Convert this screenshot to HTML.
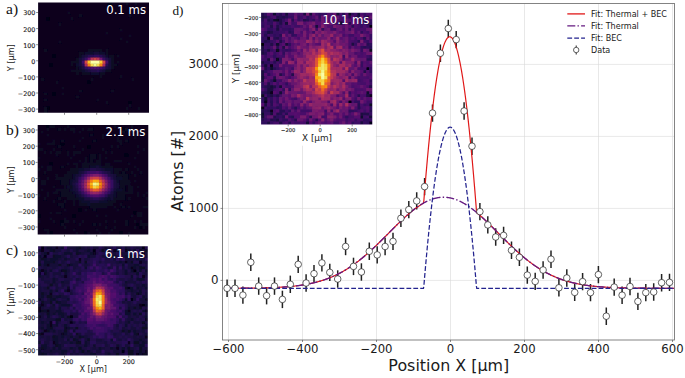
<!DOCTYPE html>
<html><head><meta charset="utf-8"><title>Figure</title>
<style>html,body{margin:0;padding:0;background:#fff}svg{display:block}</style>
</head><body>
<svg width="685" height="378" viewBox="0 0 685 378" font-family="'DejaVu Sans','Liberation Sans',sans-serif">
<rect width="685" height="378" fill="#fff"/>
<defs><filter id="bl" x="-5%" y="-5%" width="110%" height="110%"><feGaussianBlur stdDeviation="0.55"/></filter></defs>
<line x1="228.5" y1="3.5" x2="228.5" y2="340" stroke="#d9d9d9" stroke-width="0.6"/>
<line x1="302.5" y1="3.5" x2="302.5" y2="340" stroke="#d9d9d9" stroke-width="0.6"/>
<line x1="376.5" y1="3.5" x2="376.5" y2="340" stroke="#d9d9d9" stroke-width="0.6"/>
<line x1="450.5" y1="3.5" x2="450.5" y2="340" stroke="#d9d9d9" stroke-width="0.6"/>
<line x1="524.5" y1="3.5" x2="524.5" y2="340" stroke="#d9d9d9" stroke-width="0.6"/>
<line x1="598.5" y1="3.5" x2="598.5" y2="340" stroke="#d9d9d9" stroke-width="0.6"/>
<line x1="672.5" y1="3.5" x2="672.5" y2="340" stroke="#d9d9d9" stroke-width="0.6"/>
<line x1="222.5" y1="280.4" x2="674.5" y2="280.4" stroke="#d9d9d9" stroke-width="0.6"/>
<line x1="222.5" y1="208.4" x2="674.5" y2="208.4" stroke="#d9d9d9" stroke-width="0.6"/>
<line x1="222.5" y1="136.4" x2="674.5" y2="136.4" stroke="#d9d9d9" stroke-width="0.6"/>
<line x1="222.5" y1="64.4" x2="674.5" y2="64.4" stroke="#d9d9d9" stroke-width="0.6"/>
<clipPath id="cp"><rect x="222.5" y="3.5" width="452.0" height="336.5"/></clipPath>
<g clip-path="url(#cp)" fill="none">
<g stroke="#222" stroke-width="1.5">
<line x1="227.1" y1="279.6" x2="227.1" y2="297"/>
<line x1="235" y1="279.6" x2="235" y2="297"/>
<line x1="242.9" y1="286.4" x2="242.9" y2="303.8"/>
<line x1="250.8" y1="253.6" x2="250.8" y2="271"/>
<line x1="258.7" y1="277.4" x2="258.7" y2="294.8"/>
<line x1="266.6" y1="287" x2="266.6" y2="304.4"/>
<line x1="274.5" y1="277.4" x2="274.5" y2="294.8"/>
<line x1="282.4" y1="290.7" x2="282.4" y2="308.1"/>
<line x1="290.3" y1="275.6" x2="290.3" y2="293"/>
<line x1="298.2" y1="255.7" x2="298.2" y2="273.1"/>
<line x1="306.1" y1="274.3" x2="306.1" y2="291.7"/>
<line x1="314" y1="265" x2="314" y2="282.4"/>
<line x1="321.9" y1="254.2" x2="321.9" y2="271.6"/>
<line x1="329.8" y1="263.7" x2="329.8" y2="281.1"/>
<line x1="337.7" y1="270.3" x2="337.7" y2="287.7"/>
<line x1="345.6" y1="237.8" x2="345.6" y2="255.2"/>
<line x1="353.5" y1="257.7" x2="353.5" y2="275.1"/>
<line x1="361.4" y1="263.3" x2="361.4" y2="280.7"/>
<line x1="369.3" y1="242.6" x2="369.3" y2="260"/>
<line x1="377.2" y1="246.2" x2="377.2" y2="263.6"/>
<line x1="385.1" y1="237.8" x2="385.1" y2="255.2"/>
<line x1="393" y1="232.7" x2="393" y2="250.1"/>
<line x1="400.9" y1="209.6" x2="400.9" y2="227"/>
<line x1="408.8" y1="200.9" x2="408.8" y2="218.3"/>
<line x1="416.7" y1="192.2" x2="416.7" y2="209.6"/>
<line x1="424.6" y1="177.9" x2="424.6" y2="195.3"/>
<line x1="432.5" y1="104.4" x2="432.5" y2="121.8"/>
<line x1="440.4" y1="44.5" x2="440.4" y2="61.9"/>
<line x1="448.3" y1="19.8" x2="448.3" y2="37.2"/>
<line x1="456.2" y1="30.9" x2="456.2" y2="48.3"/>
<line x1="464.1" y1="102.3" x2="464.1" y2="119.7"/>
<line x1="472" y1="137.5" x2="472" y2="154.9"/>
<line x1="479.9" y1="202.9" x2="479.9" y2="220.3"/>
<line x1="487.8" y1="216.2" x2="487.8" y2="233.6"/>
<line x1="495.7" y1="228.3" x2="495.7" y2="245.7"/>
<line x1="503.6" y1="226.7" x2="503.6" y2="244.1"/>
<line x1="511.5" y1="241.6" x2="511.5" y2="259"/>
<line x1="519.4" y1="248.6" x2="519.4" y2="266"/>
<line x1="527.3" y1="266.4" x2="527.3" y2="283.8"/>
<line x1="535.2" y1="272.7" x2="535.2" y2="290.1"/>
<line x1="543.1" y1="261.3" x2="543.1" y2="278.7"/>
<line x1="551" y1="250.5" x2="551" y2="267.9"/>
<line x1="558.9" y1="279.1" x2="558.9" y2="296.5"/>
<line x1="566.8" y1="269.3" x2="566.8" y2="286.7"/>
<line x1="574.7" y1="283.7" x2="574.7" y2="301.1"/>
<line x1="582.6" y1="272.9" x2="582.6" y2="290.3"/>
<line x1="590.5" y1="283.9" x2="590.5" y2="301.3"/>
<line x1="598.4" y1="265.9" x2="598.4" y2="283.3"/>
<line x1="606.3" y1="307.5" x2="606.3" y2="324.9"/>
<line x1="614.2" y1="278.4" x2="614.2" y2="295.8"/>
<line x1="622.1" y1="286.5" x2="622.1" y2="303.9"/>
<line x1="630" y1="277.8" x2="630" y2="295.2"/>
<line x1="637.9" y1="292.7" x2="637.9" y2="310.1"/>
<line x1="645.8" y1="283.9" x2="645.8" y2="301.3"/>
<line x1="653.7" y1="283.3" x2="653.7" y2="300.7"/>
<line x1="661.6" y1="274" x2="661.6" y2="291.4"/>
<line x1="669.5" y1="273.7" x2="669.5" y2="291.1"/>
</g>
<polyline points="227.02,288.28 227.39,288.28 227.77,288.28 228.14,288.28 228.51,288.28 228.88,288.28 229.26,288.28 229.63,288.28 230,288.27 230.37,288.27 230.75,288.27 231.12,288.27 231.49,288.27 231.87,288.27 232.24,288.27 232.61,288.27 232.98,288.26 233.36,288.26 233.73,288.26 234.1,288.26 234.48,288.26 234.85,288.26 235.22,288.25 235.59,288.25 235.97,288.25 236.34,288.25 236.71,288.25 237.08,288.25 237.46,288.24 237.83,288.24 238.2,288.24 238.58,288.24 238.95,288.23 239.32,288.23 239.69,288.23 240.07,288.23 240.44,288.23 240.81,288.22 241.19,288.22 241.56,288.22 241.93,288.22 242.3,288.21 242.68,288.21 243.05,288.21 243.42,288.2 243.79,288.2 244.17,288.2 244.54,288.2 244.91,288.19 245.29,288.19 245.66,288.19 246.03,288.18 246.4,288.18 246.78,288.18 247.15,288.17 247.52,288.17 247.9,288.17 248.27,288.16 248.64,288.16 249.01,288.15 249.39,288.15 249.76,288.15 250.13,288.14 250.5,288.14 250.88,288.13 251.25,288.13 251.62,288.12 252,288.12 252.37,288.11 252.74,288.11 253.11,288.1 253.49,288.1 253.86,288.09 254.23,288.09 254.61,288.08 254.98,288.08 255.35,288.07 255.72,288.06 256.1,288.06 256.47,288.05 256.84,288.05 257.21,288.04 257.59,288.03 257.96,288.03 258.33,288.02 258.71,288.01 259.08,288.01 259.45,288 259.82,287.99 260.2,287.98 260.57,287.98 260.94,287.97 261.32,287.96 261.69,287.95 262.06,287.94 262.43,287.93 262.81,287.93 263.18,287.92 263.55,287.91 263.92,287.9 264.3,287.89 264.67,287.88 265.04,287.87 265.42,287.86 265.79,287.85 266.16,287.84 266.53,287.83 266.91,287.82 267.28,287.81 267.65,287.79 268.03,287.78 268.4,287.77 268.77,287.76 269.14,287.75 269.52,287.73 269.89,287.72 270.26,287.71 270.63,287.69 271.01,287.68 271.38,287.67 271.75,287.65 272.13,287.64 272.5,287.62 272.87,287.61 273.24,287.59 273.62,287.58 273.99,287.56 274.36,287.55 274.74,287.53 275.11,287.51 275.48,287.5 275.85,287.48 276.23,287.46 276.6,287.44 276.97,287.42 277.34,287.41 277.72,287.39 278.09,287.37 278.46,287.35 278.84,287.33 279.21,287.31 279.58,287.29 279.95,287.27 280.33,287.24 280.7,287.22 281.07,287.2 281.45,287.18 281.82,287.15 282.19,287.13 282.56,287.11 282.94,287.08 283.31,287.06 283.68,287.03 284.05,287 284.43,286.98 284.8,286.95 285.17,286.92 285.55,286.9 285.92,286.87 286.29,286.84 286.66,286.81 287.04,286.78 287.41,286.75 287.78,286.72 288.16,286.69 288.53,286.66 288.9,286.62 289.27,286.59 289.65,286.56 290.02,286.52 290.39,286.49 290.76,286.45 291.14,286.42 291.51,286.38 291.88,286.35 292.26,286.31 292.63,286.27 293,286.23 293.37,286.19 293.75,286.15 294.12,286.11 294.49,286.07 294.87,286.03 295.24,285.99 295.61,285.94 295.98,285.9 296.36,285.85 296.73,285.81 297.1,285.76 297.47,285.71 297.85,285.67 298.22,285.62 298.59,285.57 298.97,285.52 299.34,285.47 299.71,285.42 300.08,285.36 300.46,285.31 300.83,285.26 301.2,285.2 301.58,285.15 301.95,285.09 302.32,285.03 302.69,284.98 303.07,284.92 303.44,284.86 303.81,284.8 304.18,284.73 304.56,284.67 304.93,284.61 305.3,284.54 305.68,284.48 306.05,284.41 306.42,284.35 306.79,284.28 307.17,284.21 307.54,284.14 307.91,284.07 308.29,283.99 308.66,283.92 309.03,283.85 309.4,283.77 309.78,283.7 310.15,283.62 310.52,283.54 310.89,283.46 311.27,283.38 311.64,283.3 312.01,283.21 312.39,283.13 312.76,283.05 313.13,282.96 313.5,282.87 313.88,282.78 314.25,282.69 314.62,282.6 315,282.51 315.37,282.42 315.74,282.32 316.11,282.23 316.49,282.13 316.86,282.03 317.23,281.93 317.6,281.83 317.98,281.73 318.35,281.62 318.72,281.52 319.1,281.41 319.47,281.31 319.84,281.2 320.21,281.09 320.59,280.98 320.96,280.86 321.33,280.75 321.71,280.63 322.08,280.52 322.45,280.4 322.82,280.28 323.2,280.16 323.57,280.03 323.94,279.91 324.31,279.78 324.69,279.66 325.06,279.53 325.43,279.4 325.81,279.27 326.18,279.13 326.55,279 326.92,278.86 327.3,278.72 327.67,278.58 328.04,278.44 328.42,278.3 328.79,278.16 329.16,278.01 329.53,277.86 329.91,277.71 330.28,277.56 330.65,277.41 331.02,277.26 331.4,277.1 331.77,276.95 332.14,276.79 332.52,276.63 332.89,276.46 333.26,276.3 333.63,276.14 334.01,275.97 334.38,275.8 334.75,275.63 335.13,275.46 335.5,275.28 335.87,275.11 336.24,274.93 336.62,274.75 336.99,274.57 337.36,274.38 337.73,274.2 338.11,274.01 338.48,273.83 338.85,273.64 339.23,273.44 339.6,273.25 339.97,273.05 340.34,272.86 340.72,272.66 341.09,272.46 341.46,272.25 341.84,272.05 342.21,271.84 342.58,271.63 342.95,271.42 343.33,271.21 343.7,271 344.07,270.78 344.44,270.56 344.82,270.35 345.19,270.12 345.56,269.9 345.94,269.68 346.31,269.45 346.68,269.22 347.05,268.99 347.43,268.76 347.8,268.52 348.17,268.29 348.55,268.05 348.92,267.81 349.29,267.56 349.66,267.32 350.04,267.08 350.41,266.83 350.78,266.58 351.15,266.33 351.53,266.07 351.9,265.82 352.27,265.56 352.65,265.3 353.02,265.04 353.39,264.78 353.76,264.51 354.14,264.25 354.51,263.98 354.88,263.71 355.26,263.44 355.63,263.16 356,262.89 356.37,262.61 356.75,262.33 357.12,262.05 357.49,261.77 357.86,261.48 358.24,261.2 358.61,260.91 358.98,260.62 359.36,260.33 359.73,260.03 360.1,259.74 360.47,259.44 360.85,259.14 361.22,258.84 361.59,258.54 361.97,258.23 362.34,257.93 362.71,257.62 363.08,257.31 363.46,257 363.83,256.69 364.2,256.37 364.57,256.06 364.95,255.74 365.32,255.42 365.69,255.1 366.07,254.78 366.44,254.46 366.81,254.13 367.18,253.81 367.56,253.48 367.93,253.15 368.3,252.82 368.68,252.48 369.05,252.15 369.42,251.81 369.79,251.48 370.17,251.14 370.54,250.8 370.91,250.46 371.28,250.12 371.66,249.77 372.03,249.43 372.4,249.08 372.78,248.74 373.15,248.39 373.52,248.04 373.89,247.69 374.27,247.34 374.64,246.98 375.01,246.63 375.39,246.27 375.76,245.92 376.13,245.56 376.5,245.2 376.88,244.84 377.25,244.48 377.62,244.12 377.99,243.76 378.37,243.39 378.74,243.03 379.11,242.66 379.49,242.3 379.86,241.93 380.23,241.56 380.6,241.2 380.98,240.83 381.35,240.46 381.72,240.09 382.1,239.72 382.47,239.35 382.84,238.98 383.21,238.6 383.59,238.23 383.96,237.86 384.33,237.48 384.7,237.11 385.08,236.74 385.45,236.36 385.82,235.99 386.2,235.61 386.57,235.24 386.94,234.86 387.31,234.48 387.69,234.11 388.06,233.73 388.43,233.36 388.81,232.98 389.18,232.6 389.55,232.23 389.92,231.85 390.3,231.48 390.67,231.1 391.04,230.73 391.41,230.35 391.79,229.98 392.16,229.6 392.53,229.23 392.91,228.85 393.28,228.48 393.65,228.11 394.02,227.73 394.4,227.36 394.77,226.99 395.14,226.62 395.52,226.25 395.89,225.88 396.26,225.51 396.63,225.14 397.01,224.77 397.38,224.41 397.75,224.04 398.12,223.68 398.5,223.31 398.87,222.95 399.24,222.59 399.62,222.23 399.99,221.87 400.36,221.51 400.73,221.15 401.11,220.79 401.48,220.44 401.85,220.09 402.23,219.73 402.6,219.38 402.97,219.03 403.34,218.69 403.72,218.34 404.09,217.99 404.46,217.65 404.83,217.31 405.21,216.97 405.58,216.63 405.95,216.29 406.33,215.96 406.7,215.62 407.07,215.29 407.44,214.96 407.82,214.64 408.19,214.31 408.56,213.99 408.94,213.67 409.31,213.35 409.68,213.03 410.05,212.71 410.43,212.4 410.8,212.09 411.17,211.78 411.54,211.47 411.92,211.17 412.29,210.87 412.66,210.57 413.04,210.27 413.41,209.98 413.78,209.69 414.15,209.4 414.53,209.11 414.9,208.83 415.27,208.55 415.65,208.27 416.02,208 416.39,207.72 416.76,207.45 417.14,207.19 417.51,206.92 417.88,206.66 418.25,206.4 418.63,206.15 419,205.89 419.37,205.64 419.75,205.4 420.12,205.16 420.49,204.92 420.86,204.68 421.24,204.45 421.61,204.22 421.98,203.99 422.36,203.77 422.73,203.54 423.1,203.33 423.47,203.11 423.85,200.82 424.22,196.14 424.59,191.52 424.96,186.97 425.34,182.48 425.71,178.07 426.08,173.72 426.46,169.44 426.83,165.22 427.2,161.08 427.57,157 427.95,152.99 428.32,149.05 428.69,145.17 429.07,141.36 429.44,137.62 429.81,133.95 430.18,130.35 430.56,126.81 430.93,123.34 431.3,119.94 431.67,116.61 432.05,113.35 432.42,110.15 432.79,107.02 433.17,103.96 433.54,100.97 433.91,98.04 434.28,95.19 434.66,92.4 435.03,89.68 435.4,87.03 435.78,84.44 436.15,81.92 436.52,79.48 436.89,77.1 437.27,74.78 437.64,72.54 438.01,70.37 438.38,68.26 438.76,66.22 439.13,64.25 439.5,62.34 439.88,60.51 440.25,58.74 440.62,57.04 440.99,55.41 441.37,53.85 441.74,52.36 442.11,50.93 442.49,49.57 442.86,48.28 443.23,47.06 443.6,45.91 443.98,44.83 444.35,43.81 444.72,42.86 445.09,41.98 445.47,41.17 445.84,40.43 446.21,39.75 446.59,39.14 446.96,38.6 447.33,38.13 447.7,37.73 448.08,37.4 448.45,37.13 448.82,36.93 449.2,36.8 449.57,36.74 449.94,36.75 450.31,36.82 450.69,36.96 451.06,37.17 451.43,37.45 451.8,37.8 452.18,38.21 452.55,38.7 452.92,39.25 453.3,39.87 453.67,40.55 454.04,41.31 454.41,42.13 454.79,43.02 455.16,43.98 455.53,45.01 455.91,46.1 456.28,47.26 456.65,48.49 457.02,49.79 457.4,51.16 457.77,52.59 458.14,54.09 458.51,55.66 458.89,57.3 459.26,59.01 459.63,60.78 460.01,62.62 460.38,64.53 460.75,66.5 461.12,68.55 461.5,70.66 461.87,72.83 462.24,75.08 462.62,77.39 462.99,79.77 463.36,82.22 463.73,84.74 464.11,87.32 464.48,89.97 464.85,92.69 465.22,95.47 465.6,98.33 465.97,101.25 466.34,104.23 466.72,107.29 467.09,110.41 467.46,113.6 467.83,116.85 468.21,120.17 468.58,123.56 468.95,127.02 469.33,130.54 469.7,134.13 470.07,137.79 470.44,141.52 470.82,145.31 471.19,149.16 471.56,153.09 471.93,157.08 472.31,161.14 472.68,165.26 473.05,169.45 473.43,173.71 473.8,178.03 474.17,182.43 474.54,186.88 474.92,191.41 475.29,196 475.66,200.65 476.04,205.37 476.41,210.16 476.78,212.62 477.15,212.94 477.53,213.26 477.9,213.57 478.27,213.9 478.64,214.22 479.02,214.54 479.39,214.87 479.76,215.2 480.14,215.53 480.51,215.86 480.88,216.2 481.25,216.53 481.63,216.87 482,217.21 482.37,217.55 482.75,217.9 483.12,218.24 483.49,218.59 483.86,218.93 484.24,219.28 484.61,219.63 484.98,219.99 485.35,220.34 485.73,220.69 486.1,221.05 486.47,221.41 486.85,221.77 487.22,222.12 487.59,222.49 487.96,222.85 488.34,223.21 488.71,223.57 489.08,223.94 489.46,224.3 489.83,224.67 490.2,225.04 490.57,225.41 490.95,225.77 491.32,226.14 491.69,226.51 492.06,226.88 492.44,227.26 492.81,227.63 493.18,228 493.56,228.37 493.93,228.75 494.3,229.12 494.67,229.5 495.05,229.87 495.42,230.24 495.79,230.62 496.17,231 496.54,231.37 496.91,231.75 497.28,232.12 497.66,232.5 498.03,232.87 498.4,233.25 498.77,233.63 499.15,234 499.52,234.38 499.89,234.75 500.27,235.13 500.64,235.51 501.01,235.88 501.38,236.26 501.76,236.63 502.13,237 502.5,237.38 502.88,237.75 503.25,238.13 503.62,238.5 503.99,238.87 504.37,239.24 504.74,239.61 505.11,239.98 505.48,240.35 505.86,240.72 506.23,241.09 506.6,241.46 506.98,241.83 507.35,242.19 507.72,242.56 508.09,242.93 508.47,243.29 508.84,243.65 509.21,244.02 509.59,244.38 509.96,244.74 510.33,245.1 510.7,245.46 511.08,245.81 511.45,246.17 511.82,246.53 512.19,246.88 512.57,247.24 512.94,247.59 513.31,247.94 513.69,248.29 514.06,248.64 514.43,248.99 514.8,249.33 515.18,249.68 515.55,250.02 515.92,250.36 516.3,250.7 516.67,251.04 517.04,251.38 517.41,251.72 517.79,252.06 518.16,252.39 518.53,252.72 518.9,253.05 519.28,253.38 519.65,253.71 520.02,254.04 520.4,254.37 520.77,254.69 521.14,255.01 521.51,255.33 521.89,255.65 522.26,255.97 522.63,256.29 523.01,256.6 523.38,256.91 523.75,257.22 524.12,257.53 524.5,257.84 524.87,258.15 525.24,258.45 525.61,258.75 525.99,259.06 526.36,259.35 526.73,259.65 527.11,259.95 527.48,260.24 527.85,260.53 528.22,260.83 528.6,261.11 528.97,261.4 529.34,261.69 529.72,261.97 530.09,262.25 530.46,262.53 530.83,262.81 531.21,263.09 531.58,263.36 531.95,263.63 532.32,263.9 532.7,264.17 533.07,264.44 533.44,264.7 533.82,264.97 534.19,265.23 534.56,265.49 534.93,265.75 535.31,266 535.68,266.25 536.05,266.51 536.43,266.76 536.8,267.01 537.17,267.25 537.54,267.5 537.92,267.74 538.29,267.98 538.66,268.22 539.03,268.46 539.41,268.69 539.78,268.92 540.15,269.15 540.53,269.38 540.9,269.61 541.27,269.84 541.64,270.06 542.02,270.28 542.39,270.5 542.76,270.72 543.14,270.94 543.51,271.15 543.88,271.36 544.25,271.58 544.63,271.78 545,271.99 545.37,272.2 545.74,272.4 546.12,272.6 546.49,272.8 546.86,273 547.24,273.19 547.61,273.39 547.98,273.58 548.35,273.77 548.73,273.96 549.1,274.15 549.47,274.33 549.85,274.52 550.22,274.7 550.59,274.88 550.96,275.06 551.34,275.23 551.71,275.41 552.08,275.58 552.45,275.75 552.83,275.92 553.2,276.09 553.57,276.25 553.95,276.42 554.32,276.58 554.69,276.74 555.06,276.9 555.44,277.06 555.81,277.21 556.18,277.37 556.56,277.52 556.93,277.67 557.3,277.82 557.67,277.97 558.05,278.12 558.42,278.26 558.79,278.4 559.16,278.54 559.54,278.68 559.91,278.82 560.28,278.96 560.66,279.09 561.03,279.23 561.4,279.36 561.77,279.49 562.15,279.62 562.52,279.75 562.89,279.87 563.27,280 563.64,280.12 564.01,280.24 564.38,280.36 564.76,280.48 565.13,280.6 565.5,280.72 565.87,280.83 566.25,280.94 566.62,281.06 566.99,281.17 567.37,281.28 567.74,281.38 568.11,281.49 568.48,281.6 568.86,281.7 569.23,281.8 569.6,281.9 569.98,282 570.35,282.1 570.72,282.2 571.09,282.3 571.47,282.39 571.84,282.48 572.21,282.58 572.58,282.67 572.96,282.76 573.33,282.85 573.7,282.93 574.08,283.02 574.45,283.11 574.82,283.19 575.19,283.27 575.57,283.36 575.94,283.44 576.31,283.52 576.69,283.6 577.06,283.67 577.43,283.75 577.8,283.83 578.18,283.9 578.55,283.97 578.92,284.05 579.29,284.12 579.67,284.19 580.04,284.26 580.41,284.33 580.79,284.39 581.16,284.46 581.53,284.53 581.9,284.59 582.28,284.65 582.65,284.72 583.02,284.78 583.4,284.84 583.77,284.9 584.14,284.96 584.51,285.02 584.89,285.07 585.26,285.13 585.63,285.19 586,285.24 586.38,285.3 586.75,285.35 587.12,285.4 587.5,285.45 587.87,285.5 588.24,285.55 588.61,285.6 588.99,285.65 589.36,285.7 589.73,285.75 590.11,285.79 590.48,285.84 590.85,285.89 591.22,285.93 591.6,285.97 591.97,286.02 592.34,286.06 592.71,286.1 593.09,286.14 593.46,286.18 593.83,286.22 594.21,286.26 594.58,286.3 594.95,286.34 595.32,286.37 595.7,286.41 596.07,286.44 596.44,286.48 596.82,286.51 597.19,286.55 597.56,286.58 597.93,286.62 598.31,286.65 598.68,286.68 599.05,286.71 599.42,286.74 599.8,286.77 600.17,286.8 600.54,286.83 600.92,286.86 601.29,286.89 601.66,286.92 602.03,286.94 602.41,286.97 602.78,287 603.15,287.02 603.53,287.05 603.9,287.07 604.27,287.1 604.64,287.12 605.02,287.15 605.39,287.17 605.76,287.19 606.13,287.22 606.51,287.24 606.88,287.26 607.25,287.28 607.63,287.3 608,287.32 608.37,287.34 608.74,287.36 609.12,287.38 609.49,287.4 609.86,287.42 610.24,287.44 610.61,287.46 610.98,287.47 611.35,287.49 611.73,287.51 612.1,287.53 612.47,287.54 612.84,287.56 613.22,287.57 613.59,287.59 613.96,287.6 614.34,287.62 614.71,287.63 615.08,287.65 615.45,287.66 615.83,287.68 616.2,287.69 616.57,287.7 616.95,287.72 617.32,287.73 617.69,287.74 618.06,287.76 618.44,287.77 618.81,287.78 619.18,287.79 619.55,287.8 619.93,287.81 620.3,287.82 620.67,287.84 621.05,287.85 621.42,287.86 621.79,287.87 622.16,287.88 622.54,287.89 622.91,287.9 623.28,287.9 623.66,287.91 624.03,287.92 624.4,287.93 624.77,287.94 625.15,287.95 625.52,287.96 625.89,287.97 626.26,287.97 626.64,287.98 627.01,287.99 627.38,288 627.76,288 628.13,288.01 628.5,288.02 628.87,288.02 629.25,288.03 629.62,288.04 629.99,288.04 630.37,288.05 630.74,288.06 631.11,288.06 631.48,288.07 631.86,288.07 632.23,288.08 632.6,288.09 632.97,288.09 633.35,288.1 633.72,288.1 634.09,288.11 634.47,288.11 634.84,288.12 635.21,288.12 635.58,288.13 635.96,288.13 636.33,288.14 636.7,288.14 637.08,288.14 637.45,288.15 637.82,288.15 638.19,288.16 638.57,288.16 638.94,288.16 639.31,288.17 639.68,288.17 640.06,288.18 640.43,288.18 640.8,288.18 641.18,288.19 641.55,288.19 641.92,288.19 642.29,288.2 642.67,288.2 643.04,288.2 643.41,288.2 643.79,288.21 644.16,288.21 644.53,288.21 644.9,288.22 645.28,288.22 645.65,288.22 646.02,288.22 646.39,288.23 646.77,288.23 647.14,288.23 647.51,288.23 647.89,288.23 648.26,288.24 648.63,288.24 649,288.24 649.38,288.24 649.75,288.24 650.12,288.25 650.5,288.25 650.87,288.25 651.24,288.25 651.61,288.25 651.99,288.26 652.36,288.26 652.73,288.26 653.1,288.26 653.48,288.26 653.85,288.26 654.22,288.26 654.6,288.27 654.97,288.27 655.34,288.27 655.71,288.27 656.09,288.27 656.46,288.27 656.83,288.27 657.21,288.28 657.58,288.28 657.95,288.28 658.32,288.28 658.7,288.28 659.07,288.28 659.44,288.28 659.81,288.28 660.19,288.28 660.56,288.28 660.93,288.29 661.31,288.29 661.68,288.29 662.05,288.29 662.42,288.29 662.8,288.29 663.17,288.29 663.54,288.29 663.92,288.29 664.29,288.29 664.66,288.29 665.03,288.29 665.41,288.3 665.78,288.3 666.15,288.3 666.52,288.3 666.9,288.3 667.27,288.3 667.64,288.3 668.02,288.3 668.39,288.3 668.76,288.3 669.13,288.3 669.51,288.3 669.88,288.3 670.25,288.3 670.63,288.3 671,288.3 671.37,288.3 671.74,288.3 672.12,288.31 672.49,288.31 672.86,288.31 673.23,288.31 673.61,288.31 673.98,288.31" stroke="#e01818" stroke-width="1.2"/>
<polyline points="227.02,288.28 227.39,288.28 227.77,288.28 228.14,288.28 228.51,288.28 228.88,288.28 229.26,288.28 229.63,288.28 230,288.27 230.37,288.27 230.75,288.27 231.12,288.27 231.49,288.27 231.87,288.27 232.24,288.27 232.61,288.27 232.98,288.26 233.36,288.26 233.73,288.26 234.1,288.26 234.48,288.26 234.85,288.26 235.22,288.25 235.59,288.25 235.97,288.25 236.34,288.25 236.71,288.25 237.08,288.25 237.46,288.24 237.83,288.24 238.2,288.24 238.58,288.24 238.95,288.23 239.32,288.23 239.69,288.23 240.07,288.23 240.44,288.23 240.81,288.22 241.19,288.22 241.56,288.22 241.93,288.22 242.3,288.21 242.68,288.21 243.05,288.21 243.42,288.2 243.79,288.2 244.17,288.2 244.54,288.2 244.91,288.19 245.29,288.19 245.66,288.19 246.03,288.18 246.4,288.18 246.78,288.18 247.15,288.17 247.52,288.17 247.9,288.17 248.27,288.16 248.64,288.16 249.01,288.15 249.39,288.15 249.76,288.15 250.13,288.14 250.5,288.14 250.88,288.13 251.25,288.13 251.62,288.12 252,288.12 252.37,288.11 252.74,288.11 253.11,288.1 253.49,288.1 253.86,288.09 254.23,288.09 254.61,288.08 254.98,288.08 255.35,288.07 255.72,288.06 256.1,288.06 256.47,288.05 256.84,288.05 257.21,288.04 257.59,288.03 257.96,288.03 258.33,288.02 258.71,288.01 259.08,288.01 259.45,288 259.82,287.99 260.2,287.98 260.57,287.98 260.94,287.97 261.32,287.96 261.69,287.95 262.06,287.94 262.43,287.93 262.81,287.93 263.18,287.92 263.55,287.91 263.92,287.9 264.3,287.89 264.67,287.88 265.04,287.87 265.42,287.86 265.79,287.85 266.16,287.84 266.53,287.83 266.91,287.82 267.28,287.81 267.65,287.79 268.03,287.78 268.4,287.77 268.77,287.76 269.14,287.75 269.52,287.73 269.89,287.72 270.26,287.71 270.63,287.69 271.01,287.68 271.38,287.67 271.75,287.65 272.13,287.64 272.5,287.62 272.87,287.61 273.24,287.59 273.62,287.58 273.99,287.56 274.36,287.55 274.74,287.53 275.11,287.51 275.48,287.5 275.85,287.48 276.23,287.46 276.6,287.44 276.97,287.42 277.34,287.41 277.72,287.39 278.09,287.37 278.46,287.35 278.84,287.33 279.21,287.31 279.58,287.29 279.95,287.27 280.33,287.24 280.7,287.22 281.07,287.2 281.45,287.18 281.82,287.15 282.19,287.13 282.56,287.11 282.94,287.08 283.31,287.06 283.68,287.03 284.05,287 284.43,286.98 284.8,286.95 285.17,286.92 285.55,286.9 285.92,286.87 286.29,286.84 286.66,286.81 287.04,286.78 287.41,286.75 287.78,286.72 288.16,286.69 288.53,286.66 288.9,286.62 289.27,286.59 289.65,286.56 290.02,286.52 290.39,286.49 290.76,286.45 291.14,286.42 291.51,286.38 291.88,286.35 292.26,286.31 292.63,286.27 293,286.23 293.37,286.19 293.75,286.15 294.12,286.11 294.49,286.07 294.87,286.03 295.24,285.99 295.61,285.94 295.98,285.9 296.36,285.85 296.73,285.81 297.1,285.76 297.47,285.71 297.85,285.67 298.22,285.62 298.59,285.57 298.97,285.52 299.34,285.47 299.71,285.42 300.08,285.36 300.46,285.31 300.83,285.26 301.2,285.2 301.58,285.15 301.95,285.09 302.32,285.03 302.69,284.98 303.07,284.92 303.44,284.86 303.81,284.8 304.18,284.73 304.56,284.67 304.93,284.61 305.3,284.54 305.68,284.48 306.05,284.41 306.42,284.35 306.79,284.28 307.17,284.21 307.54,284.14 307.91,284.07 308.29,283.99 308.66,283.92 309.03,283.85 309.4,283.77 309.78,283.7 310.15,283.62 310.52,283.54 310.89,283.46 311.27,283.38 311.64,283.3 312.01,283.21 312.39,283.13 312.76,283.05 313.13,282.96 313.5,282.87 313.88,282.78 314.25,282.69 314.62,282.6 315,282.51 315.37,282.42 315.74,282.32 316.11,282.23 316.49,282.13 316.86,282.03 317.23,281.93 317.6,281.83 317.98,281.73 318.35,281.62 318.72,281.52 319.1,281.41 319.47,281.31 319.84,281.2 320.21,281.09 320.59,280.98 320.96,280.86 321.33,280.75 321.71,280.63 322.08,280.52 322.45,280.4 322.82,280.28 323.2,280.16 323.57,280.03 323.94,279.91 324.31,279.78 324.69,279.66 325.06,279.53 325.43,279.4 325.81,279.27 326.18,279.13 326.55,279 326.92,278.86 327.3,278.72 327.67,278.58 328.04,278.44 328.42,278.3 328.79,278.16 329.16,278.01 329.53,277.86 329.91,277.71 330.28,277.56 330.65,277.41 331.02,277.26 331.4,277.1 331.77,276.95 332.14,276.79 332.52,276.63 332.89,276.46 333.26,276.3 333.63,276.14 334.01,275.97 334.38,275.8 334.75,275.63 335.13,275.46 335.5,275.28 335.87,275.11 336.24,274.93 336.62,274.75 336.99,274.57 337.36,274.38 337.73,274.2 338.11,274.01 338.48,273.83 338.85,273.64 339.23,273.44 339.6,273.25 339.97,273.05 340.34,272.86 340.72,272.66 341.09,272.46 341.46,272.25 341.84,272.05 342.21,271.84 342.58,271.63 342.95,271.42 343.33,271.21 343.7,271 344.07,270.78 344.44,270.56 344.82,270.35 345.19,270.12 345.56,269.9 345.94,269.68 346.31,269.45 346.68,269.22 347.05,268.99 347.43,268.76 347.8,268.52 348.17,268.29 348.55,268.05 348.92,267.81 349.29,267.56 349.66,267.32 350.04,267.08 350.41,266.83 350.78,266.58 351.15,266.33 351.53,266.07 351.9,265.82 352.27,265.56 352.65,265.3 353.02,265.04 353.39,264.78 353.76,264.51 354.14,264.25 354.51,263.98 354.88,263.71 355.26,263.44 355.63,263.16 356,262.89 356.37,262.61 356.75,262.33 357.12,262.05 357.49,261.77 357.86,261.48 358.24,261.2 358.61,260.91 358.98,260.62 359.36,260.33 359.73,260.03 360.1,259.74 360.47,259.44 360.85,259.14 361.22,258.84 361.59,258.54 361.97,258.23 362.34,257.93 362.71,257.62 363.08,257.31 363.46,257 363.83,256.69 364.2,256.37 364.57,256.06 364.95,255.74 365.32,255.42 365.69,255.1 366.07,254.78 366.44,254.46 366.81,254.13 367.18,253.81 367.56,253.48 367.93,253.15 368.3,252.82 368.68,252.48 369.05,252.15 369.42,251.81 369.79,251.48 370.17,251.14 370.54,250.8 370.91,250.46 371.28,250.12 371.66,249.77 372.03,249.43 372.4,249.08 372.78,248.74 373.15,248.39 373.52,248.04 373.89,247.69 374.27,247.34 374.64,246.98 375.01,246.63 375.39,246.27 375.76,245.92 376.13,245.56 376.5,245.2 376.88,244.84 377.25,244.48 377.62,244.12 377.99,243.76 378.37,243.39 378.74,243.03 379.11,242.66 379.49,242.3 379.86,241.93 380.23,241.56 380.6,241.2 380.98,240.83 381.35,240.46 381.72,240.09 382.1,239.72 382.47,239.35 382.84,238.98 383.21,238.6 383.59,238.23 383.96,237.86 384.33,237.48 384.7,237.11 385.08,236.74 385.45,236.36 385.82,235.99 386.2,235.61 386.57,235.24 386.94,234.86 387.31,234.48 387.69,234.11 388.06,233.73 388.43,233.36 388.81,232.98 389.18,232.6 389.55,232.23 389.92,231.85 390.3,231.48 390.67,231.1 391.04,230.73 391.41,230.35 391.79,229.98 392.16,229.6 392.53,229.23 392.91,228.85 393.28,228.48 393.65,228.11 394.02,227.73 394.4,227.36 394.77,226.99 395.14,226.62 395.52,226.25 395.89,225.88 396.26,225.51 396.63,225.14 397.01,224.77 397.38,224.41 397.75,224.04 398.12,223.68 398.5,223.31 398.87,222.95 399.24,222.59 399.62,222.23 399.99,221.87 400.36,221.51 400.73,221.15 401.11,220.79 401.48,220.44 401.85,220.09 402.23,219.73 402.6,219.38 402.97,219.03 403.34,218.69 403.72,218.34 404.09,217.99 404.46,217.65 404.83,217.31 405.21,216.97 405.58,216.63 405.95,216.29 406.33,215.96 406.7,215.62 407.07,215.29 407.44,214.96 407.82,214.64 408.19,214.31 408.56,213.99 408.94,213.67 409.31,213.35 409.68,213.03 410.05,212.71 410.43,212.4 410.8,212.09 411.17,211.78 411.54,211.47 411.92,211.17 412.29,210.87 412.66,210.57 413.04,210.27 413.41,209.98 413.78,209.69 414.15,209.4 414.53,209.11 414.9,208.83 415.27,208.55 415.65,208.27 416.02,208 416.39,207.72 416.76,207.45 417.14,207.19 417.51,206.92 417.88,206.66 418.25,206.4 418.63,206.15 419,205.89 419.37,205.64 419.75,205.4 420.12,205.16 420.49,204.92 420.86,204.68 421.24,204.45 421.61,204.22 421.98,203.99 422.36,203.77 422.73,203.54 423.1,203.33 423.47,203.11 423.85,202.9 424.22,202.7 424.59,202.49 424.96,202.29 425.34,202.1 425.71,201.91 426.08,201.72 426.46,201.53 426.83,201.35 427.2,201.17 427.57,201 427.95,200.83 428.32,200.66 428.69,200.5 429.07,200.34 429.44,200.18 429.81,200.03 430.18,199.88 430.56,199.74 430.93,199.6 431.3,199.46 431.67,199.33 432.05,199.2 432.42,199.08 432.79,198.95 433.17,198.84 433.54,198.73 433.91,198.62 434.28,198.51 434.66,198.41 435.03,198.32 435.4,198.22 435.78,198.13 436.15,198.05 436.52,197.97 436.89,197.89 437.27,197.82 437.64,197.75 438.01,197.69 438.38,197.63 438.76,197.58 439.13,197.53 439.5,197.48 439.88,197.44 440.25,197.4 440.62,197.36 440.99,197.33 441.37,197.31 441.74,197.29 442.11,197.27 442.49,197.25 442.86,197.25 443.23,197.24 443.6,197.24 443.98,197.24 444.35,197.25 444.72,197.26 445.09,197.28 445.47,197.3 445.84,197.33 446.21,197.35 446.59,197.39 446.96,197.42 447.33,197.47 447.7,197.51 448.08,197.56 448.45,197.62 448.82,197.67 449.2,197.74 449.57,197.8 449.94,197.87 450.31,197.95 450.69,198.03 451.06,198.11 451.43,198.2 451.8,198.29 452.18,198.38 452.55,198.48 452.92,198.59 453.3,198.69 453.67,198.81 454.04,198.92 454.41,199.04 454.79,199.16 455.16,199.29 455.53,199.42 455.91,199.56 456.28,199.7 456.65,199.84 457.02,199.99 457.4,200.14 457.77,200.29 458.14,200.45 458.51,200.61 458.89,200.78 459.26,200.95 459.63,201.12 460.01,201.3 460.38,201.48 460.75,201.66 461.12,201.85 461.5,202.04 461.87,202.24 462.24,202.44 462.62,202.64 462.99,202.85 463.36,203.05 463.73,203.27 464.11,203.48 464.48,203.7 464.85,203.93 465.22,204.15 465.6,204.38 465.97,204.61 466.34,204.85 466.72,205.09 467.09,205.33 467.46,205.57 467.83,205.82 468.21,206.07 468.58,206.33 468.95,206.59 469.33,206.85 469.7,207.11 470.07,207.38 470.44,207.65 470.82,207.92 471.19,208.19 471.56,208.47 471.93,208.75 472.31,209.03 472.68,209.32 473.05,209.61 473.43,209.9 473.8,210.19 474.17,210.49 474.54,210.78 474.92,211.09 475.29,211.39 475.66,211.69 476.04,212 476.41,212.31 476.78,212.62 477.15,212.94 477.53,213.26 477.9,213.57 478.27,213.9 478.64,214.22 479.02,214.54 479.39,214.87 479.76,215.2 480.14,215.53 480.51,215.86 480.88,216.2 481.25,216.53 481.63,216.87 482,217.21 482.37,217.55 482.75,217.9 483.12,218.24 483.49,218.59 483.86,218.93 484.24,219.28 484.61,219.63 484.98,219.99 485.35,220.34 485.73,220.69 486.1,221.05 486.47,221.41 486.85,221.77 487.22,222.12 487.59,222.49 487.96,222.85 488.34,223.21 488.71,223.57 489.08,223.94 489.46,224.3 489.83,224.67 490.2,225.04 490.57,225.41 490.95,225.77 491.32,226.14 491.69,226.51 492.06,226.88 492.44,227.26 492.81,227.63 493.18,228 493.56,228.37 493.93,228.75 494.3,229.12 494.67,229.5 495.05,229.87 495.42,230.24 495.79,230.62 496.17,231 496.54,231.37 496.91,231.75 497.28,232.12 497.66,232.5 498.03,232.87 498.4,233.25 498.77,233.63 499.15,234 499.52,234.38 499.89,234.75 500.27,235.13 500.64,235.51 501.01,235.88 501.38,236.26 501.76,236.63 502.13,237 502.5,237.38 502.88,237.75 503.25,238.13 503.62,238.5 503.99,238.87 504.37,239.24 504.74,239.61 505.11,239.98 505.48,240.35 505.86,240.72 506.23,241.09 506.6,241.46 506.98,241.83 507.35,242.19 507.72,242.56 508.09,242.93 508.47,243.29 508.84,243.65 509.21,244.02 509.59,244.38 509.96,244.74 510.33,245.1 510.7,245.46 511.08,245.81 511.45,246.17 511.82,246.53 512.19,246.88 512.57,247.24 512.94,247.59 513.31,247.94 513.69,248.29 514.06,248.64 514.43,248.99 514.8,249.33 515.18,249.68 515.55,250.02 515.92,250.36 516.3,250.7 516.67,251.04 517.04,251.38 517.41,251.72 517.79,252.06 518.16,252.39 518.53,252.72 518.9,253.05 519.28,253.38 519.65,253.71 520.02,254.04 520.4,254.37 520.77,254.69 521.14,255.01 521.51,255.33 521.89,255.65 522.26,255.97 522.63,256.29 523.01,256.6 523.38,256.91 523.75,257.22 524.12,257.53 524.5,257.84 524.87,258.15 525.24,258.45 525.61,258.75 525.99,259.06 526.36,259.35 526.73,259.65 527.11,259.95 527.48,260.24 527.85,260.53 528.22,260.83 528.6,261.11 528.97,261.4 529.34,261.69 529.72,261.97 530.09,262.25 530.46,262.53 530.83,262.81 531.21,263.09 531.58,263.36 531.95,263.63 532.32,263.9 532.7,264.17 533.07,264.44 533.44,264.7 533.82,264.97 534.19,265.23 534.56,265.49 534.93,265.75 535.31,266 535.68,266.25 536.05,266.51 536.43,266.76 536.8,267.01 537.17,267.25 537.54,267.5 537.92,267.74 538.29,267.98 538.66,268.22 539.03,268.46 539.41,268.69 539.78,268.92 540.15,269.15 540.53,269.38 540.9,269.61 541.27,269.84 541.64,270.06 542.02,270.28 542.39,270.5 542.76,270.72 543.14,270.94 543.51,271.15 543.88,271.36 544.25,271.58 544.63,271.78 545,271.99 545.37,272.2 545.74,272.4 546.12,272.6 546.49,272.8 546.86,273 547.24,273.19 547.61,273.39 547.98,273.58 548.35,273.77 548.73,273.96 549.1,274.15 549.47,274.33 549.85,274.52 550.22,274.7 550.59,274.88 550.96,275.06 551.34,275.23 551.71,275.41 552.08,275.58 552.45,275.75 552.83,275.92 553.2,276.09 553.57,276.25 553.95,276.42 554.32,276.58 554.69,276.74 555.06,276.9 555.44,277.06 555.81,277.21 556.18,277.37 556.56,277.52 556.93,277.67 557.3,277.82 557.67,277.97 558.05,278.12 558.42,278.26 558.79,278.4 559.16,278.54 559.54,278.68 559.91,278.82 560.28,278.96 560.66,279.09 561.03,279.23 561.4,279.36 561.77,279.49 562.15,279.62 562.52,279.75 562.89,279.87 563.27,280 563.64,280.12 564.01,280.24 564.38,280.36 564.76,280.48 565.13,280.6 565.5,280.72 565.87,280.83 566.25,280.94 566.62,281.06 566.99,281.17 567.37,281.28 567.74,281.38 568.11,281.49 568.48,281.6 568.86,281.7 569.23,281.8 569.6,281.9 569.98,282 570.35,282.1 570.72,282.2 571.09,282.3 571.47,282.39 571.84,282.48 572.21,282.58 572.58,282.67 572.96,282.76 573.33,282.85 573.7,282.93 574.08,283.02 574.45,283.11 574.82,283.19 575.19,283.27 575.57,283.36 575.94,283.44 576.31,283.52 576.69,283.6 577.06,283.67 577.43,283.75 577.8,283.83 578.18,283.9 578.55,283.97 578.92,284.05 579.29,284.12 579.67,284.19 580.04,284.26 580.41,284.33 580.79,284.39 581.16,284.46 581.53,284.53 581.9,284.59 582.28,284.65 582.65,284.72 583.02,284.78 583.4,284.84 583.77,284.9 584.14,284.96 584.51,285.02 584.89,285.07 585.26,285.13 585.63,285.19 586,285.24 586.38,285.3 586.75,285.35 587.12,285.4 587.5,285.45 587.87,285.5 588.24,285.55 588.61,285.6 588.99,285.65 589.36,285.7 589.73,285.75 590.11,285.79 590.48,285.84 590.85,285.89 591.22,285.93 591.6,285.97 591.97,286.02 592.34,286.06 592.71,286.1 593.09,286.14 593.46,286.18 593.83,286.22 594.21,286.26 594.58,286.3 594.95,286.34 595.32,286.37 595.7,286.41 596.07,286.44 596.44,286.48 596.82,286.51 597.19,286.55 597.56,286.58 597.93,286.62 598.31,286.65 598.68,286.68 599.05,286.71 599.42,286.74 599.8,286.77 600.17,286.8 600.54,286.83 600.92,286.86 601.29,286.89 601.66,286.92 602.03,286.94 602.41,286.97 602.78,287 603.15,287.02 603.53,287.05 603.9,287.07 604.27,287.1 604.64,287.12 605.02,287.15 605.39,287.17 605.76,287.19 606.13,287.22 606.51,287.24 606.88,287.26 607.25,287.28 607.63,287.3 608,287.32 608.37,287.34 608.74,287.36 609.12,287.38 609.49,287.4 609.86,287.42 610.24,287.44 610.61,287.46 610.98,287.47 611.35,287.49 611.73,287.51 612.1,287.53 612.47,287.54 612.84,287.56 613.22,287.57 613.59,287.59 613.96,287.6 614.34,287.62 614.71,287.63 615.08,287.65 615.45,287.66 615.83,287.68 616.2,287.69 616.57,287.7 616.95,287.72 617.32,287.73 617.69,287.74 618.06,287.76 618.44,287.77 618.81,287.78 619.18,287.79 619.55,287.8 619.93,287.81 620.3,287.82 620.67,287.84 621.05,287.85 621.42,287.86 621.79,287.87 622.16,287.88 622.54,287.89 622.91,287.9 623.28,287.9 623.66,287.91 624.03,287.92 624.4,287.93 624.77,287.94 625.15,287.95 625.52,287.96 625.89,287.97 626.26,287.97 626.64,287.98 627.01,287.99 627.38,288 627.76,288 628.13,288.01 628.5,288.02 628.87,288.02 629.25,288.03 629.62,288.04 629.99,288.04 630.37,288.05 630.74,288.06 631.11,288.06 631.48,288.07 631.86,288.07 632.23,288.08 632.6,288.09 632.97,288.09 633.35,288.1 633.72,288.1 634.09,288.11 634.47,288.11 634.84,288.12 635.21,288.12 635.58,288.13 635.96,288.13 636.33,288.14 636.7,288.14 637.08,288.14 637.45,288.15 637.82,288.15 638.19,288.16 638.57,288.16 638.94,288.16 639.31,288.17 639.68,288.17 640.06,288.18 640.43,288.18 640.8,288.18 641.18,288.19 641.55,288.19 641.92,288.19 642.29,288.2 642.67,288.2 643.04,288.2 643.41,288.2 643.79,288.21 644.16,288.21 644.53,288.21 644.9,288.22 645.28,288.22 645.65,288.22 646.02,288.22 646.39,288.23 646.77,288.23 647.14,288.23 647.51,288.23 647.89,288.23 648.26,288.24 648.63,288.24 649,288.24 649.38,288.24 649.75,288.24 650.12,288.25 650.5,288.25 650.87,288.25 651.24,288.25 651.61,288.25 651.99,288.26 652.36,288.26 652.73,288.26 653.1,288.26 653.48,288.26 653.85,288.26 654.22,288.26 654.6,288.27 654.97,288.27 655.34,288.27 655.71,288.27 656.09,288.27 656.46,288.27 656.83,288.27 657.21,288.28 657.58,288.28 657.95,288.28 658.32,288.28 658.7,288.28 659.07,288.28 659.44,288.28 659.81,288.28 660.19,288.28 660.56,288.28 660.93,288.29 661.31,288.29 661.68,288.29 662.05,288.29 662.42,288.29 662.8,288.29 663.17,288.29 663.54,288.29 663.92,288.29 664.29,288.29 664.66,288.29 665.03,288.29 665.41,288.3 665.78,288.3 666.15,288.3 666.52,288.3 666.9,288.3 667.27,288.3 667.64,288.3 668.02,288.3 668.39,288.3 668.76,288.3 669.13,288.3 669.51,288.3 669.88,288.3 670.25,288.3 670.63,288.3 671,288.3 671.37,288.3 671.74,288.3 672.12,288.31 672.49,288.31 672.86,288.31 673.23,288.31 673.61,288.31 673.98,288.31" stroke="#641a80" stroke-width="1.35" stroke-dasharray="8 2.2 1.4 2.2"/>
<polyline points="227.02,288.32 227.39,288.32 227.77,288.32 228.14,288.32 228.51,288.32 228.88,288.32 229.26,288.32 229.63,288.32 230,288.32 230.37,288.32 230.75,288.32 231.12,288.32 231.49,288.32 231.87,288.32 232.24,288.32 232.61,288.32 232.98,288.32 233.36,288.32 233.73,288.32 234.1,288.32 234.48,288.32 234.85,288.32 235.22,288.32 235.59,288.32 235.97,288.32 236.34,288.32 236.71,288.32 237.08,288.32 237.46,288.32 237.83,288.32 238.2,288.32 238.58,288.32 238.95,288.32 239.32,288.32 239.69,288.32 240.07,288.32 240.44,288.32 240.81,288.32 241.19,288.32 241.56,288.32 241.93,288.32 242.3,288.32 242.68,288.32 243.05,288.32 243.42,288.32 243.79,288.32 244.17,288.32 244.54,288.32 244.91,288.32 245.29,288.32 245.66,288.32 246.03,288.32 246.4,288.32 246.78,288.32 247.15,288.32 247.52,288.32 247.9,288.32 248.27,288.32 248.64,288.32 249.01,288.32 249.39,288.32 249.76,288.32 250.13,288.32 250.5,288.32 250.88,288.32 251.25,288.32 251.62,288.32 252,288.32 252.37,288.32 252.74,288.32 253.11,288.32 253.49,288.32 253.86,288.32 254.23,288.32 254.61,288.32 254.98,288.32 255.35,288.32 255.72,288.32 256.1,288.32 256.47,288.32 256.84,288.32 257.21,288.32 257.59,288.32 257.96,288.32 258.33,288.32 258.71,288.32 259.08,288.32 259.45,288.32 259.82,288.32 260.2,288.32 260.57,288.32 260.94,288.32 261.32,288.32 261.69,288.32 262.06,288.32 262.43,288.32 262.81,288.32 263.18,288.32 263.55,288.32 263.92,288.32 264.3,288.32 264.67,288.32 265.04,288.32 265.42,288.32 265.79,288.32 266.16,288.32 266.53,288.32 266.91,288.32 267.28,288.32 267.65,288.32 268.03,288.32 268.4,288.32 268.77,288.32 269.14,288.32 269.52,288.32 269.89,288.32 270.26,288.32 270.63,288.32 271.01,288.32 271.38,288.32 271.75,288.32 272.13,288.32 272.5,288.32 272.87,288.32 273.24,288.32 273.62,288.32 273.99,288.32 274.36,288.32 274.74,288.32 275.11,288.32 275.48,288.32 275.85,288.32 276.23,288.32 276.6,288.32 276.97,288.32 277.34,288.32 277.72,288.32 278.09,288.32 278.46,288.32 278.84,288.32 279.21,288.32 279.58,288.32 279.95,288.32 280.33,288.32 280.7,288.32 281.07,288.32 281.45,288.32 281.82,288.32 282.19,288.32 282.56,288.32 282.94,288.32 283.31,288.32 283.68,288.32 284.05,288.32 284.43,288.32 284.8,288.32 285.17,288.32 285.55,288.32 285.92,288.32 286.29,288.32 286.66,288.32 287.04,288.32 287.41,288.32 287.78,288.32 288.16,288.32 288.53,288.32 288.9,288.32 289.27,288.32 289.65,288.32 290.02,288.32 290.39,288.32 290.76,288.32 291.14,288.32 291.51,288.32 291.88,288.32 292.26,288.32 292.63,288.32 293,288.32 293.37,288.32 293.75,288.32 294.12,288.32 294.49,288.32 294.87,288.32 295.24,288.32 295.61,288.32 295.98,288.32 296.36,288.32 296.73,288.32 297.1,288.32 297.47,288.32 297.85,288.32 298.22,288.32 298.59,288.32 298.97,288.32 299.34,288.32 299.71,288.32 300.08,288.32 300.46,288.32 300.83,288.32 301.2,288.32 301.58,288.32 301.95,288.32 302.32,288.32 302.69,288.32 303.07,288.32 303.44,288.32 303.81,288.32 304.18,288.32 304.56,288.32 304.93,288.32 305.3,288.32 305.68,288.32 306.05,288.32 306.42,288.32 306.79,288.32 307.17,288.32 307.54,288.32 307.91,288.32 308.29,288.32 308.66,288.32 309.03,288.32 309.4,288.32 309.78,288.32 310.15,288.32 310.52,288.32 310.89,288.32 311.27,288.32 311.64,288.32 312.01,288.32 312.39,288.32 312.76,288.32 313.13,288.32 313.5,288.32 313.88,288.32 314.25,288.32 314.62,288.32 315,288.32 315.37,288.32 315.74,288.32 316.11,288.32 316.49,288.32 316.86,288.32 317.23,288.32 317.6,288.32 317.98,288.32 318.35,288.32 318.72,288.32 319.1,288.32 319.47,288.32 319.84,288.32 320.21,288.32 320.59,288.32 320.96,288.32 321.33,288.32 321.71,288.32 322.08,288.32 322.45,288.32 322.82,288.32 323.2,288.32 323.57,288.32 323.94,288.32 324.31,288.32 324.69,288.32 325.06,288.32 325.43,288.32 325.81,288.32 326.18,288.32 326.55,288.32 326.92,288.32 327.3,288.32 327.67,288.32 328.04,288.32 328.42,288.32 328.79,288.32 329.16,288.32 329.53,288.32 329.91,288.32 330.28,288.32 330.65,288.32 331.02,288.32 331.4,288.32 331.77,288.32 332.14,288.32 332.52,288.32 332.89,288.32 333.26,288.32 333.63,288.32 334.01,288.32 334.38,288.32 334.75,288.32 335.13,288.32 335.5,288.32 335.87,288.32 336.24,288.32 336.62,288.32 336.99,288.32 337.36,288.32 337.73,288.32 338.11,288.32 338.48,288.32 338.85,288.32 339.23,288.32 339.6,288.32 339.97,288.32 340.34,288.32 340.72,288.32 341.09,288.32 341.46,288.32 341.84,288.32 342.21,288.32 342.58,288.32 342.95,288.32 343.33,288.32 343.7,288.32 344.07,288.32 344.44,288.32 344.82,288.32 345.19,288.32 345.56,288.32 345.94,288.32 346.31,288.32 346.68,288.32 347.05,288.32 347.43,288.32 347.8,288.32 348.17,288.32 348.55,288.32 348.92,288.32 349.29,288.32 349.66,288.32 350.04,288.32 350.41,288.32 350.78,288.32 351.15,288.32 351.53,288.32 351.9,288.32 352.27,288.32 352.65,288.32 353.02,288.32 353.39,288.32 353.76,288.32 354.14,288.32 354.51,288.32 354.88,288.32 355.26,288.32 355.63,288.32 356,288.32 356.37,288.32 356.75,288.32 357.12,288.32 357.49,288.32 357.86,288.32 358.24,288.32 358.61,288.32 358.98,288.32 359.36,288.32 359.73,288.32 360.1,288.32 360.47,288.32 360.85,288.32 361.22,288.32 361.59,288.32 361.97,288.32 362.34,288.32 362.71,288.32 363.08,288.32 363.46,288.32 363.83,288.32 364.2,288.32 364.57,288.32 364.95,288.32 365.32,288.32 365.69,288.32 366.07,288.32 366.44,288.32 366.81,288.32 367.18,288.32 367.56,288.32 367.93,288.32 368.3,288.32 368.68,288.32 369.05,288.32 369.42,288.32 369.79,288.32 370.17,288.32 370.54,288.32 370.91,288.32 371.28,288.32 371.66,288.32 372.03,288.32 372.4,288.32 372.78,288.32 373.15,288.32 373.52,288.32 373.89,288.32 374.27,288.32 374.64,288.32 375.01,288.32 375.39,288.32 375.76,288.32 376.13,288.32 376.5,288.32 376.88,288.32 377.25,288.32 377.62,288.32 377.99,288.32 378.37,288.32 378.74,288.32 379.11,288.32 379.49,288.32 379.86,288.32 380.23,288.32 380.6,288.32 380.98,288.32 381.35,288.32 381.72,288.32 382.1,288.32 382.47,288.32 382.84,288.32 383.21,288.32 383.59,288.32 383.96,288.32 384.33,288.32 384.7,288.32 385.08,288.32 385.45,288.32 385.82,288.32 386.2,288.32 386.57,288.32 386.94,288.32 387.31,288.32 387.69,288.32 388.06,288.32 388.43,288.32 388.81,288.32 389.18,288.32 389.55,288.32 389.92,288.32 390.3,288.32 390.67,288.32 391.04,288.32 391.41,288.32 391.79,288.32 392.16,288.32 392.53,288.32 392.91,288.32 393.28,288.32 393.65,288.32 394.02,288.32 394.4,288.32 394.77,288.32 395.14,288.32 395.52,288.32 395.89,288.32 396.26,288.32 396.63,288.32 397.01,288.32 397.38,288.32 397.75,288.32 398.12,288.32 398.5,288.32 398.87,288.32 399.24,288.32 399.62,288.32 399.99,288.32 400.36,288.32 400.73,288.32 401.11,288.32 401.48,288.32 401.85,288.32 402.23,288.32 402.6,288.32 402.97,288.32 403.34,288.32 403.72,288.32 404.09,288.32 404.46,288.32 404.83,288.32 405.21,288.32 405.58,288.32 405.95,288.32 406.33,288.32 406.7,288.32 407.07,288.32 407.44,288.32 407.82,288.32 408.19,288.32 408.56,288.32 408.94,288.32 409.31,288.32 409.68,288.32 410.05,288.32 410.43,288.32 410.8,288.32 411.17,288.32 411.54,288.32 411.92,288.32 412.29,288.32 412.66,288.32 413.04,288.32 413.41,288.32 413.78,288.32 414.15,288.32 414.53,288.32 414.9,288.32 415.27,288.32 415.65,288.32 416.02,288.32 416.39,288.32 416.76,288.32 417.14,288.32 417.51,288.32 417.88,288.32 418.25,288.32 418.63,288.32 419,288.32 419.37,288.32 419.75,288.32 420.12,288.32 420.49,288.32 420.86,288.32 421.24,288.32 421.61,288.32 421.98,288.32 422.36,288.32 422.73,288.32 423.1,288.32 423.47,288.32 423.85,286.24 424.22,281.76 424.59,277.34 424.96,272.99 425.34,268.7 425.71,264.48 426.08,260.32 426.46,256.22 426.83,252.19 427.2,248.22 427.57,244.32 427.95,240.48 428.32,236.71 428.69,232.99 429.07,229.35 429.44,225.76 429.81,222.24 430.18,218.79 430.56,215.39 430.93,212.07 431.3,208.8 431.67,205.6 432.05,202.47 432.42,199.39 432.79,196.39 433.17,193.44 433.54,190.56 433.91,187.75 434.28,184.99 434.66,182.31 435.03,179.68 435.4,177.12 435.78,174.63 436.15,172.19 436.52,169.83 436.89,167.52 437.27,165.28 437.64,163.11 438.01,160.99 438.38,158.95 438.76,156.96 439.13,155.04 439.5,153.19 439.88,151.39 440.25,149.66 440.62,148 440.99,146.4 441.37,144.86 441.74,143.39 442.11,141.98 442.49,140.64 442.86,139.36 443.23,138.14 443.6,136.99 443.98,135.9 444.35,134.88 444.72,133.92 445.09,133.02 445.47,132.19 445.84,131.42 446.21,130.72 446.59,130.08 446.96,129.5 447.33,128.99 447.7,128.54 448.08,128.15 448.45,127.83 448.82,127.58 449.2,127.39 449.57,127.26 449.94,127.19 450.31,127.19 450.69,127.26 451.06,127.38 451.43,127.57 451.8,127.83 452.18,128.15 452.55,128.53 452.92,128.98 453.3,129.49 453.67,130.07 454.04,130.71 454.41,131.41 454.79,132.18 455.16,133.01 455.53,133.9 455.91,134.86 456.28,135.89 456.65,136.97 457.02,138.13 457.4,139.34 457.77,140.62 458.14,141.96 458.51,143.37 458.89,144.84 459.26,146.38 459.63,147.98 460.01,149.64 460.38,151.37 460.75,153.16 461.12,155.01 461.5,156.93 461.87,158.92 462.24,160.96 462.62,163.07 462.99,165.25 463.36,167.49 463.73,169.79 464.11,172.16 464.48,174.59 464.85,177.08 465.22,179.64 465.6,182.27 465.97,184.95 466.34,187.7 466.72,190.52 467.09,193.4 467.46,196.34 467.83,199.35 468.21,202.42 468.58,205.56 468.95,208.75 469.33,212.02 469.7,215.34 470.07,218.73 470.44,222.19 470.82,225.71 471.19,229.29 471.56,232.94 471.93,236.65 472.31,240.42 472.68,244.26 473.05,248.17 473.43,252.13 473.8,256.16 474.17,260.26 474.54,264.42 474.92,268.64 475.29,272.93 475.66,277.28 476.04,281.69 476.41,286.17 476.78,288.32 477.15,288.32 477.53,288.32 477.9,288.32 478.27,288.32 478.64,288.32 479.02,288.32 479.39,288.32 479.76,288.32 480.14,288.32 480.51,288.32 480.88,288.32 481.25,288.32 481.63,288.32 482,288.32 482.37,288.32 482.75,288.32 483.12,288.32 483.49,288.32 483.86,288.32 484.24,288.32 484.61,288.32 484.98,288.32 485.35,288.32 485.73,288.32 486.1,288.32 486.47,288.32 486.85,288.32 487.22,288.32 487.59,288.32 487.96,288.32 488.34,288.32 488.71,288.32 489.08,288.32 489.46,288.32 489.83,288.32 490.2,288.32 490.57,288.32 490.95,288.32 491.32,288.32 491.69,288.32 492.06,288.32 492.44,288.32 492.81,288.32 493.18,288.32 493.56,288.32 493.93,288.32 494.3,288.32 494.67,288.32 495.05,288.32 495.42,288.32 495.79,288.32 496.17,288.32 496.54,288.32 496.91,288.32 497.28,288.32 497.66,288.32 498.03,288.32 498.4,288.32 498.77,288.32 499.15,288.32 499.52,288.32 499.89,288.32 500.27,288.32 500.64,288.32 501.01,288.32 501.38,288.32 501.76,288.32 502.13,288.32 502.5,288.32 502.88,288.32 503.25,288.32 503.62,288.32 503.99,288.32 504.37,288.32 504.74,288.32 505.11,288.32 505.48,288.32 505.86,288.32 506.23,288.32 506.6,288.32 506.98,288.32 507.35,288.32 507.72,288.32 508.09,288.32 508.47,288.32 508.84,288.32 509.21,288.32 509.59,288.32 509.96,288.32 510.33,288.32 510.7,288.32 511.08,288.32 511.45,288.32 511.82,288.32 512.19,288.32 512.57,288.32 512.94,288.32 513.31,288.32 513.69,288.32 514.06,288.32 514.43,288.32 514.8,288.32 515.18,288.32 515.55,288.32 515.92,288.32 516.3,288.32 516.67,288.32 517.04,288.32 517.41,288.32 517.79,288.32 518.16,288.32 518.53,288.32 518.9,288.32 519.28,288.32 519.65,288.32 520.02,288.32 520.4,288.32 520.77,288.32 521.14,288.32 521.51,288.32 521.89,288.32 522.26,288.32 522.63,288.32 523.01,288.32 523.38,288.32 523.75,288.32 524.12,288.32 524.5,288.32 524.87,288.32 525.24,288.32 525.61,288.32 525.99,288.32 526.36,288.32 526.73,288.32 527.11,288.32 527.48,288.32 527.85,288.32 528.22,288.32 528.6,288.32 528.97,288.32 529.34,288.32 529.72,288.32 530.09,288.32 530.46,288.32 530.83,288.32 531.21,288.32 531.58,288.32 531.95,288.32 532.32,288.32 532.7,288.32 533.07,288.32 533.44,288.32 533.82,288.32 534.19,288.32 534.56,288.32 534.93,288.32 535.31,288.32 535.68,288.32 536.05,288.32 536.43,288.32 536.8,288.32 537.17,288.32 537.54,288.32 537.92,288.32 538.29,288.32 538.66,288.32 539.03,288.32 539.41,288.32 539.78,288.32 540.15,288.32 540.53,288.32 540.9,288.32 541.27,288.32 541.64,288.32 542.02,288.32 542.39,288.32 542.76,288.32 543.14,288.32 543.51,288.32 543.88,288.32 544.25,288.32 544.63,288.32 545,288.32 545.37,288.32 545.74,288.32 546.12,288.32 546.49,288.32 546.86,288.32 547.24,288.32 547.61,288.32 547.98,288.32 548.35,288.32 548.73,288.32 549.1,288.32 549.47,288.32 549.85,288.32 550.22,288.32 550.59,288.32 550.96,288.32 551.34,288.32 551.71,288.32 552.08,288.32 552.45,288.32 552.83,288.32 553.2,288.32 553.57,288.32 553.95,288.32 554.32,288.32 554.69,288.32 555.06,288.32 555.44,288.32 555.81,288.32 556.18,288.32 556.56,288.32 556.93,288.32 557.3,288.32 557.67,288.32 558.05,288.32 558.42,288.32 558.79,288.32 559.16,288.32 559.54,288.32 559.91,288.32 560.28,288.32 560.66,288.32 561.03,288.32 561.4,288.32 561.77,288.32 562.15,288.32 562.52,288.32 562.89,288.32 563.27,288.32 563.64,288.32 564.01,288.32 564.38,288.32 564.76,288.32 565.13,288.32 565.5,288.32 565.87,288.32 566.25,288.32 566.62,288.32 566.99,288.32 567.37,288.32 567.74,288.32 568.11,288.32 568.48,288.32 568.86,288.32 569.23,288.32 569.6,288.32 569.98,288.32 570.35,288.32 570.72,288.32 571.09,288.32 571.47,288.32 571.84,288.32 572.21,288.32 572.58,288.32 572.96,288.32 573.33,288.32 573.7,288.32 574.08,288.32 574.45,288.32 574.82,288.32 575.19,288.32 575.57,288.32 575.94,288.32 576.31,288.32 576.69,288.32 577.06,288.32 577.43,288.32 577.8,288.32 578.18,288.32 578.55,288.32 578.92,288.32 579.29,288.32 579.67,288.32 580.04,288.32 580.41,288.32 580.79,288.32 581.16,288.32 581.53,288.32 581.9,288.32 582.28,288.32 582.65,288.32 583.02,288.32 583.4,288.32 583.77,288.32 584.14,288.32 584.51,288.32 584.89,288.32 585.26,288.32 585.63,288.32 586,288.32 586.38,288.32 586.75,288.32 587.12,288.32 587.5,288.32 587.87,288.32 588.24,288.32 588.61,288.32 588.99,288.32 589.36,288.32 589.73,288.32 590.11,288.32 590.48,288.32 590.85,288.32 591.22,288.32 591.6,288.32 591.97,288.32 592.34,288.32 592.71,288.32 593.09,288.32 593.46,288.32 593.83,288.32 594.21,288.32 594.58,288.32 594.95,288.32 595.32,288.32 595.7,288.32 596.07,288.32 596.44,288.32 596.82,288.32 597.19,288.32 597.56,288.32 597.93,288.32 598.31,288.32 598.68,288.32 599.05,288.32 599.42,288.32 599.8,288.32 600.17,288.32 600.54,288.32 600.92,288.32 601.29,288.32 601.66,288.32 602.03,288.32 602.41,288.32 602.78,288.32 603.15,288.32 603.53,288.32 603.9,288.32 604.27,288.32 604.64,288.32 605.02,288.32 605.39,288.32 605.76,288.32 606.13,288.32 606.51,288.32 606.88,288.32 607.25,288.32 607.63,288.32 608,288.32 608.37,288.32 608.74,288.32 609.12,288.32 609.49,288.32 609.86,288.32 610.24,288.32 610.61,288.32 610.98,288.32 611.35,288.32 611.73,288.32 612.1,288.32 612.47,288.32 612.84,288.32 613.22,288.32 613.59,288.32 613.96,288.32 614.34,288.32 614.71,288.32 615.08,288.32 615.45,288.32 615.83,288.32 616.2,288.32 616.57,288.32 616.95,288.32 617.32,288.32 617.69,288.32 618.06,288.32 618.44,288.32 618.81,288.32 619.18,288.32 619.55,288.32 619.93,288.32 620.3,288.32 620.67,288.32 621.05,288.32 621.42,288.32 621.79,288.32 622.16,288.32 622.54,288.32 622.91,288.32 623.28,288.32 623.66,288.32 624.03,288.32 624.4,288.32 624.77,288.32 625.15,288.32 625.52,288.32 625.89,288.32 626.26,288.32 626.64,288.32 627.01,288.32 627.38,288.32 627.76,288.32 628.13,288.32 628.5,288.32 628.87,288.32 629.25,288.32 629.62,288.32 629.99,288.32 630.37,288.32 630.74,288.32 631.11,288.32 631.48,288.32 631.86,288.32 632.23,288.32 632.6,288.32 632.97,288.32 633.35,288.32 633.72,288.32 634.09,288.32 634.47,288.32 634.84,288.32 635.21,288.32 635.58,288.32 635.96,288.32 636.33,288.32 636.7,288.32 637.08,288.32 637.45,288.32 637.82,288.32 638.19,288.32 638.57,288.32 638.94,288.32 639.31,288.32 639.68,288.32 640.06,288.32 640.43,288.32 640.8,288.32 641.18,288.32 641.55,288.32 641.92,288.32 642.29,288.32 642.67,288.32 643.04,288.32 643.41,288.32 643.79,288.32 644.16,288.32 644.53,288.32 644.9,288.32 645.28,288.32 645.65,288.32 646.02,288.32 646.39,288.32 646.77,288.32 647.14,288.32 647.51,288.32 647.89,288.32 648.26,288.32 648.63,288.32 649,288.32 649.38,288.32 649.75,288.32 650.12,288.32 650.5,288.32 650.87,288.32 651.24,288.32 651.61,288.32 651.99,288.32 652.36,288.32 652.73,288.32 653.1,288.32 653.48,288.32 653.85,288.32 654.22,288.32 654.6,288.32 654.97,288.32 655.34,288.32 655.71,288.32 656.09,288.32 656.46,288.32 656.83,288.32 657.21,288.32 657.58,288.32 657.95,288.32 658.32,288.32 658.7,288.32 659.07,288.32 659.44,288.32 659.81,288.32 660.19,288.32 660.56,288.32 660.93,288.32 661.31,288.32 661.68,288.32 662.05,288.32 662.42,288.32 662.8,288.32 663.17,288.32 663.54,288.32 663.92,288.32 664.29,288.32 664.66,288.32 665.03,288.32 665.41,288.32 665.78,288.32 666.15,288.32 666.52,288.32 666.9,288.32 667.27,288.32 667.64,288.32 668.02,288.32 668.39,288.32 668.76,288.32 669.13,288.32 669.51,288.32 669.88,288.32 670.25,288.32 670.63,288.32 671,288.32 671.37,288.32 671.74,288.32 672.12,288.32 672.49,288.32 672.86,288.32 673.23,288.32 673.61,288.32 673.98,288.32" stroke="#23238e" stroke-width="1.25" stroke-dasharray="4.8 2.1"/>
<g stroke="#222" stroke-width="0.7" fill="#fff">
<circle cx="227.1" cy="288.3" r="3.3"/>
<circle cx="235" cy="288.3" r="3.3"/>
<circle cx="242.9" cy="295.1" r="3.3"/>
<circle cx="250.8" cy="262.3" r="3.3"/>
<circle cx="258.7" cy="286.1" r="3.3"/>
<circle cx="266.6" cy="295.7" r="3.3"/>
<circle cx="274.5" cy="286.1" r="3.3"/>
<circle cx="282.4" cy="299.4" r="3.3"/>
<circle cx="290.3" cy="284.3" r="3.3"/>
<circle cx="298.2" cy="264.4" r="3.3"/>
<circle cx="306.1" cy="283" r="3.3"/>
<circle cx="314" cy="273.7" r="3.3"/>
<circle cx="321.9" cy="262.9" r="3.3"/>
<circle cx="329.8" cy="272.4" r="3.3"/>
<circle cx="337.7" cy="279" r="3.3"/>
<circle cx="345.6" cy="246.5" r="3.3"/>
<circle cx="353.5" cy="266.4" r="3.3"/>
<circle cx="361.4" cy="272" r="3.3"/>
<circle cx="369.3" cy="251.3" r="3.3"/>
<circle cx="377.2" cy="254.9" r="3.3"/>
<circle cx="385.1" cy="246.5" r="3.3"/>
<circle cx="393" cy="241.4" r="3.3"/>
<circle cx="400.9" cy="218.3" r="3.3"/>
<circle cx="408.8" cy="209.6" r="3.3"/>
<circle cx="416.7" cy="200.9" r="3.3"/>
<circle cx="424.6" cy="186.6" r="3.3"/>
<circle cx="432.5" cy="113.1" r="3.3"/>
<circle cx="440.4" cy="53.2" r="3.3"/>
<circle cx="448.3" cy="28.5" r="3.3"/>
<circle cx="456.2" cy="39.6" r="3.3"/>
<circle cx="464.1" cy="111" r="3.3"/>
<circle cx="472" cy="146.2" r="3.3"/>
<circle cx="479.9" cy="211.6" r="3.3"/>
<circle cx="487.8" cy="224.9" r="3.3"/>
<circle cx="495.7" cy="237" r="3.3"/>
<circle cx="503.6" cy="235.4" r="3.3"/>
<circle cx="511.5" cy="250.3" r="3.3"/>
<circle cx="519.4" cy="257.3" r="3.3"/>
<circle cx="527.3" cy="275.1" r="3.3"/>
<circle cx="535.2" cy="281.4" r="3.3"/>
<circle cx="543.1" cy="270" r="3.3"/>
<circle cx="551" cy="259.2" r="3.3"/>
<circle cx="558.9" cy="287.8" r="3.3"/>
<circle cx="566.8" cy="278" r="3.3"/>
<circle cx="574.7" cy="292.4" r="3.3"/>
<circle cx="582.6" cy="281.6" r="3.3"/>
<circle cx="590.5" cy="292.6" r="3.3"/>
<circle cx="598.4" cy="274.6" r="3.3"/>
<circle cx="606.3" cy="316.2" r="3.3"/>
<circle cx="614.2" cy="287.1" r="3.3"/>
<circle cx="622.1" cy="295.2" r="3.3"/>
<circle cx="630" cy="286.5" r="3.3"/>
<circle cx="637.9" cy="301.4" r="3.3"/>
<circle cx="645.8" cy="292.6" r="3.3"/>
<circle cx="653.7" cy="292" r="3.3"/>
<circle cx="661.6" cy="282.7" r="3.3"/>
<circle cx="669.5" cy="282.4" r="3.3"/>
</g>
</g>
<rect x="222.5" y="3.5" width="452" height="336.5" fill="none" stroke="#6e6e6e" stroke-width="0.85"/>
<line x1="228.5" y1="340" x2="228.5" y2="342" stroke="#444" stroke-width="0.6"/>
<text x="228.5" y="353.2" font-size="11.7" text-anchor="middle" fill="#1a1a1a">−600</text>
<line x1="302.5" y1="340" x2="302.5" y2="342" stroke="#444" stroke-width="0.6"/>
<text x="302.5" y="353.2" font-size="11.7" text-anchor="middle" fill="#1a1a1a">−400</text>
<line x1="376.5" y1="340" x2="376.5" y2="342" stroke="#444" stroke-width="0.6"/>
<text x="376.5" y="353.2" font-size="11.7" text-anchor="middle" fill="#1a1a1a">−200</text>
<line x1="450.5" y1="340" x2="450.5" y2="342" stroke="#444" stroke-width="0.6"/>
<text x="450.5" y="353.2" font-size="11.7" text-anchor="middle" fill="#1a1a1a">0</text>
<line x1="524.5" y1="340" x2="524.5" y2="342" stroke="#444" stroke-width="0.6"/>
<text x="524.5" y="353.2" font-size="11.7" text-anchor="middle" fill="#1a1a1a">200</text>
<line x1="598.5" y1="340" x2="598.5" y2="342" stroke="#444" stroke-width="0.6"/>
<text x="598.5" y="353.2" font-size="11.7" text-anchor="middle" fill="#1a1a1a">400</text>
<line x1="672.5" y1="340" x2="672.5" y2="342" stroke="#444" stroke-width="0.6"/>
<text x="672.5" y="353.2" font-size="11.7" text-anchor="middle" fill="#1a1a1a">600</text>
<line x1="220.5" y1="280.4" x2="222.5" y2="280.4" stroke="#444" stroke-width="0.6"/>
<text x="218.5" y="284.2" font-size="11.8" text-anchor="end" fill="#1a1a1a">0</text>
<line x1="220.5" y1="208.4" x2="222.5" y2="208.4" stroke="#444" stroke-width="0.6"/>
<text x="218.5" y="212.2" font-size="11.8" text-anchor="end" fill="#1a1a1a">1000</text>
<line x1="220.5" y1="136.4" x2="222.5" y2="136.4" stroke="#444" stroke-width="0.6"/>
<text x="218.5" y="140.2" font-size="11.8" text-anchor="end" fill="#1a1a1a">2000</text>
<line x1="220.5" y1="64.4" x2="222.5" y2="64.4" stroke="#444" stroke-width="0.6"/>
<text x="218.5" y="68.2" font-size="11.8" text-anchor="end" fill="#1a1a1a">3000</text>
<text x="448.8" y="371.1" font-size="15.9" text-anchor="middle" fill="#1a1a1a">Position X [µm]</text>
<text transform="translate(183.3 171.3) rotate(-90)" font-size="15.9" text-anchor="middle" fill="#1a1a1a">Atoms [#]</text>
<line x1="567.3" y1="13.9" x2="585" y2="13.9" stroke="#e01818" stroke-width="1.3"/>
<line x1="567.3" y1="25.8" x2="585" y2="25.8" stroke="#641a80" stroke-width="1.35" stroke-dasharray="8 2.2 1.4 2.2"/>
<line x1="567.3" y1="38" x2="585" y2="38" stroke="#23238e" stroke-width="1.25" stroke-dasharray="4.8 2.1"/>
<line x1="576.2" y1="45.5" x2="576.2" y2="54.5" stroke="#222" stroke-width="1"/>
<circle cx="576.2" cy="50" r="2.7" fill="#fff" stroke="#222" stroke-width="0.7"/>
<text x="591" y="16.7" font-size="8.05" fill="#1a1a1a">Fit: Thermal + BEC</text>
<text x="591" y="28.6" font-size="8.05" fill="#1a1a1a">Fit: Thermal</text>
<text x="591" y="40.8" font-size="8.05" fill="#1a1a1a">Fit: BEC</text>
<text x="591" y="52.8" font-size="8.05" fill="#1a1a1a">Data</text>
<rect x="229.5" y="10.5" width="146.3" height="135.2" fill="#fff"/>
<clipPath id="h1"><rect x="261.1" y="12.7" width="111.2" height="111.7"/></clipPath>
<g clip-path="url(#h1)"><g filter="url(#bl)">
<rect x="258.1" y="9.7" width="117.2" height="117.7" fill="#440a68"/>
<path fill="#000004" d="M260.95 42.74h3.31v3.32h-3.31z"/>
<path fill="#02010a" d="M369.14 24.63h3.31v3.32h-3.31z"/>
<path fill="#040312" d="M366.14 66.89h3.31v3.32h-3.31zM348.11 100.1h3.31v3.32h-3.31zM369.14 121.23h3.31v3.32h-3.31z"/>
<path fill="#07051b" d="M266.96 36.7h3.31v3.32h-3.31zM269.97 63.87h3.31v3.32h-3.31zM269.97 91.04h3.31v3.32h-3.31zM369.14 94.06h3.31v3.32h-3.31zM263.96 100.1h3.31v3.32h-3.31zM260.95 106.14h3.31v3.32h-3.31zM269.97 109.16h3.31v3.32h-3.31z"/>
<path fill="#0b0724" d="M348.11 12.55h3.31v3.32h-3.31zM275.98 18.59h3.31v3.32h-3.31zM275.98 48.78h3.31v3.32h-3.31zM369.14 48.78h3.31v3.32h-3.31zM275.98 57.83h3.31v3.32h-3.31zM260.95 94.06h3.31v3.32h-3.31zM369.14 103.12h3.31v3.32h-3.31z"/>
<path fill="#10092d" d="M272.97 12.55h3.31v3.32h-3.31zM272.97 18.59h3.31v3.32h-3.31zM339.09 21.61h3.31v3.32h-3.31zM275.98 42.74h3.31v3.32h-3.31zM269.97 66.89h3.31v3.32h-3.31zM272.97 78.97h3.31v3.32h-3.31zM366.14 91.04h3.31v3.32h-3.31zM260.95 112.17h3.31v3.32h-3.31zM360.13 115.19h3.31v3.32h-3.31z"/>
<path fill="#150b37" d="M284.99 12.55h3.31v3.32h-3.31zM309.04 12.55h3.31v3.32h-3.31zM336.09 12.55h3.31v3.32h-3.31zM357.12 12.55h3.31v3.32h-3.31zM363.13 18.59h3.31v3.32h-3.31zM284.99 21.61h3.31v3.32h-3.31zM315.05 24.63h3.31v3.32h-3.31zM284.99 42.74h3.31v3.32h-3.31zM266.96 57.83h3.31v3.32h-3.31zM263.96 63.87h3.31v3.32h-3.31zM260.95 75.95h3.31v3.32h-3.31zM269.97 85h3.31v3.32h-3.31zM278.98 85h3.31v3.32h-3.31zM278.98 91.04h3.31v3.32h-3.31zM263.96 97.08h3.31v3.32h-3.31zM269.97 112.17h3.31v3.32h-3.31zM260.95 115.19h3.31v3.32h-3.31zM369.14 115.19h3.31v3.32h-3.31zM306.03 121.23h3.31v3.32h-3.31z"/>
<path fill="#1b0c41" d="M303.03 12.55h3.31v3.32h-3.31zM260.95 15.57h3.31v3.32h-3.31zM357.12 15.57h3.31v3.32h-3.31zM366.14 15.57h3.31v3.32h-3.31zM275.98 27.64h3.31v3.32h-3.31zM266.96 30.66h3.31v3.32h-3.31zM351.11 42.74h3.31v3.32h-3.31zM260.95 45.76h3.31v3.32h-3.31zM266.96 48.78h3.31v3.32h-3.31zM260.95 51.8h3.31v3.32h-3.31zM260.95 60.85h3.31v3.32h-3.31zM260.95 69.91h3.31v3.32h-3.31zM260.95 72.93h3.31v3.32h-3.31zM260.95 78.97h3.31v3.32h-3.31zM266.96 88.02h3.31v3.32h-3.31zM269.97 88.02h3.31v3.32h-3.31zM266.96 91.04h3.31v3.32h-3.31zM269.97 94.06h3.31v3.32h-3.31zM366.14 94.06h3.31v3.32h-3.31zM263.96 103.12h3.31v3.32h-3.31zM360.13 112.17h3.31v3.32h-3.31zM275.98 118.21h3.31v3.32h-3.31zM266.96 121.23h3.31v3.32h-3.31zM360.13 121.23h3.31v3.32h-3.31z"/>
<path fill="#210c4a" d="M260.95 12.55h3.31v3.32h-3.31zM263.96 15.57h3.31v3.32h-3.31zM275.98 15.57h3.31v3.32h-3.31zM281.99 15.57h3.31v3.32h-3.31zM266.96 18.59h3.31v3.32h-3.31zM278.98 18.59h3.31v3.32h-3.31zM303.03 18.59h3.31v3.32h-3.31zM278.98 21.61h3.31v3.32h-3.31zM366.14 21.61h3.31v3.32h-3.31zM269.97 24.63h3.31v3.32h-3.31zM275.98 24.63h3.31v3.32h-3.31zM269.97 30.66h3.31v3.32h-3.31zM275.98 36.7h3.31v3.32h-3.31zM263.96 39.72h3.31v3.32h-3.31zM278.98 39.72h3.31v3.32h-3.31zM269.97 42.74h3.31v3.32h-3.31zM281.99 45.76h3.31v3.32h-3.31zM260.95 48.78h3.31v3.32h-3.31zM263.96 66.89h3.31v3.32h-3.31zM363.13 69.91h3.31v3.32h-3.31zM278.98 72.93h3.31v3.32h-3.31zM291 72.93h3.31v3.32h-3.31zM272.97 75.95h3.31v3.32h-3.31zM266.96 81.99h3.31v3.32h-3.31zM266.96 85h3.31v3.32h-3.31zM272.97 85h3.31v3.32h-3.31zM369.14 85h3.31v3.32h-3.31zM275.98 94.06h3.31v3.32h-3.31zM260.95 109.16h3.31v3.32h-3.31zM275.98 112.17h3.31v3.32h-3.31zM363.13 112.17h3.31v3.32h-3.31zM366.14 112.17h3.31v3.32h-3.31zM272.97 115.19h3.31v3.32h-3.31zM269.97 118.21h3.31v3.32h-3.31zM278.98 121.23h3.31v3.32h-3.31z"/>
<path fill="#280b53" d="M278.98 12.55h3.31v3.32h-3.31zM342.1 12.55h3.31v3.32h-3.31zM278.98 15.57h3.31v3.32h-3.31zM284.99 15.57h3.31v3.32h-3.31zM348.11 15.57h3.31v3.32h-3.31zM354.12 15.57h3.31v3.32h-3.31zM260.95 18.59h3.31v3.32h-3.31zM291 18.59h3.31v3.32h-3.31zM306.03 18.59h3.31v3.32h-3.31zM348.11 21.61h3.31v3.32h-3.31zM351.11 24.63h3.31v3.32h-3.31zM288 30.66h3.31v3.32h-3.31zM263.96 33.68h3.31v3.32h-3.31zM278.98 33.68h3.31v3.32h-3.31zM272.97 36.7h3.31v3.32h-3.31zM363.13 36.7h3.31v3.32h-3.31zM266.96 39.72h3.31v3.32h-3.31zM357.12 39.72h3.31v3.32h-3.31zM366.14 42.74h3.31v3.32h-3.31zM275.98 45.76h3.31v3.32h-3.31zM363.13 45.76h3.31v3.32h-3.31zM369.14 45.76h3.31v3.32h-3.31zM263.96 51.8h3.31v3.32h-3.31zM366.14 57.83h3.31v3.32h-3.31zM369.14 57.83h3.31v3.32h-3.31zM272.97 60.85h3.31v3.32h-3.31zM272.97 66.89h3.31v3.32h-3.31zM263.96 85h3.31v3.32h-3.31zM260.95 91.04h3.31v3.32h-3.31zM263.96 91.04h3.31v3.32h-3.31zM266.96 94.06h3.31v3.32h-3.31zM357.12 94.06h3.31v3.32h-3.31zM269.97 100.1h3.31v3.32h-3.31zM269.97 103.12h3.31v3.32h-3.31zM357.12 103.12h3.31v3.32h-3.31zM275.98 106.14h3.31v3.32h-3.31zM294.01 106.14h3.31v3.32h-3.31zM357.12 106.14h3.31v3.32h-3.31zM266.96 109.16h3.31v3.32h-3.31zM278.98 109.16h3.31v3.32h-3.31zM281.99 109.16h3.31v3.32h-3.31zM369.14 109.16h3.31v3.32h-3.31zM278.98 112.17h3.31v3.32h-3.31zM284.99 112.17h3.31v3.32h-3.31zM281.99 115.19h3.31v3.32h-3.31zM291 115.19h3.31v3.32h-3.31zM309.04 115.19h3.31v3.32h-3.31zM260.95 118.21h3.31v3.32h-3.31zM272.97 118.21h3.31v3.32h-3.31zM294.01 118.21h3.31v3.32h-3.31zM315.05 118.21h3.31v3.32h-3.31zM288 121.23h3.31v3.32h-3.31z"/>
<path fill="#2f0a5b" d="M263.96 12.55h3.31v3.32h-3.31zM318.05 12.55h3.31v3.32h-3.31zM351.11 12.55h3.31v3.32h-3.31zM266.96 15.57h3.31v3.32h-3.31zM306.03 15.57h3.31v3.32h-3.31zM318.05 15.57h3.31v3.32h-3.31zM363.13 15.57h3.31v3.32h-3.31zM269.97 18.59h3.31v3.32h-3.31zM312.04 18.59h3.31v3.32h-3.31zM357.12 18.59h3.31v3.32h-3.31zM269.97 21.61h3.31v3.32h-3.31zM369.14 21.61h3.31v3.32h-3.31zM260.95 24.63h3.31v3.32h-3.31zM266.96 27.64h3.31v3.32h-3.31zM269.97 27.64h3.31v3.32h-3.31zM288 27.64h3.31v3.32h-3.31zM321.06 27.64h3.31v3.32h-3.31zM263.96 30.66h3.31v3.32h-3.31zM291 30.66h3.31v3.32h-3.31zM360.13 30.66h3.31v3.32h-3.31zM272.97 33.68h3.31v3.32h-3.31zM291 33.68h3.31v3.32h-3.31zM260.95 36.7h3.31v3.32h-3.31zM260.95 39.72h3.31v3.32h-3.31zM288 42.74h3.31v3.32h-3.31zM369.14 42.74h3.31v3.32h-3.31zM360.13 45.76h3.31v3.32h-3.31zM366.14 45.76h3.31v3.32h-3.31zM263.96 48.78h3.31v3.32h-3.31zM284.99 48.78h3.31v3.32h-3.31zM281.99 51.8h3.31v3.32h-3.31zM272.97 54.81h3.31v3.32h-3.31zM369.14 54.81h3.31v3.32h-3.31zM263.96 60.85h3.31v3.32h-3.31zM266.96 60.85h3.31v3.32h-3.31zM266.96 66.89h3.31v3.32h-3.31zM263.96 69.91h3.31v3.32h-3.31zM369.14 69.91h3.31v3.32h-3.31zM266.96 72.93h3.31v3.32h-3.31zM269.97 78.97h3.31v3.32h-3.31zM369.14 78.97h3.31v3.32h-3.31zM260.95 81.99h3.31v3.32h-3.31zM284.99 81.99h3.31v3.32h-3.31zM260.95 85h3.31v3.32h-3.31zM281.99 88.02h3.31v3.32h-3.31zM288 88.02h3.31v3.32h-3.31zM272.97 94.06h3.31v3.32h-3.31zM260.95 97.08h3.31v3.32h-3.31zM269.97 97.08h3.31v3.32h-3.31zM260.95 100.1h3.31v3.32h-3.31zM275.98 100.1h3.31v3.32h-3.31zM354.12 100.1h3.31v3.32h-3.31zM357.12 100.1h3.31v3.32h-3.31zM278.98 103.12h3.31v3.32h-3.31zM269.97 106.14h3.31v3.32h-3.31zM278.98 106.14h3.31v3.32h-3.31zM369.14 106.14h3.31v3.32h-3.31zM263.96 109.16h3.31v3.32h-3.31zM288 109.16h3.31v3.32h-3.31zM348.11 109.16h3.31v3.32h-3.31zM351.11 109.16h3.31v3.32h-3.31zM275.98 115.19h3.31v3.32h-3.31zM288 115.19h3.31v3.32h-3.31zM345.1 115.19h3.31v3.32h-3.31zM281.99 118.21h3.31v3.32h-3.31zM284.99 118.21h3.31v3.32h-3.31zM363.13 118.21h3.31v3.32h-3.31zM366.14 118.21h3.31v3.32h-3.31zM260.95 121.23h3.31v3.32h-3.31zM263.96 121.23h3.31v3.32h-3.31zM351.11 121.23h3.31v3.32h-3.31zM366.14 121.23h3.31v3.32h-3.31z"/>
<path fill="#360961" d="M275.98 12.55h3.31v3.32h-3.31zM321.06 12.55h3.31v3.32h-3.31zM324.06 12.55h3.31v3.32h-3.31zM363.13 12.55h3.31v3.32h-3.31zM288 15.57h3.31v3.32h-3.31zM291 15.57h3.31v3.32h-3.31zM297.01 15.57h3.31v3.32h-3.31zM281.99 18.59h3.31v3.32h-3.31zM297.01 18.59h3.31v3.32h-3.31zM369.14 18.59h3.31v3.32h-3.31zM260.95 21.61h3.31v3.32h-3.31zM266.96 21.61h3.31v3.32h-3.31zM275.98 21.61h3.31v3.32h-3.31zM333.08 21.61h3.31v3.32h-3.31zM360.13 21.61h3.31v3.32h-3.31zM363.13 21.61h3.31v3.32h-3.31zM278.98 24.63h3.31v3.32h-3.31zM360.13 24.63h3.31v3.32h-3.31zM366.14 24.63h3.31v3.32h-3.31zM281.99 27.64h3.31v3.32h-3.31zM284.99 27.64h3.31v3.32h-3.31zM291 27.64h3.31v3.32h-3.31zM333.08 27.64h3.31v3.32h-3.31zM348.11 27.64h3.31v3.32h-3.31zM272.97 30.66h3.31v3.32h-3.31zM275.98 30.66h3.31v3.32h-3.31zM275.98 33.68h3.31v3.32h-3.31zM294.01 33.68h3.31v3.32h-3.31zM369.14 33.68h3.31v3.32h-3.31zM263.96 36.7h3.31v3.32h-3.31zM278.98 36.7h3.31v3.32h-3.31zM369.14 36.7h3.31v3.32h-3.31zM269.97 39.72h3.31v3.32h-3.31zM366.14 39.72h3.31v3.32h-3.31zM263.96 42.74h3.31v3.32h-3.31zM266.96 42.74h3.31v3.32h-3.31zM354.12 42.74h3.31v3.32h-3.31zM266.96 45.76h3.31v3.32h-3.31zM269.97 48.78h3.31v3.32h-3.31zM281.99 48.78h3.31v3.32h-3.31zM288 48.78h3.31v3.32h-3.31zM360.13 48.78h3.31v3.32h-3.31zM272.97 51.8h3.31v3.32h-3.31zM263.96 54.81h3.31v3.32h-3.31zM278.98 57.83h3.31v3.32h-3.31zM278.98 60.85h3.31v3.32h-3.31zM360.13 60.85h3.31v3.32h-3.31zM260.95 63.87h3.31v3.32h-3.31zM360.13 63.87h3.31v3.32h-3.31zM275.98 66.89h3.31v3.32h-3.31zM369.14 66.89h3.31v3.32h-3.31zM263.96 88.02h3.31v3.32h-3.31zM348.11 91.04h3.31v3.32h-3.31zM275.98 97.08h3.31v3.32h-3.31zM363.13 103.12h3.31v3.32h-3.31zM266.96 106.14h3.31v3.32h-3.31zM272.97 106.14h3.31v3.32h-3.31zM354.12 109.16h3.31v3.32h-3.31zM263.96 112.17h3.31v3.32h-3.31zM266.96 112.17h3.31v3.32h-3.31zM369.14 112.17h3.31v3.32h-3.31zM278.98 115.19h3.31v3.32h-3.31zM263.96 118.21h3.31v3.32h-3.31zM306.03 118.21h3.31v3.32h-3.31zM354.12 118.21h3.31v3.32h-3.31zM369.14 118.21h3.31v3.32h-3.31zM269.97 121.23h3.31v3.32h-3.31zM312.04 121.23h3.31v3.32h-3.31zM363.13 121.23h3.31v3.32h-3.31z"/>
<path fill="#3d0965" d="M281.99 12.55h3.31v3.32h-3.31zM288 12.55h3.31v3.32h-3.31zM291 12.55h3.31v3.32h-3.31zM315.05 12.55h3.31v3.32h-3.31zM354.12 12.55h3.31v3.32h-3.31zM300.02 15.57h3.31v3.32h-3.31zM309.04 15.57h3.31v3.32h-3.31zM309.04 18.59h3.31v3.32h-3.31zM318.05 18.59h3.31v3.32h-3.31zM291 21.61h3.31v3.32h-3.31zM336.09 21.61h3.31v3.32h-3.31zM357.12 21.61h3.31v3.32h-3.31zM284.99 24.63h3.31v3.32h-3.31zM288 24.63h3.31v3.32h-3.31zM294.01 24.63h3.31v3.32h-3.31zM297.01 24.63h3.31v3.32h-3.31zM272.97 27.64h3.31v3.32h-3.31zM315.05 27.64h3.31v3.32h-3.31zM330.07 27.64h3.31v3.32h-3.31zM260.95 30.66h3.31v3.32h-3.31zM278.98 30.66h3.31v3.32h-3.31zM281.99 30.66h3.31v3.32h-3.31zM312.04 30.66h3.31v3.32h-3.31zM366.14 30.66h3.31v3.32h-3.31zM269.97 33.68h3.31v3.32h-3.31zM348.11 33.68h3.31v3.32h-3.31zM351.11 33.68h3.31v3.32h-3.31zM354.12 36.7h3.31v3.32h-3.31zM272.97 39.72h3.31v3.32h-3.31zM281.99 39.72h3.31v3.32h-3.31zM354.12 39.72h3.31v3.32h-3.31zM363.13 39.72h3.31v3.32h-3.31zM263.96 45.76h3.31v3.32h-3.31zM348.11 45.76h3.31v3.32h-3.31zM281.99 54.81h3.31v3.32h-3.31zM342.1 54.81h3.31v3.32h-3.31zM366.14 54.81h3.31v3.32h-3.31zM260.95 57.83h3.31v3.32h-3.31zM263.96 57.83h3.31v3.32h-3.31zM291 57.83h3.31v3.32h-3.31zM269.97 60.85h3.31v3.32h-3.31zM272.97 63.87h3.31v3.32h-3.31zM275.98 63.87h3.31v3.32h-3.31zM291 66.89h3.31v3.32h-3.31zM281.99 72.93h3.31v3.32h-3.31zM288 75.95h3.31v3.32h-3.31zM278.98 78.97h3.31v3.32h-3.31zM357.12 78.97h3.31v3.32h-3.31zM269.97 81.99h3.31v3.32h-3.31zM275.98 81.99h3.31v3.32h-3.31zM369.14 81.99h3.31v3.32h-3.31zM275.98 85h3.31v3.32h-3.31zM294.01 97.08h3.31v3.32h-3.31zM354.12 97.08h3.31v3.32h-3.31zM366.14 100.1h3.31v3.32h-3.31zM369.14 100.1h3.31v3.32h-3.31zM366.14 103.12h3.31v3.32h-3.31zM284.99 106.14h3.31v3.32h-3.31zM291 106.14h3.31v3.32h-3.31zM284.99 109.16h3.31v3.32h-3.31zM300.02 109.16h3.31v3.32h-3.31zM303.03 109.16h3.31v3.32h-3.31zM306.03 109.16h3.31v3.32h-3.31zM324.06 109.16h3.31v3.32h-3.31zM363.13 109.16h3.31v3.32h-3.31zM321.06 115.19h3.31v3.32h-3.31zM363.13 115.19h3.31v3.32h-3.31zM266.96 118.21h3.31v3.32h-3.31zM278.98 118.21h3.31v3.32h-3.31zM291 118.21h3.31v3.32h-3.31zM345.1 118.21h3.31v3.32h-3.31zM294.01 121.23h3.31v3.32h-3.31zM297.01 121.23h3.31v3.32h-3.31zM333.08 121.23h3.31v3.32h-3.31zM336.09 121.23h3.31v3.32h-3.31zM354.12 121.23h3.31v3.32h-3.31zM357.12 121.23h3.31v3.32h-3.31z"/>
<path fill="#4a0c6b" d="M300.02 12.55h3.31v3.32h-3.31zM360.13 12.55h3.31v3.32h-3.31zM366.14 12.55h3.31v3.32h-3.31zM369.14 12.55h3.31v3.32h-3.31zM272.97 15.57h3.31v3.32h-3.31zM312.04 15.57h3.31v3.32h-3.31zM339.09 15.57h3.31v3.32h-3.31zM345.1 15.57h3.31v3.32h-3.31zM263.96 18.59h3.31v3.32h-3.31zM284.99 18.59h3.31v3.32h-3.31zM336.09 18.59h3.31v3.32h-3.31zM272.97 24.63h3.31v3.32h-3.31zM291 24.63h3.31v3.32h-3.31zM300.02 24.63h3.31v3.32h-3.31zM363.13 24.63h3.31v3.32h-3.31zM263.96 27.64h3.31v3.32h-3.31zM360.13 27.64h3.31v3.32h-3.31zM284.99 30.66h3.31v3.32h-3.31zM300.02 30.66h3.31v3.32h-3.31zM363.13 30.66h3.31v3.32h-3.31zM284.99 33.68h3.31v3.32h-3.31zM306.03 36.7h3.31v3.32h-3.31zM348.11 36.7h3.31v3.32h-3.31zM348.11 39.72h3.31v3.32h-3.31zM348.11 42.74h3.31v3.32h-3.31zM354.12 45.76h3.31v3.32h-3.31zM266.96 51.8h3.31v3.32h-3.31zM260.95 54.81h3.31v3.32h-3.31zM266.96 54.81h3.31v3.32h-3.31zM360.13 54.81h3.31v3.32h-3.31zM284.99 60.85h3.31v3.32h-3.31zM366.14 60.85h3.31v3.32h-3.31zM281.99 63.87h3.31v3.32h-3.31zM366.14 63.87h3.31v3.32h-3.31zM281.99 66.89h3.31v3.32h-3.31zM363.13 66.89h3.31v3.32h-3.31zM269.97 69.91h3.31v3.32h-3.31zM288 69.91h3.31v3.32h-3.31zM369.14 72.93h3.31v3.32h-3.31zM360.13 75.95h3.31v3.32h-3.31zM363.13 75.95h3.31v3.32h-3.31zM266.96 78.97h3.31v3.32h-3.31zM281.99 81.99h3.31v3.32h-3.31zM357.12 81.99h3.31v3.32h-3.31zM351.11 85h3.31v3.32h-3.31zM260.95 88.02h3.31v3.32h-3.31zM275.98 88.02h3.31v3.32h-3.31zM357.12 88.02h3.31v3.32h-3.31zM360.13 88.02h3.31v3.32h-3.31zM275.98 91.04h3.31v3.32h-3.31zM281.99 91.04h3.31v3.32h-3.31zM354.12 91.04h3.31v3.32h-3.31zM336.09 94.06h3.31v3.32h-3.31zM354.12 94.06h3.31v3.32h-3.31zM360.13 94.06h3.31v3.32h-3.31zM272.97 97.08h3.31v3.32h-3.31zM360.13 97.08h3.31v3.32h-3.31zM272.97 100.1h3.31v3.32h-3.31zM266.96 103.12h3.31v3.32h-3.31zM291 103.12h3.31v3.32h-3.31zM330.07 103.12h3.31v3.32h-3.31zM360.13 103.12h3.31v3.32h-3.31zM297.01 106.14h3.31v3.32h-3.31zM303.03 106.14h3.31v3.32h-3.31zM354.12 106.14h3.31v3.32h-3.31zM363.13 106.14h3.31v3.32h-3.31zM272.97 109.16h3.31v3.32h-3.31zM330.07 109.16h3.31v3.32h-3.31zM300.02 112.17h3.31v3.32h-3.31zM303.03 112.17h3.31v3.32h-3.31zM324.06 112.17h3.31v3.32h-3.31zM312.04 118.21h3.31v3.32h-3.31zM336.09 118.21h3.31v3.32h-3.31zM348.11 118.21h3.31v3.32h-3.31zM357.12 118.21h3.31v3.32h-3.31zM284.99 121.23h3.31v3.32h-3.31zM291 121.23h3.31v3.32h-3.31zM300.02 121.23h3.31v3.32h-3.31zM324.06 121.23h3.31v3.32h-3.31z"/>
<path fill="#510e6c" d="M327.07 12.55h3.31v3.32h-3.31zM345.1 12.55h3.31v3.32h-3.31zM303.03 15.57h3.31v3.32h-3.31zM327.07 15.57h3.31v3.32h-3.31zM315.05 18.59h3.31v3.32h-3.31zM324.06 18.59h3.31v3.32h-3.31zM327.07 18.59h3.31v3.32h-3.31zM348.11 18.59h3.31v3.32h-3.31zM354.12 18.59h3.31v3.32h-3.31zM272.97 21.61h3.31v3.32h-3.31zM303.03 21.61h3.31v3.32h-3.31zM315.05 21.61h3.31v3.32h-3.31zM306.03 24.63h3.31v3.32h-3.31zM318.05 24.63h3.31v3.32h-3.31zM327.07 24.63h3.31v3.32h-3.31zM354.12 24.63h3.31v3.32h-3.31zM306.03 30.66h3.31v3.32h-3.31zM306.03 33.68h3.31v3.32h-3.31zM312.04 36.7h3.31v3.32h-3.31zM288 39.72h3.31v3.32h-3.31zM333.08 39.72h3.31v3.32h-3.31zM369.14 39.72h3.31v3.32h-3.31zM291 42.74h3.31v3.32h-3.31zM318.05 42.74h3.31v3.32h-3.31zM360.13 42.74h3.31v3.32h-3.31zM278.98 45.76h3.31v3.32h-3.31zM357.12 45.76h3.31v3.32h-3.31zM294.01 48.78h3.31v3.32h-3.31zM288 51.8h3.31v3.32h-3.31zM357.12 51.8h3.31v3.32h-3.31zM363.13 51.8h3.31v3.32h-3.31zM288 54.81h3.31v3.32h-3.31zM363.13 54.81h3.31v3.32h-3.31zM342.1 57.83h3.31v3.32h-3.31zM363.13 60.85h3.31v3.32h-3.31zM284.99 63.87h3.31v3.32h-3.31zM288 63.87h3.31v3.32h-3.31zM288 66.89h3.31v3.32h-3.31zM281.99 69.91h3.31v3.32h-3.31zM366.14 69.91h3.31v3.32h-3.31zM288 72.93h3.31v3.32h-3.31zM366.14 72.93h3.31v3.32h-3.31zM284.99 75.95h3.31v3.32h-3.31zM369.14 75.95h3.31v3.32h-3.31zM342.1 78.97h3.31v3.32h-3.31zM363.13 78.97h3.31v3.32h-3.31zM263.96 81.99h3.31v3.32h-3.31zM288 81.99h3.31v3.32h-3.31zM351.11 81.99h3.31v3.32h-3.31zM291 85h3.31v3.32h-3.31zM354.12 85h3.31v3.32h-3.31zM363.13 88.02h3.31v3.32h-3.31zM342.1 91.04h3.31v3.32h-3.31zM369.14 91.04h3.31v3.32h-3.31zM342.1 97.08h3.31v3.32h-3.31zM351.11 97.08h3.31v3.32h-3.31zM366.14 97.08h3.31v3.32h-3.31zM327.07 100.1h3.31v3.32h-3.31zM272.97 103.12h3.31v3.32h-3.31zM297.01 103.12h3.31v3.32h-3.31zM281.99 106.14h3.31v3.32h-3.31zM348.11 106.14h3.31v3.32h-3.31zM360.13 109.16h3.31v3.32h-3.31zM366.14 109.16h3.31v3.32h-3.31zM272.97 112.17h3.31v3.32h-3.31zM288 112.17h3.31v3.32h-3.31zM291 112.17h3.31v3.32h-3.31zM297.01 112.17h3.31v3.32h-3.31zM333.08 112.17h3.31v3.32h-3.31zM336.09 112.17h3.31v3.32h-3.31zM342.1 112.17h3.31v3.32h-3.31zM294.01 115.19h3.31v3.32h-3.31zM306.03 115.19h3.31v3.32h-3.31zM288 118.21h3.31v3.32h-3.31zM324.06 118.21h3.31v3.32h-3.31zM339.09 118.21h3.31v3.32h-3.31zM351.11 118.21h3.31v3.32h-3.31zM309.04 121.23h3.31v3.32h-3.31zM315.05 121.23h3.31v3.32h-3.31zM321.06 121.23h3.31v3.32h-3.31z"/>
<path fill="#57106e" d="M266.96 12.55h3.31v3.32h-3.31zM333.08 15.57h3.31v3.32h-3.31zM351.11 15.57h3.31v3.32h-3.31zM294.01 18.59h3.31v3.32h-3.31zM333.08 18.59h3.31v3.32h-3.31zM366.14 18.59h3.31v3.32h-3.31zM318.05 21.61h3.31v3.32h-3.31zM354.12 21.61h3.31v3.32h-3.31zM342.1 24.63h3.31v3.32h-3.31zM348.11 24.63h3.31v3.32h-3.31zM260.95 27.64h3.31v3.32h-3.31zM303.03 27.64h3.31v3.32h-3.31zM339.09 30.66h3.31v3.32h-3.31zM342.1 30.66h3.31v3.32h-3.31zM297.01 33.68h3.31v3.32h-3.31zM300.02 33.68h3.31v3.32h-3.31zM345.1 33.68h3.31v3.32h-3.31zM354.12 33.68h3.31v3.32h-3.31zM357.12 33.68h3.31v3.32h-3.31zM366.14 33.68h3.31v3.32h-3.31zM281.99 36.7h3.31v3.32h-3.31zM294.01 36.7h3.31v3.32h-3.31zM330.07 36.7h3.31v3.32h-3.31zM339.09 36.7h3.31v3.32h-3.31zM351.11 36.7h3.31v3.32h-3.31zM357.12 36.7h3.31v3.32h-3.31zM275.98 39.72h3.31v3.32h-3.31zM281.99 42.74h3.31v3.32h-3.31zM297.01 42.74h3.31v3.32h-3.31zM306.03 42.74h3.31v3.32h-3.31zM315.05 42.74h3.31v3.32h-3.31zM291 45.76h3.31v3.32h-3.31zM300.02 48.78h3.31v3.32h-3.31zM269.97 51.8h3.31v3.32h-3.31zM278.98 51.8h3.31v3.32h-3.31zM297.01 51.8h3.31v3.32h-3.31zM291 54.81h3.31v3.32h-3.31zM348.11 54.81h3.31v3.32h-3.31zM294.01 60.85h3.31v3.32h-3.31zM339.09 60.85h3.31v3.32h-3.31zM291 63.87h3.31v3.32h-3.31zM354.12 63.87h3.31v3.32h-3.31zM363.13 63.87h3.31v3.32h-3.31zM348.11 69.91h3.31v3.32h-3.31zM360.13 69.91h3.31v3.32h-3.31zM263.96 72.93h3.31v3.32h-3.31zM272.97 72.93h3.31v3.32h-3.31zM266.96 75.95h3.31v3.32h-3.31zM269.97 75.95h3.31v3.32h-3.31zM291 75.95h3.31v3.32h-3.31zM354.12 75.95h3.31v3.32h-3.31zM366.14 78.97h3.31v3.32h-3.31zM272.97 81.99h3.31v3.32h-3.31zM278.98 81.99h3.31v3.32h-3.31zM354.12 81.99h3.31v3.32h-3.31zM366.14 81.99h3.31v3.32h-3.31zM281.99 85h3.31v3.32h-3.31zM357.12 85h3.31v3.32h-3.31zM363.13 85h3.31v3.32h-3.31zM278.98 88.02h3.31v3.32h-3.31zM272.97 91.04h3.31v3.32h-3.31zM351.11 91.04h3.31v3.32h-3.31zM357.12 91.04h3.31v3.32h-3.31zM363.13 91.04h3.31v3.32h-3.31zM288 94.06h3.31v3.32h-3.31zM281.99 97.08h3.31v3.32h-3.31zM288 97.08h3.31v3.32h-3.31zM369.14 97.08h3.31v3.32h-3.31zM291 100.1h3.31v3.32h-3.31zM300.02 100.1h3.31v3.32h-3.31zM309.04 100.1h3.31v3.32h-3.31zM363.13 100.1h3.31v3.32h-3.31zM260.95 103.12h3.31v3.32h-3.31zM284.99 103.12h3.31v3.32h-3.31zM303.03 103.12h3.31v3.32h-3.31zM336.09 103.12h3.31v3.32h-3.31zM336.09 106.14h3.31v3.32h-3.31zM366.14 106.14h3.31v3.32h-3.31zM275.98 109.16h3.31v3.32h-3.31zM294.01 112.17h3.31v3.32h-3.31zM351.11 112.17h3.31v3.32h-3.31zM297.01 115.19h3.31v3.32h-3.31zM336.09 115.19h3.31v3.32h-3.31zM354.12 115.19h3.31v3.32h-3.31zM357.12 115.19h3.31v3.32h-3.31zM303.03 118.21h3.31v3.32h-3.31zM318.05 118.21h3.31v3.32h-3.31zM333.08 118.21h3.31v3.32h-3.31zM342.1 118.21h3.31v3.32h-3.31zM327.07 121.23h3.31v3.32h-3.31zM339.09 121.23h3.31v3.32h-3.31zM348.11 121.23h3.31v3.32h-3.31z"/>
<path fill="#5d126e" d="M294.01 12.55h3.31v3.32h-3.31zM312.04 12.55h3.31v3.32h-3.31zM315.05 15.57h3.31v3.32h-3.31zM330.07 15.57h3.31v3.32h-3.31zM336.09 15.57h3.31v3.32h-3.31zM369.14 15.57h3.31v3.32h-3.31zM345.1 18.59h3.31v3.32h-3.31zM306.03 21.61h3.31v3.32h-3.31zM324.06 21.61h3.31v3.32h-3.31zM351.11 21.61h3.31v3.32h-3.31zM312.04 24.63h3.31v3.32h-3.31zM324.06 24.63h3.31v3.32h-3.31zM339.09 24.63h3.31v3.32h-3.31zM300.02 27.64h3.31v3.32h-3.31zM324.06 27.64h3.31v3.32h-3.31zM336.09 27.64h3.31v3.32h-3.31zM309.04 30.66h3.31v3.32h-3.31zM336.09 30.66h3.31v3.32h-3.31zM357.12 30.66h3.31v3.32h-3.31zM369.14 30.66h3.31v3.32h-3.31zM288 33.68h3.31v3.32h-3.31zM315.05 33.68h3.31v3.32h-3.31zM321.06 33.68h3.31v3.32h-3.31zM333.08 33.68h3.31v3.32h-3.31zM363.13 33.68h3.31v3.32h-3.31zM269.97 36.7h3.31v3.32h-3.31zM291 36.7h3.31v3.32h-3.31zM342.1 36.7h3.31v3.32h-3.31zM366.14 36.7h3.31v3.32h-3.31zM291 39.72h3.31v3.32h-3.31zM342.1 39.72h3.31v3.32h-3.31zM294.01 42.74h3.31v3.32h-3.31zM330.07 42.74h3.31v3.32h-3.31zM363.13 42.74h3.31v3.32h-3.31zM333.08 45.76h3.31v3.32h-3.31zM342.1 45.76h3.31v3.32h-3.31zM351.11 45.76h3.31v3.32h-3.31zM357.12 48.78h3.31v3.32h-3.31zM366.14 48.78h3.31v3.32h-3.31zM284.99 51.8h3.31v3.32h-3.31zM269.97 57.83h3.31v3.32h-3.31zM360.13 57.83h3.31v3.32h-3.31zM369.14 60.85h3.31v3.32h-3.31zM351.11 63.87h3.31v3.32h-3.31zM260.95 66.89h3.31v3.32h-3.31zM284.99 66.89h3.31v3.32h-3.31zM348.11 66.89h3.31v3.32h-3.31zM351.11 66.89h3.31v3.32h-3.31zM336.09 72.93h3.31v3.32h-3.31zM357.12 72.93h3.31v3.32h-3.31zM281.99 78.97h3.31v3.32h-3.31zM345.1 81.99h3.31v3.32h-3.31zM348.11 85h3.31v3.32h-3.31zM297.01 91.04h3.31v3.32h-3.31zM300.02 91.04h3.31v3.32h-3.31zM360.13 91.04h3.31v3.32h-3.31zM281.99 94.06h3.31v3.32h-3.31zM284.99 94.06h3.31v3.32h-3.31zM351.11 94.06h3.31v3.32h-3.31zM297.01 97.08h3.31v3.32h-3.31zM363.13 97.08h3.31v3.32h-3.31zM284.99 100.1h3.31v3.32h-3.31zM345.1 100.1h3.31v3.32h-3.31zM281.99 103.12h3.31v3.32h-3.31zM294.01 103.12h3.31v3.32h-3.31zM351.11 103.12h3.31v3.32h-3.31zM288 106.14h3.31v3.32h-3.31zM300.02 106.14h3.31v3.32h-3.31zM306.03 106.14h3.31v3.32h-3.31zM291 109.16h3.31v3.32h-3.31zM339.09 109.16h3.31v3.32h-3.31zM357.12 112.17h3.31v3.32h-3.31zM266.96 115.19h3.31v3.32h-3.31zM269.97 115.19h3.31v3.32h-3.31zM330.07 121.23h3.31v3.32h-3.31z"/>
<path fill="#64156e" d="M333.08 12.55h3.31v3.32h-3.31zM360.13 15.57h3.31v3.32h-3.31zM288 21.61h3.31v3.32h-3.31zM327.07 21.61h3.31v3.32h-3.31zM330.07 21.61h3.31v3.32h-3.31zM345.1 21.61h3.31v3.32h-3.31zM303.03 24.63h3.31v3.32h-3.31zM294.01 27.64h3.31v3.32h-3.31zM366.14 27.64h3.31v3.32h-3.31zM297.01 30.66h3.31v3.32h-3.31zM345.1 30.66h3.31v3.32h-3.31zM348.11 30.66h3.31v3.32h-3.31zM284.99 36.7h3.31v3.32h-3.31zM300.02 36.7h3.31v3.32h-3.31zM318.05 36.7h3.31v3.32h-3.31zM284.99 39.72h3.31v3.32h-3.31zM312.04 42.74h3.31v3.32h-3.31zM345.1 42.74h3.31v3.32h-3.31zM272.97 45.76h3.31v3.32h-3.31zM284.99 45.76h3.31v3.32h-3.31zM294.01 45.76h3.31v3.32h-3.31zM306.03 45.76h3.31v3.32h-3.31zM348.11 48.78h3.31v3.32h-3.31zM291 51.8h3.31v3.32h-3.31zM300.02 51.8h3.31v3.32h-3.31zM348.11 51.8h3.31v3.32h-3.31zM351.11 51.8h3.31v3.32h-3.31zM297.01 54.81h3.31v3.32h-3.31zM300.02 54.81h3.31v3.32h-3.31zM288 57.83h3.31v3.32h-3.31zM357.12 57.83h3.31v3.32h-3.31zM363.13 57.83h3.31v3.32h-3.31zM272.97 69.91h3.31v3.32h-3.31zM275.98 69.91h3.31v3.32h-3.31zM278.98 69.91h3.31v3.32h-3.31zM354.12 69.91h3.31v3.32h-3.31zM357.12 69.91h3.31v3.32h-3.31zM275.98 75.95h3.31v3.32h-3.31zM281.99 75.95h3.31v3.32h-3.31zM294.01 75.95h3.31v3.32h-3.31zM263.96 78.97h3.31v3.32h-3.31zM284.99 78.97h3.31v3.32h-3.31zM291 78.97h3.31v3.32h-3.31zM291 81.99h3.31v3.32h-3.31zM348.11 81.99h3.31v3.32h-3.31zM360.13 85h3.31v3.32h-3.31zM291 88.02h3.31v3.32h-3.31zM369.14 88.02h3.31v3.32h-3.31zM288 91.04h3.31v3.32h-3.31zM342.1 94.06h3.31v3.32h-3.31zM278.98 97.08h3.31v3.32h-3.31zM294.01 100.1h3.31v3.32h-3.31zM297.01 100.1h3.31v3.32h-3.31zM306.03 100.1h3.31v3.32h-3.31zM336.09 100.1h3.31v3.32h-3.31zM354.12 103.12h3.31v3.32h-3.31zM309.04 106.14h3.31v3.32h-3.31zM321.06 106.14h3.31v3.32h-3.31zM342.1 106.14h3.31v3.32h-3.31zM297.01 109.16h3.31v3.32h-3.31zM345.1 109.16h3.31v3.32h-3.31zM306.03 112.17h3.31v3.32h-3.31zM327.07 112.17h3.31v3.32h-3.31zM297.01 118.21h3.31v3.32h-3.31zM300.02 118.21h3.31v3.32h-3.31zM327.07 118.21h3.31v3.32h-3.31zM318.05 121.23h3.31v3.32h-3.31z"/>
<path fill="#6a176e" d="M294.01 15.57h3.31v3.32h-3.31zM321.06 15.57h3.31v3.32h-3.31zM321.06 18.59h3.31v3.32h-3.31zM330.07 18.59h3.31v3.32h-3.31zM309.04 21.61h3.31v3.32h-3.31zM336.09 24.63h3.31v3.32h-3.31zM345.1 24.63h3.31v3.32h-3.31zM297.01 27.64h3.31v3.32h-3.31zM309.04 27.64h3.31v3.32h-3.31zM327.07 27.64h3.31v3.32h-3.31zM339.09 27.64h3.31v3.32h-3.31zM345.1 27.64h3.31v3.32h-3.31zM351.11 27.64h3.31v3.32h-3.31zM369.14 27.64h3.31v3.32h-3.31zM294.01 30.66h3.31v3.32h-3.31zM318.05 30.66h3.31v3.32h-3.31zM327.07 30.66h3.31v3.32h-3.31zM330.07 30.66h3.31v3.32h-3.31zM336.09 33.68h3.31v3.32h-3.31zM303.03 36.7h3.31v3.32h-3.31zM321.06 36.7h3.31v3.32h-3.31zM324.06 36.7h3.31v3.32h-3.31zM333.08 36.7h3.31v3.32h-3.31zM345.1 36.7h3.31v3.32h-3.31zM297.01 39.72h3.31v3.32h-3.31zM303.03 39.72h3.31v3.32h-3.31zM312.04 39.72h3.31v3.32h-3.31zM318.05 39.72h3.31v3.32h-3.31zM339.09 39.72h3.31v3.32h-3.31zM339.09 42.74h3.31v3.32h-3.31zM357.12 42.74h3.31v3.32h-3.31zM303.03 45.76h3.31v3.32h-3.31zM354.12 48.78h3.31v3.32h-3.31zM294.01 51.8h3.31v3.32h-3.31zM366.14 51.8h3.31v3.32h-3.31zM351.11 54.81h3.31v3.32h-3.31zM354.12 54.81h3.31v3.32h-3.31zM294.01 57.83h3.31v3.32h-3.31zM345.1 57.83h3.31v3.32h-3.31zM354.12 57.83h3.31v3.32h-3.31zM294.01 63.87h3.31v3.32h-3.31zM300.02 63.87h3.31v3.32h-3.31zM291 69.91h3.31v3.32h-3.31zM300.02 69.91h3.31v3.32h-3.31zM275.98 72.93h3.31v3.32h-3.31zM284.99 72.93h3.31v3.32h-3.31zM345.1 72.93h3.31v3.32h-3.31zM363.13 72.93h3.31v3.32h-3.31zM294.01 81.99h3.31v3.32h-3.31zM300.02 88.02h3.31v3.32h-3.31zM351.11 88.02h3.31v3.32h-3.31zM291 91.04h3.31v3.32h-3.31zM294.01 91.04h3.31v3.32h-3.31zM303.03 91.04h3.31v3.32h-3.31zM339.09 94.06h3.31v3.32h-3.31zM303.03 97.08h3.31v3.32h-3.31zM357.12 97.08h3.31v3.32h-3.31zM278.98 100.1h3.31v3.32h-3.31zM288 100.1h3.31v3.32h-3.31zM342.1 103.12h3.31v3.32h-3.31zM333.08 106.14h3.31v3.32h-3.31zM342.1 109.16h3.31v3.32h-3.31zM339.09 112.17h3.31v3.32h-3.31zM345.1 112.17h3.31v3.32h-3.31zM284.99 115.19h3.31v3.32h-3.31zM312.04 115.19h3.31v3.32h-3.31zM309.04 118.21h3.31v3.32h-3.31zM342.1 121.23h3.31v3.32h-3.31z"/>
<path fill="#71196e" d="M288 18.59h3.31v3.32h-3.31zM321.06 21.61h3.31v3.32h-3.31zM300.02 39.72h3.31v3.32h-3.31zM330.07 39.72h3.31v3.32h-3.31zM345.1 39.72h3.31v3.32h-3.31zM300.02 42.74h3.31v3.32h-3.31zM333.08 42.74h3.31v3.32h-3.31zM342.1 42.74h3.31v3.32h-3.31zM300.02 45.76h3.31v3.32h-3.31zM345.1 45.76h3.31v3.32h-3.31zM297.01 48.78h3.31v3.32h-3.31zM306.03 48.78h3.31v3.32h-3.31zM339.09 48.78h3.31v3.32h-3.31zM363.13 48.78h3.31v3.32h-3.31zM369.14 51.8h3.31v3.32h-3.31zM284.99 54.81h3.31v3.32h-3.31zM348.11 57.83h3.31v3.32h-3.31zM303.03 60.85h3.31v3.32h-3.31zM278.98 63.87h3.31v3.32h-3.31zM300.02 66.89h3.31v3.32h-3.31zM342.1 66.89h3.31v3.32h-3.31zM284.99 69.91h3.31v3.32h-3.31zM278.98 75.95h3.31v3.32h-3.31zM297.01 78.97h3.31v3.32h-3.31zM336.09 88.02h3.31v3.32h-3.31zM345.1 88.02h3.31v3.32h-3.31zM366.14 88.02h3.31v3.32h-3.31zM294.01 94.06h3.31v3.32h-3.31zM303.03 94.06h3.31v3.32h-3.31zM284.99 97.08h3.31v3.32h-3.31zM318.05 97.08h3.31v3.32h-3.31zM330.07 97.08h3.31v3.32h-3.31zM360.13 100.1h3.31v3.32h-3.31zM306.03 103.12h3.31v3.32h-3.31zM348.11 103.12h3.31v3.32h-3.31zM345.1 106.14h3.31v3.32h-3.31zM318.05 109.16h3.31v3.32h-3.31zM321.06 109.16h3.31v3.32h-3.31zM315.05 112.17h3.31v3.32h-3.31zM315.05 115.19h3.31v3.32h-3.31zM339.09 115.19h3.31v3.32h-3.31z"/>
<path fill="#771c6d" d="M306.03 12.55h3.31v3.32h-3.31zM297.01 21.61h3.31v3.32h-3.31zM300.02 21.61h3.31v3.32h-3.31zM312.04 21.61h3.31v3.32h-3.31zM333.08 24.63h3.31v3.32h-3.31zM303.03 30.66h3.31v3.32h-3.31zM324.06 30.66h3.31v3.32h-3.31zM351.11 30.66h3.31v3.32h-3.31zM303.03 33.68h3.31v3.32h-3.31zM309.04 33.68h3.31v3.32h-3.31zM324.06 33.68h3.31v3.32h-3.31zM327.07 33.68h3.31v3.32h-3.31zM339.09 33.68h3.31v3.32h-3.31zM360.13 39.72h3.31v3.32h-3.31zM303.03 42.74h3.31v3.32h-3.31zM309.04 42.74h3.31v3.32h-3.31zM312.04 45.76h3.31v3.32h-3.31zM315.05 48.78h3.31v3.32h-3.31zM342.1 51.8h3.31v3.32h-3.31zM303.03 54.81h3.31v3.32h-3.31zM281.99 57.83h3.31v3.32h-3.31zM284.99 57.83h3.31v3.32h-3.31zM351.11 60.85h3.31v3.32h-3.31zM336.09 63.87h3.31v3.32h-3.31zM357.12 63.87h3.31v3.32h-3.31zM294.01 66.89h3.31v3.32h-3.31zM354.12 66.89h3.31v3.32h-3.31zM294.01 72.93h3.31v3.32h-3.31zM306.03 75.95h3.31v3.32h-3.31zM351.11 75.95h3.31v3.32h-3.31zM297.01 81.99h3.31v3.32h-3.31zM294.01 85h3.31v3.32h-3.31zM348.11 88.02h3.31v3.32h-3.31zM339.09 91.04h3.31v3.32h-3.31zM291 94.06h3.31v3.32h-3.31zM309.04 94.06h3.31v3.32h-3.31zM300.02 97.08h3.31v3.32h-3.31zM345.1 97.08h3.31v3.32h-3.31zM312.04 100.1h3.31v3.32h-3.31zM342.1 100.1h3.31v3.32h-3.31zM288 103.12h3.31v3.32h-3.31zM327.07 103.12h3.31v3.32h-3.31zM330.07 106.14h3.31v3.32h-3.31zM339.09 106.14h3.31v3.32h-3.31zM312.04 109.16h3.31v3.32h-3.31zM312.04 112.17h3.31v3.32h-3.31zM300.02 115.19h3.31v3.32h-3.31zM303.03 115.19h3.31v3.32h-3.31zM333.08 115.19h3.31v3.32h-3.31zM330.07 118.21h3.31v3.32h-3.31z"/>
<path fill="#7d1e6d" d="M318.05 27.64h3.31v3.32h-3.31zM315.05 30.66h3.31v3.32h-3.31zM333.08 30.66h3.31v3.32h-3.31zM281.99 33.68h3.31v3.32h-3.31zM360.13 33.68h3.31v3.32h-3.31zM315.05 36.7h3.31v3.32h-3.31zM294.01 39.72h3.31v3.32h-3.31zM327.07 39.72h3.31v3.32h-3.31zM336.09 42.74h3.31v3.32h-3.31zM324.06 45.76h3.31v3.32h-3.31zM336.09 48.78h3.31v3.32h-3.31zM345.1 48.78h3.31v3.32h-3.31zM351.11 48.78h3.31v3.32h-3.31zM294.01 54.81h3.31v3.32h-3.31zM330.07 57.83h3.31v3.32h-3.31zM281.99 60.85h3.31v3.32h-3.31zM345.1 60.85h3.31v3.32h-3.31zM348.11 60.85h3.31v3.32h-3.31zM306.03 63.87h3.31v3.32h-3.31zM348.11 72.93h3.31v3.32h-3.31zM354.12 72.93h3.31v3.32h-3.31zM339.09 75.95h3.31v3.32h-3.31zM300.02 78.97h3.31v3.32h-3.31zM330.07 81.99h3.31v3.32h-3.31zM297.01 85h3.31v3.32h-3.31zM309.04 85h3.31v3.32h-3.31zM345.1 85h3.31v3.32h-3.31zM284.99 88.02h3.31v3.32h-3.31zM327.07 91.04h3.31v3.32h-3.31zM300.02 94.06h3.31v3.32h-3.31zM306.03 94.06h3.31v3.32h-3.31zM330.07 94.06h3.31v3.32h-3.31zM333.08 94.06h3.31v3.32h-3.31zM336.09 97.08h3.31v3.32h-3.31zM348.11 97.08h3.31v3.32h-3.31zM321.06 100.1h3.31v3.32h-3.31zM324.06 100.1h3.31v3.32h-3.31zM324.06 106.14h3.31v3.32h-3.31zM351.11 106.14h3.31v3.32h-3.31zM315.05 109.16h3.31v3.32h-3.31zM309.04 112.17h3.31v3.32h-3.31zM318.05 112.17h3.31v3.32h-3.31zM330.07 112.17h3.31v3.32h-3.31zM354.12 112.17h3.31v3.32h-3.31z"/>
<path fill="#84206b" d="M309.04 24.63h3.31v3.32h-3.31zM321.06 24.63h3.31v3.32h-3.31zM312.04 27.64h3.31v3.32h-3.31zM321.06 30.66h3.31v3.32h-3.31zM318.05 33.68h3.31v3.32h-3.31zM336.09 39.72h3.31v3.32h-3.31zM324.06 42.74h3.31v3.32h-3.31zM315.05 45.76h3.31v3.32h-3.31zM342.1 48.78h3.31v3.32h-3.31zM303.03 51.8h3.31v3.32h-3.31zM330.07 54.81h3.31v3.32h-3.31zM303.03 57.83h3.31v3.32h-3.31zM306.03 57.83h3.31v3.32h-3.31zM345.1 63.87h3.31v3.32h-3.31zM303.03 66.89h3.31v3.32h-3.31zM345.1 69.91h3.31v3.32h-3.31zM351.11 69.91h3.31v3.32h-3.31zM297.01 72.93h3.31v3.32h-3.31zM342.1 72.93h3.31v3.32h-3.31zM297.01 75.95h3.31v3.32h-3.31zM303.03 75.95h3.31v3.32h-3.31zM294.01 78.97h3.31v3.32h-3.31zM348.11 78.97h3.31v3.32h-3.31zM339.09 81.99h3.31v3.32h-3.31zM300.02 85h3.31v3.32h-3.31zM339.09 85h3.31v3.32h-3.31zM312.04 88.02h3.31v3.32h-3.31zM284.99 91.04h3.31v3.32h-3.31zM309.04 97.08h3.31v3.32h-3.31zM333.08 97.08h3.31v3.32h-3.31zM300.02 103.12h3.31v3.32h-3.31zM312.04 103.12h3.31v3.32h-3.31zM315.05 103.12h3.31v3.32h-3.31zM318.05 103.12h3.31v3.32h-3.31zM312.04 106.14h3.31v3.32h-3.31zM327.07 109.16h3.31v3.32h-3.31zM333.08 109.16h3.31v3.32h-3.31zM321.06 112.17h3.31v3.32h-3.31zM327.07 115.19h3.31v3.32h-3.31zM330.07 115.19h3.31v3.32h-3.31zM321.06 118.21h3.31v3.32h-3.31z"/>
<path fill="#8a226a" d="M309.04 36.7h3.31v3.32h-3.31zM327.07 36.7h3.31v3.32h-3.31zM315.05 39.72h3.31v3.32h-3.31zM297.01 45.76h3.31v3.32h-3.31zM309.04 45.76h3.31v3.32h-3.31zM330.07 48.78h3.31v3.32h-3.31zM333.08 48.78h3.31v3.32h-3.31zM309.04 51.8h3.31v3.32h-3.31zM345.1 51.8h3.31v3.32h-3.31zM336.09 54.81h3.31v3.32h-3.31zM300.02 57.83h3.31v3.32h-3.31zM339.09 57.83h3.31v3.32h-3.31zM291 60.85h3.31v3.32h-3.31zM333.08 60.85h3.31v3.32h-3.31zM357.12 60.85h3.31v3.32h-3.31zM297.01 63.87h3.31v3.32h-3.31zM333.08 63.87h3.31v3.32h-3.31zM297.01 66.89h3.31v3.32h-3.31zM303.03 69.91h3.31v3.32h-3.31zM336.09 75.95h3.31v3.32h-3.31zM342.1 75.95h3.31v3.32h-3.31zM288 78.97h3.31v3.32h-3.31zM300.02 81.99h3.31v3.32h-3.31zM294.01 88.02h3.31v3.32h-3.31zM297.01 88.02h3.31v3.32h-3.31zM339.09 88.02h3.31v3.32h-3.31zM306.03 91.04h3.31v3.32h-3.31zM309.04 91.04h3.31v3.32h-3.31zM345.1 91.04h3.31v3.32h-3.31zM312.04 94.06h3.31v3.32h-3.31zM315.05 100.1h3.31v3.32h-3.31zM318.05 100.1h3.31v3.32h-3.31zM321.06 103.12h3.31v3.32h-3.31zM315.05 106.14h3.31v3.32h-3.31zM318.05 115.19h3.31v3.32h-3.31z"/>
<path fill="#902568" d="M312.04 33.68h3.31v3.32h-3.31zM336.09 36.7h3.31v3.32h-3.31zM309.04 39.72h3.31v3.32h-3.31zM324.06 39.72h3.31v3.32h-3.31zM318.05 45.76h3.31v3.32h-3.31zM303.03 48.78h3.31v3.32h-3.31zM324.06 48.78h3.31v3.32h-3.31zM306.03 51.8h3.31v3.32h-3.31zM339.09 51.8h3.31v3.32h-3.31zM333.08 54.81h3.31v3.32h-3.31zM345.1 54.81h3.31v3.32h-3.31zM297.01 57.83h3.31v3.32h-3.31zM297.01 60.85h3.31v3.32h-3.31zM303.03 63.87h3.31v3.32h-3.31zM297.01 69.91h3.31v3.32h-3.31zM351.11 78.97h3.31v3.32h-3.31zM333.08 81.99h3.31v3.32h-3.31zM303.03 88.02h3.31v3.32h-3.31zM330.07 88.02h3.31v3.32h-3.31zM315.05 94.06h3.31v3.32h-3.31zM312.04 97.08h3.31v3.32h-3.31zM315.05 97.08h3.31v3.32h-3.31zM339.09 97.08h3.31v3.32h-3.31zM303.03 100.1h3.31v3.32h-3.31zM330.07 100.1h3.31v3.32h-3.31zM324.06 103.12h3.31v3.32h-3.31zM318.05 106.14h3.31v3.32h-3.31zM327.07 106.14h3.31v3.32h-3.31z"/>
<path fill="#972766" d="M330.07 33.68h3.31v3.32h-3.31zM336.09 45.76h3.31v3.32h-3.31zM309.04 48.78h3.31v3.32h-3.31zM315.05 51.8h3.31v3.32h-3.31zM351.11 57.83h3.31v3.32h-3.31zM288 60.85h3.31v3.32h-3.31zM300.02 60.85h3.31v3.32h-3.31zM348.11 63.87h3.31v3.32h-3.31zM294.01 69.91h3.31v3.32h-3.31zM306.03 72.93h3.31v3.32h-3.31zM339.09 72.93h3.31v3.32h-3.31zM300.02 75.95h3.31v3.32h-3.31zM312.04 75.95h3.31v3.32h-3.31zM345.1 75.95h3.31v3.32h-3.31zM306.03 78.97h3.31v3.32h-3.31zM330.07 78.97h3.31v3.32h-3.31zM339.09 78.97h3.31v3.32h-3.31zM354.12 78.97h3.31v3.32h-3.31zM303.03 81.99h3.31v3.32h-3.31zM309.04 81.99h3.31v3.32h-3.31zM330.07 85h3.31v3.32h-3.31zM327.07 88.02h3.31v3.32h-3.31zM342.1 88.02h3.31v3.32h-3.31zM324.06 94.06h3.31v3.32h-3.31zM309.04 103.12h3.31v3.32h-3.31zM333.08 103.12h3.31v3.32h-3.31zM339.09 103.12h3.31v3.32h-3.31z"/>
<path fill="#9d2964" d="M306.03 39.72h3.31v3.32h-3.31zM321.06 39.72h3.31v3.32h-3.31zM321.06 42.74h3.31v3.32h-3.31zM321.06 45.76h3.31v3.32h-3.31zM327.07 45.76h3.31v3.32h-3.31zM327.07 51.8h3.31v3.32h-3.31zM333.08 51.8h3.31v3.32h-3.31zM306.03 54.81h3.31v3.32h-3.31zM336.09 60.85h3.31v3.32h-3.31zM336.09 66.89h3.31v3.32h-3.31zM336.09 69.91h3.31v3.32h-3.31zM339.09 69.91h3.31v3.32h-3.31zM342.1 69.91h3.31v3.32h-3.31zM300.02 72.93h3.31v3.32h-3.31zM303.03 72.93h3.31v3.32h-3.31zM309.04 75.95h3.31v3.32h-3.31zM333.08 78.97h3.31v3.32h-3.31zM336.09 78.97h3.31v3.32h-3.31zM306.03 81.99h3.31v3.32h-3.31zM342.1 81.99h3.31v3.32h-3.31zM336.09 85h3.31v3.32h-3.31zM333.08 88.02h3.31v3.32h-3.31zM333.08 91.04h3.31v3.32h-3.31zM297.01 94.06h3.31v3.32h-3.31zM327.07 94.06h3.31v3.32h-3.31zM324.06 97.08h3.31v3.32h-3.31zM327.07 97.08h3.31v3.32h-3.31zM336.09 109.16h3.31v3.32h-3.31z"/>
<path fill="#a32c61" d="M339.09 45.76h3.31v3.32h-3.31zM327.07 48.78h3.31v3.32h-3.31zM336.09 51.8h3.31v3.32h-3.31zM309.04 54.81h3.31v3.32h-3.31zM312.04 54.81h3.31v3.32h-3.31zM339.09 54.81h3.31v3.32h-3.31zM312.04 57.83h3.31v3.32h-3.31zM309.04 60.85h3.31v3.32h-3.31zM330.07 60.85h3.31v3.32h-3.31zM342.1 60.85h3.31v3.32h-3.31zM309.04 63.87h3.31v3.32h-3.31zM339.09 63.87h3.31v3.32h-3.31zM342.1 63.87h3.31v3.32h-3.31zM330.07 66.89h3.31v3.32h-3.31zM333.08 66.89h3.31v3.32h-3.31zM339.09 66.89h3.31v3.32h-3.31zM333.08 75.95h3.31v3.32h-3.31zM309.04 78.97h3.31v3.32h-3.31zM312.04 78.97h3.31v3.32h-3.31zM345.1 78.97h3.31v3.32h-3.31zM312.04 81.99h3.31v3.32h-3.31zM336.09 81.99h3.31v3.32h-3.31zM309.04 88.02h3.31v3.32h-3.31zM312.04 91.04h3.31v3.32h-3.31zM336.09 91.04h3.31v3.32h-3.31zM318.05 94.06h3.31v3.32h-3.31zM345.1 94.06h3.31v3.32h-3.31zM333.08 100.1h3.31v3.32h-3.31z"/>
<path fill="#a92e5e" d="M312.04 48.78h3.31v3.32h-3.31zM327.07 54.81h3.31v3.32h-3.31zM336.09 57.83h3.31v3.32h-3.31zM306.03 60.85h3.31v3.32h-3.31zM330.07 63.87h3.31v3.32h-3.31zM309.04 72.93h3.31v3.32h-3.31zM342.1 85h3.31v3.32h-3.31zM306.03 88.02h3.31v3.32h-3.31zM321.06 97.08h3.31v3.32h-3.31zM345.1 103.12h3.31v3.32h-3.31z"/>
<path fill="#b0315b" d="M327.07 42.74h3.31v3.32h-3.31zM330.07 45.76h3.31v3.32h-3.31zM312.04 51.8h3.31v3.32h-3.31zM330.07 51.8h3.31v3.32h-3.31zM309.04 57.83h3.31v3.32h-3.31zM312.04 60.85h3.31v3.32h-3.31zM312.04 63.87h3.31v3.32h-3.31zM330.07 69.91h3.31v3.32h-3.31zM333.08 69.91h3.31v3.32h-3.31zM303.03 85h3.31v3.32h-3.31zM312.04 85h3.31v3.32h-3.31zM324.06 91.04h3.31v3.32h-3.31z"/>
<path fill="#b63458" d="M318.05 51.8h3.31v3.32h-3.31zM315.05 54.81h3.31v3.32h-3.31zM333.08 57.83h3.31v3.32h-3.31zM345.1 66.89h3.31v3.32h-3.31zM306.03 69.91h3.31v3.32h-3.31zM309.04 69.91h3.31v3.32h-3.31zM333.08 72.93h3.31v3.32h-3.31zM303.03 78.97h3.31v3.32h-3.31zM333.08 85h3.31v3.32h-3.31zM321.06 94.06h3.31v3.32h-3.31zM306.03 97.08h3.31v3.32h-3.31z"/>
<path fill="#bc3754" d="M318.05 48.78h3.31v3.32h-3.31zM309.04 66.89h3.31v3.32h-3.31zM312.04 72.93h3.31v3.32h-3.31zM315.05 85h3.31v3.32h-3.31zM327.07 85h3.31v3.32h-3.31z"/>
<path fill="#c13a50" d="M306.03 66.89h3.31v3.32h-3.31zM330.07 72.93h3.31v3.32h-3.31zM330.07 75.95h3.31v3.32h-3.31zM306.03 85h3.31v3.32h-3.31zM318.05 88.02h3.31v3.32h-3.31zM315.05 91.04h3.31v3.32h-3.31zM330.07 91.04h3.31v3.32h-3.31z"/>
<path fill="#c73e4c" d="M324.06 51.8h3.31v3.32h-3.31zM324.06 88.02h3.31v3.32h-3.31z"/>
<path fill="#cc4248" d="M324.06 54.81h3.31v3.32h-3.31zM312.04 66.89h3.31v3.32h-3.31zM318.05 91.04h3.31v3.32h-3.31z"/>
<path fill="#d24644" d="M327.07 57.83h3.31v3.32h-3.31zM312.04 69.91h3.31v3.32h-3.31zM315.05 88.02h3.31v3.32h-3.31z"/>
<path fill="#d74b3f" d="M321.06 51.8h3.31v3.32h-3.31zM327.07 60.85h3.31v3.32h-3.31z"/>
<path fill="#db503b" d="M321.06 48.78h3.31v3.32h-3.31zM327.07 81.99h3.31v3.32h-3.31zM321.06 91.04h3.31v3.32h-3.31z"/>
<path fill="#e05536" d="M318.05 54.81h3.31v3.32h-3.31zM315.05 57.83h3.31v3.32h-3.31zM315.05 60.85h3.31v3.32h-3.31zM315.05 81.99h3.31v3.32h-3.31z"/>
<path fill="#e45a31" d="M315.05 63.87h3.31v3.32h-3.31zM327.07 75.95h3.31v3.32h-3.31zM318.05 85h3.31v3.32h-3.31z"/>
<path fill="#eb6628" d="M315.05 69.91h3.31v3.32h-3.31zM327.07 78.97h3.31v3.32h-3.31zM324.06 81.99h3.31v3.32h-3.31zM321.06 88.02h3.31v3.32h-3.31z"/>
<path fill="#ef6c23" d="M327.07 66.89h3.31v3.32h-3.31z"/>
<path fill="#f47918" d="M327.07 63.87h3.31v3.32h-3.31zM327.07 69.91h3.31v3.32h-3.31zM315.05 78.97h3.31v3.32h-3.31z"/>
<path fill="#f68013" d="M315.05 72.93h3.31v3.32h-3.31zM321.06 85h3.31v3.32h-3.31z"/>
<path fill="#f8870e" d="M324.06 57.83h3.31v3.32h-3.31zM324.06 85h3.31v3.32h-3.31z"/>
<path fill="#f98e09" d="M321.06 54.81h3.31v3.32h-3.31zM327.07 72.93h3.31v3.32h-3.31zM324.06 78.97h3.31v3.32h-3.31zM318.05 81.99h3.31v3.32h-3.31z"/>
<path fill="#fb9606" d="M318.05 57.83h3.31v3.32h-3.31zM315.05 66.89h3.31v3.32h-3.31z"/>
<path fill="#fb9d07" d="M324.06 60.85h3.31v3.32h-3.31z"/>
<path fill="#fca50a" d="M315.05 75.95h3.31v3.32h-3.31z"/>
<path fill="#fcac11" d="M318.05 60.85h3.31v3.32h-3.31z"/>
<path fill="#fcb418" d="M318.05 75.95h3.31v3.32h-3.31z"/>
<path fill="#fbbc21" d="M318.05 63.87h3.31v3.32h-3.31zM324.06 69.91h3.31v3.32h-3.31zM324.06 72.93h3.31v3.32h-3.31z"/>
<path fill="#fac42a" d="M318.05 69.91h3.31v3.32h-3.31z"/>
<path fill="#f9cb35" d="M321.06 57.83h3.31v3.32h-3.31zM318.05 78.97h3.31v3.32h-3.31z"/>
<path fill="#f7d340" d="M321.06 60.85h3.31v3.32h-3.31zM324.06 63.87h3.31v3.32h-3.31zM321.06 78.97h3.31v3.32h-3.31z"/>
<path fill="#f5db4c" d="M324.06 66.89h3.31v3.32h-3.31zM324.06 75.95h3.31v3.32h-3.31zM321.06 81.99h3.31v3.32h-3.31z"/>
<path fill="#f3e35a" d="M318.05 66.89h3.31v3.32h-3.31z"/>
<path fill="#f2ea69" d="M321.06 63.87h3.31v3.32h-3.31zM321.06 66.89h3.31v3.32h-3.31zM318.05 72.93h3.31v3.32h-3.31z"/>
<path fill="#f3f68a" d="M321.06 69.91h3.31v3.32h-3.31z"/>
<path fill="#f8fb9a" d="M321.06 75.95h3.31v3.32h-3.31z"/>
<path fill="#fcffa4" d="M321.06 72.93h3.31v3.32h-3.31z"/>
</g></g>
<line x1="259.1" y1="17.4" x2="261.1" y2="17.4" stroke="#222" stroke-width="0.5"/>
<text x="258.4" y="19.87" font-size="5.2" text-anchor="end" fill="#1a1a1a" stroke="#1a1a1a" stroke-width="0.12">−200</text>
<line x1="259.1" y1="33.6" x2="261.1" y2="33.6" stroke="#222" stroke-width="0.5"/>
<text x="258.4" y="36.07" font-size="5.2" text-anchor="end" fill="#1a1a1a" stroke="#1a1a1a" stroke-width="0.12">−300</text>
<line x1="259.1" y1="49.9" x2="261.1" y2="49.9" stroke="#222" stroke-width="0.5"/>
<text x="258.4" y="52.37" font-size="5.2" text-anchor="end" fill="#1a1a1a" stroke="#1a1a1a" stroke-width="0.12">−400</text>
<line x1="259.1" y1="66.1" x2="261.1" y2="66.1" stroke="#222" stroke-width="0.5"/>
<text x="258.4" y="68.57" font-size="5.2" text-anchor="end" fill="#1a1a1a" stroke="#1a1a1a" stroke-width="0.12">−500</text>
<line x1="259.1" y1="82.3" x2="261.1" y2="82.3" stroke="#222" stroke-width="0.5"/>
<text x="258.4" y="84.77" font-size="5.2" text-anchor="end" fill="#1a1a1a" stroke="#1a1a1a" stroke-width="0.12">−600</text>
<line x1="259.1" y1="98.5" x2="261.1" y2="98.5" stroke="#222" stroke-width="0.5"/>
<text x="258.4" y="100.97" font-size="5.2" text-anchor="end" fill="#1a1a1a" stroke="#1a1a1a" stroke-width="0.12">−700</text>
<line x1="259.1" y1="114.7" x2="261.1" y2="114.7" stroke="#222" stroke-width="0.5"/>
<text x="258.4" y="117.17" font-size="5.2" text-anchor="end" fill="#1a1a1a" stroke="#1a1a1a" stroke-width="0.12">−800</text>
<line x1="288.2" y1="124.4" x2="288.2" y2="126.4" stroke="#222" stroke-width="0.5"/>
<text x="288.2" y="131.85" font-size="5.2" text-anchor="middle" fill="#1a1a1a" stroke="#1a1a1a" stroke-width="0.12">−200</text>
<line x1="320.2" y1="124.4" x2="320.2" y2="126.4" stroke="#222" stroke-width="0.5"/>
<text x="320.2" y="131.85" font-size="5.2" text-anchor="middle" fill="#1a1a1a" stroke="#1a1a1a" stroke-width="0.12">0</text>
<line x1="352.2" y1="124.4" x2="352.2" y2="126.4" stroke="#222" stroke-width="0.5"/>
<text x="352.2" y="131.85" font-size="5.2" text-anchor="middle" fill="#1a1a1a" stroke="#1a1a1a" stroke-width="0.12">200</text>
<text x="317" y="141" font-size="8.8" text-anchor="middle" fill="#1a1a1a">X [µm]</text>
<text transform="translate(239 68.55) rotate(-90)" font-size="8.8" text-anchor="middle" fill="#1a1a1a">Y [µm]</text>
<text x="369.3" y="24.02" font-size="11.6" text-anchor="end" fill="#fff">10.1 ms</text>
<clipPath id="h2"><rect x="38.1" y="2.6" width="110.9" height="110.2"/></clipPath>
<g clip-path="url(#h2)"><g filter="url(#bl)">
<rect x="35.1" y="-0.4" width="116.9" height="116.2" fill="#07051b"/>
<path fill="#040312" d="M107.99 2.45h3.22v3.2h-3.22zM46.71 16.95h3.22v3.2h-3.22zM52.54 54.65h3.22v3.2h-3.22zM49.62 63.35h3.22v3.2h-3.22zM87.56 80.75h3.22v3.2h-3.22zM52.54 92.35h3.22v3.2h-3.22zM128.42 101.05h3.22v3.2h-3.22zM46.71 106.85h3.22v3.2h-3.22z"/>
<path fill="#0b0724" d="M125.5 2.45h3.22v3.2h-3.22zM134.26 2.45h3.22v3.2h-3.22zM67.13 11.15h3.22v3.2h-3.22zM78.81 14.05h3.22v3.2h-3.22zM128.42 14.05h3.22v3.2h-3.22zM70.05 16.95h3.22v3.2h-3.22zM58.38 22.75h3.22v3.2h-3.22zM119.67 28.55h3.22v3.2h-3.22zM105.07 31.45h3.22v3.2h-3.22zM128.42 34.35h3.22v3.2h-3.22zM119.67 37.25h3.22v3.2h-3.22zM58.38 40.15h3.22v3.2h-3.22zM125.5 40.15h3.22v3.2h-3.22zM43.79 48.85h3.22v3.2h-3.22zM87.56 48.85h3.22v3.2h-3.22zM90.48 48.85h3.22v3.2h-3.22zM93.4 48.85h3.22v3.2h-3.22zM96.32 48.85h3.22v3.2h-3.22zM99.24 48.85h3.22v3.2h-3.22zM105.07 48.85h3.22v3.2h-3.22zM78.81 51.75h3.22v3.2h-3.22zM81.73 51.75h3.22v3.2h-3.22zM105.07 51.75h3.22v3.2h-3.22zM78.81 54.65h3.22v3.2h-3.22zM107.99 54.65h3.22v3.2h-3.22zM110.91 54.65h3.22v3.2h-3.22zM116.75 54.65h3.22v3.2h-3.22zM75.89 57.55h3.22v3.2h-3.22zM110.91 57.55h3.22v3.2h-3.22zM70.05 60.45h3.22v3.2h-3.22zM72.97 60.45h3.22v3.2h-3.22zM75.89 60.45h3.22v3.2h-3.22zM110.91 60.45h3.22v3.2h-3.22zM116.75 60.45h3.22v3.2h-3.22zM70.05 63.35h3.22v3.2h-3.22zM110.91 63.35h3.22v3.2h-3.22zM113.83 63.35h3.22v3.2h-3.22zM75.89 66.25h3.22v3.2h-3.22zM110.91 66.25h3.22v3.2h-3.22zM70.05 69.15h3.22v3.2h-3.22zM72.97 69.15h3.22v3.2h-3.22zM75.89 69.15h3.22v3.2h-3.22zM78.81 69.15h3.22v3.2h-3.22zM105.07 69.15h3.22v3.2h-3.22zM107.99 69.15h3.22v3.2h-3.22zM75.89 72.05h3.22v3.2h-3.22zM81.73 72.05h3.22v3.2h-3.22zM84.64 72.05h3.22v3.2h-3.22zM87.56 72.05h3.22v3.2h-3.22zM99.24 72.05h3.22v3.2h-3.22zM102.16 72.05h3.22v3.2h-3.22zM99.24 74.95h3.22v3.2h-3.22zM119.67 74.95h3.22v3.2h-3.22zM40.87 77.85h3.22v3.2h-3.22zM90.48 77.85h3.22v3.2h-3.22zM131.34 77.85h3.22v3.2h-3.22zM55.46 80.75h3.22v3.2h-3.22zM61.3 86.55h3.22v3.2h-3.22zM78.81 89.45h3.22v3.2h-3.22zM110.91 89.45h3.22v3.2h-3.22zM43.79 92.35h3.22v3.2h-3.22zM61.3 92.35h3.22v3.2h-3.22zM75.89 95.25h3.22v3.2h-3.22zM43.79 98.15h3.22v3.2h-3.22zM96.32 98.15h3.22v3.2h-3.22zM105.07 101.05h3.22v3.2h-3.22zM128.42 103.95h3.22v3.2h-3.22zM43.79 106.85h3.22v3.2h-3.22zM125.5 106.85h3.22v3.2h-3.22zM137.18 106.85h3.22v3.2h-3.22zM43.79 109.75h3.22v3.2h-3.22z"/>
<path fill="#10092d" d="M84.64 51.75h3.22v3.2h-3.22zM87.56 51.75h3.22v3.2h-3.22zM90.48 51.75h3.22v3.2h-3.22zM99.24 51.75h3.22v3.2h-3.22zM102.16 51.75h3.22v3.2h-3.22zM105.07 54.65h3.22v3.2h-3.22zM75.89 63.35h3.22v3.2h-3.22zM78.81 66.25h3.22v3.2h-3.22zM81.73 69.15h3.22v3.2h-3.22zM90.48 72.05h3.22v3.2h-3.22zM93.4 72.05h3.22v3.2h-3.22zM96.32 72.05h3.22v3.2h-3.22z"/>
<path fill="#150b37" d="M93.4 51.75h3.22v3.2h-3.22zM96.32 51.75h3.22v3.2h-3.22zM81.73 54.65h3.22v3.2h-3.22zM78.81 57.55h3.22v3.2h-3.22zM107.99 57.55h3.22v3.2h-3.22zM78.81 60.45h3.22v3.2h-3.22zM107.99 60.45h3.22v3.2h-3.22zM78.81 63.35h3.22v3.2h-3.22zM107.99 63.35h3.22v3.2h-3.22zM107.99 66.25h3.22v3.2h-3.22zM84.64 69.15h3.22v3.2h-3.22zM102.16 69.15h3.22v3.2h-3.22z"/>
<path fill="#1b0c41" d="M84.64 54.65h3.22v3.2h-3.22zM102.16 54.65h3.22v3.2h-3.22zM81.73 66.25h3.22v3.2h-3.22zM105.07 66.25h3.22v3.2h-3.22zM87.56 69.15h3.22v3.2h-3.22zM99.24 69.15h3.22v3.2h-3.22z"/>
<path fill="#210c4a" d="M81.73 57.55h3.22v3.2h-3.22zM105.07 57.55h3.22v3.2h-3.22zM90.48 69.15h3.22v3.2h-3.22zM93.4 69.15h3.22v3.2h-3.22z"/>
<path fill="#280b53" d="M87.56 54.65h3.22v3.2h-3.22zM90.48 54.65h3.22v3.2h-3.22zM99.24 54.65h3.22v3.2h-3.22zM81.73 63.35h3.22v3.2h-3.22zM105.07 63.35h3.22v3.2h-3.22zM96.32 69.15h3.22v3.2h-3.22z"/>
<path fill="#2f0a5b" d="M93.4 54.65h3.22v3.2h-3.22zM96.32 54.65h3.22v3.2h-3.22zM84.64 66.25h3.22v3.2h-3.22zM102.16 66.25h3.22v3.2h-3.22z"/>
<path fill="#360961" d="M84.64 57.55h3.22v3.2h-3.22zM102.16 57.55h3.22v3.2h-3.22z"/>
<path fill="#3d0965" d="M81.73 60.45h3.22v3.2h-3.22zM87.56 66.25h3.22v3.2h-3.22zM99.24 66.25h3.22v3.2h-3.22z"/>
<path fill="#440a68" d="M105.07 60.45h3.22v3.2h-3.22z"/>
<path fill="#4a0c6b" d="M90.48 66.25h3.22v3.2h-3.22zM96.32 66.25h3.22v3.2h-3.22z"/>
<path fill="#510e6c" d="M93.4 66.25h3.22v3.2h-3.22z"/>
<path fill="#6a176e" d="M87.56 57.55h3.22v3.2h-3.22z"/>
<path fill="#71196e" d="M99.24 57.55h3.22v3.2h-3.22z"/>
<path fill="#a32c61" d="M84.64 63.35h3.22v3.2h-3.22zM102.16 63.35h3.22v3.2h-3.22z"/>
<path fill="#b63458" d="M90.48 57.55h3.22v3.2h-3.22zM96.32 57.55h3.22v3.2h-3.22z"/>
<path fill="#cc4248" d="M93.4 57.55h3.22v3.2h-3.22z"/>
<path fill="#d24644" d="M84.64 60.45h3.22v3.2h-3.22zM102.16 60.45h3.22v3.2h-3.22z"/>
<path fill="#f68013" d="M87.56 63.35h3.22v3.2h-3.22zM99.24 63.35h3.22v3.2h-3.22z"/>
<path fill="#fac42a" d="M87.56 60.45h3.22v3.2h-3.22z"/>
<path fill="#f9cb35" d="M99.24 60.45h3.22v3.2h-3.22z"/>
<path fill="#f5db4c" d="M90.48 63.35h3.22v3.2h-3.22zM96.32 63.35h3.22v3.2h-3.22z"/>
<path fill="#f3f68a" d="M93.4 63.35h3.22v3.2h-3.22z"/>
<path fill="#fcffa4" d="M90.48 60.45h3.22v3.2h-3.22zM93.4 60.45h3.22v3.2h-3.22zM96.32 60.45h3.22v3.2h-3.22z"/>
</g></g>
<line x1="36.1" y1="12.5" x2="38.1" y2="12.5" stroke="#222" stroke-width="0.5"/>
<text x="35.4" y="15.4" font-size="6.4" text-anchor="end" fill="#1a1a1a" stroke="#1a1a1a" stroke-width="0.12">300</text>
<line x1="36.1" y1="28.6" x2="38.1" y2="28.6" stroke="#222" stroke-width="0.5"/>
<text x="35.4" y="31.5" font-size="6.4" text-anchor="end" fill="#1a1a1a" stroke="#1a1a1a" stroke-width="0.12">200</text>
<line x1="36.1" y1="44.7" x2="38.1" y2="44.7" stroke="#222" stroke-width="0.5"/>
<text x="35.4" y="47.6" font-size="6.4" text-anchor="end" fill="#1a1a1a" stroke="#1a1a1a" stroke-width="0.12">100</text>
<line x1="36.1" y1="60.8" x2="38.1" y2="60.8" stroke="#222" stroke-width="0.5"/>
<text x="35.4" y="63.7" font-size="6.4" text-anchor="end" fill="#1a1a1a" stroke="#1a1a1a" stroke-width="0.12">0</text>
<line x1="36.1" y1="76.9" x2="38.1" y2="76.9" stroke="#222" stroke-width="0.5"/>
<text x="35.4" y="79.8" font-size="6.4" text-anchor="end" fill="#1a1a1a" stroke="#1a1a1a" stroke-width="0.12">−100</text>
<line x1="36.1" y1="93" x2="38.1" y2="93" stroke="#222" stroke-width="0.5"/>
<text x="35.4" y="95.9" font-size="6.4" text-anchor="end" fill="#1a1a1a" stroke="#1a1a1a" stroke-width="0.12">−200</text>
<line x1="36.1" y1="109.1" x2="38.1" y2="109.1" stroke="#222" stroke-width="0.5"/>
<text x="35.4" y="112" font-size="6.4" text-anchor="end" fill="#1a1a1a" stroke="#1a1a1a" stroke-width="0.12">−300</text>
<line x1="64.5" y1="112.8" x2="64.5" y2="114.8" stroke="#222" stroke-width="0.5"/>
<line x1="96.7" y1="112.8" x2="96.7" y2="114.8" stroke="#222" stroke-width="0.5"/>
<line x1="128.7" y1="112.8" x2="128.7" y2="114.8" stroke="#222" stroke-width="0.5"/>
<text transform="translate(14.4 57.7) rotate(-90)" font-size="8.1" text-anchor="middle" fill="#1a1a1a">Y [µm]</text>
<text x="146" y="14.01" font-size="11.7" text-anchor="end" fill="#fff">0.1 ms</text>
<clipPath id="h3"><rect x="37.7" y="125" width="110.6" height="109.6"/></clipPath>
<g clip-path="url(#h3)"><g filter="url(#bl)">
<rect x="34.7" y="122" width="116.6" height="115.6" fill="#07051b"/>
<path fill="#040312" d="M46.28 124.85h3.21v3.18h-3.21zM121.96 127.73h3.21v3.18h-3.21zM60.83 142.16h3.21v3.18h-3.21zM87.03 145.04h3.21v3.18h-3.21zM124.87 153.69h3.21v3.18h-3.21zM49.19 162.34h3.21v3.18h-3.21zM78.3 208.49h3.21v3.18h-3.21zM133.6 211.38h3.21v3.18h-3.21zM37.55 214.26h3.21v3.18h-3.21zM72.48 214.26h3.21v3.18h-3.21zM60.83 220.03h3.21v3.18h-3.21zM136.51 222.91h3.21v3.18h-3.21zM139.42 225.8h3.21v3.18h-3.21zM49.19 231.57h3.21v3.18h-3.21zM84.12 231.57h3.21v3.18h-3.21zM119.04 231.57h3.21v3.18h-3.21z"/>
<path fill="#0b0724" d="M49.19 124.85h3.21v3.18h-3.21zM52.1 124.85h3.21v3.18h-3.21zM66.66 124.85h3.21v3.18h-3.21zM113.22 124.85h3.21v3.18h-3.21zM130.69 124.85h3.21v3.18h-3.21zM46.28 127.73h3.21v3.18h-3.21zM57.92 127.73h3.21v3.18h-3.21zM63.74 127.73h3.21v3.18h-3.21zM69.57 127.73h3.21v3.18h-3.21zM72.48 127.73h3.21v3.18h-3.21zM81.21 127.73h3.21v3.18h-3.21zM87.03 127.73h3.21v3.18h-3.21zM89.94 127.73h3.21v3.18h-3.21zM124.87 127.73h3.21v3.18h-3.21zM130.69 127.73h3.21v3.18h-3.21zM40.46 130.62h3.21v3.18h-3.21zM72.48 130.62h3.21v3.18h-3.21zM78.3 130.62h3.21v3.18h-3.21zM121.96 130.62h3.21v3.18h-3.21zM130.69 130.62h3.21v3.18h-3.21zM136.51 130.62h3.21v3.18h-3.21zM46.28 133.5h3.21v3.18h-3.21zM89.94 133.5h3.21v3.18h-3.21zM101.58 133.5h3.21v3.18h-3.21zM133.6 133.5h3.21v3.18h-3.21zM139.42 133.5h3.21v3.18h-3.21zM81.21 136.39h3.21v3.18h-3.21zM101.58 136.39h3.21v3.18h-3.21zM116.13 136.39h3.21v3.18h-3.21zM133.6 136.39h3.21v3.18h-3.21zM52.1 139.27h3.21v3.18h-3.21zM60.83 139.27h3.21v3.18h-3.21zM78.3 139.27h3.21v3.18h-3.21zM92.85 139.27h3.21v3.18h-3.21zM116.13 139.27h3.21v3.18h-3.21zM119.04 139.27h3.21v3.18h-3.21zM124.87 139.27h3.21v3.18h-3.21zM37.55 142.16h3.21v3.18h-3.21zM46.28 142.16h3.21v3.18h-3.21zM49.19 142.16h3.21v3.18h-3.21zM52.1 142.16h3.21v3.18h-3.21zM119.04 142.16h3.21v3.18h-3.21zM57.92 145.04h3.21v3.18h-3.21zM72.48 145.04h3.21v3.18h-3.21zM110.31 145.04h3.21v3.18h-3.21zM116.13 145.04h3.21v3.18h-3.21zM136.51 145.04h3.21v3.18h-3.21zM37.55 147.92h3.21v3.18h-3.21zM40.46 147.92h3.21v3.18h-3.21zM52.1 147.92h3.21v3.18h-3.21zM81.21 147.92h3.21v3.18h-3.21zM101.58 147.92h3.21v3.18h-3.21zM142.33 147.92h3.21v3.18h-3.21zM43.37 150.81h3.21v3.18h-3.21zM49.19 150.81h3.21v3.18h-3.21zM55.01 150.81h3.21v3.18h-3.21zM57.92 150.81h3.21v3.18h-3.21zM66.66 150.81h3.21v3.18h-3.21zM72.48 150.81h3.21v3.18h-3.21zM75.39 150.81h3.21v3.18h-3.21zM78.3 150.81h3.21v3.18h-3.21zM104.49 150.81h3.21v3.18h-3.21zM110.31 150.81h3.21v3.18h-3.21zM136.51 150.81h3.21v3.18h-3.21zM55.01 153.69h3.21v3.18h-3.21zM66.66 153.69h3.21v3.18h-3.21zM72.48 153.69h3.21v3.18h-3.21zM89.94 153.69h3.21v3.18h-3.21zM92.85 153.69h3.21v3.18h-3.21zM98.67 153.69h3.21v3.18h-3.21zM37.55 156.58h3.21v3.18h-3.21zM69.57 156.58h3.21v3.18h-3.21zM84.12 156.58h3.21v3.18h-3.21zM89.94 156.58h3.21v3.18h-3.21zM92.85 156.58h3.21v3.18h-3.21zM98.67 156.58h3.21v3.18h-3.21zM104.49 156.58h3.21v3.18h-3.21zM133.6 156.58h3.21v3.18h-3.21zM78.3 159.46h3.21v3.18h-3.21zM84.12 159.46h3.21v3.18h-3.21zM89.94 159.46h3.21v3.18h-3.21zM95.76 159.46h3.21v3.18h-3.21zM98.67 159.46h3.21v3.18h-3.21zM113.22 159.46h3.21v3.18h-3.21zM116.13 159.46h3.21v3.18h-3.21zM119.04 159.46h3.21v3.18h-3.21zM66.66 162.34h3.21v3.18h-3.21zM72.48 162.34h3.21v3.18h-3.21zM75.39 162.34h3.21v3.18h-3.21zM81.21 162.34h3.21v3.18h-3.21zM84.12 162.34h3.21v3.18h-3.21zM87.03 162.34h3.21v3.18h-3.21zM89.94 162.34h3.21v3.18h-3.21zM92.85 162.34h3.21v3.18h-3.21zM95.76 162.34h3.21v3.18h-3.21zM98.67 162.34h3.21v3.18h-3.21zM104.49 162.34h3.21v3.18h-3.21zM107.4 162.34h3.21v3.18h-3.21zM127.78 162.34h3.21v3.18h-3.21zM40.46 165.23h3.21v3.18h-3.21zM46.28 165.23h3.21v3.18h-3.21zM49.19 165.23h3.21v3.18h-3.21zM60.83 165.23h3.21v3.18h-3.21zM75.39 165.23h3.21v3.18h-3.21zM81.21 165.23h3.21v3.18h-3.21zM84.12 165.23h3.21v3.18h-3.21zM87.03 165.23h3.21v3.18h-3.21zM101.58 165.23h3.21v3.18h-3.21zM104.49 165.23h3.21v3.18h-3.21zM107.4 165.23h3.21v3.18h-3.21zM110.31 165.23h3.21v3.18h-3.21zM133.6 165.23h3.21v3.18h-3.21zM37.55 168.11h3.21v3.18h-3.21zM46.28 168.11h3.21v3.18h-3.21zM49.19 168.11h3.21v3.18h-3.21zM69.57 168.11h3.21v3.18h-3.21zM72.48 168.11h3.21v3.18h-3.21zM75.39 168.11h3.21v3.18h-3.21zM113.22 168.11h3.21v3.18h-3.21zM116.13 168.11h3.21v3.18h-3.21zM119.04 168.11h3.21v3.18h-3.21zM124.87 168.11h3.21v3.18h-3.21zM136.51 168.11h3.21v3.18h-3.21zM43.37 171h3.21v3.18h-3.21zM66.66 171h3.21v3.18h-3.21zM69.57 171h3.21v3.18h-3.21zM72.48 171h3.21v3.18h-3.21zM75.39 171h3.21v3.18h-3.21zM113.22 171h3.21v3.18h-3.21zM116.13 171h3.21v3.18h-3.21zM121.96 171h3.21v3.18h-3.21zM130.69 171h3.21v3.18h-3.21zM139.42 171h3.21v3.18h-3.21zM55.01 173.88h3.21v3.18h-3.21zM63.74 173.88h3.21v3.18h-3.21zM66.66 173.88h3.21v3.18h-3.21zM69.57 173.88h3.21v3.18h-3.21zM116.13 173.88h3.21v3.18h-3.21zM119.04 173.88h3.21v3.18h-3.21zM121.96 173.88h3.21v3.18h-3.21zM124.87 173.88h3.21v3.18h-3.21zM133.6 173.88h3.21v3.18h-3.21zM37.55 176.77h3.21v3.18h-3.21zM46.28 176.77h3.21v3.18h-3.21zM55.01 176.77h3.21v3.18h-3.21zM57.92 176.77h3.21v3.18h-3.21zM60.83 176.77h3.21v3.18h-3.21zM63.74 176.77h3.21v3.18h-3.21zM66.66 176.77h3.21v3.18h-3.21zM69.57 176.77h3.21v3.18h-3.21zM121.96 176.77h3.21v3.18h-3.21zM124.87 176.77h3.21v3.18h-3.21zM40.46 179.65h3.21v3.18h-3.21zM43.37 179.65h3.21v3.18h-3.21zM60.83 179.65h3.21v3.18h-3.21zM63.74 179.65h3.21v3.18h-3.21zM66.66 179.65h3.21v3.18h-3.21zM119.04 179.65h3.21v3.18h-3.21zM121.96 179.65h3.21v3.18h-3.21zM124.87 179.65h3.21v3.18h-3.21zM127.78 179.65h3.21v3.18h-3.21zM133.6 179.65h3.21v3.18h-3.21zM40.46 182.53h3.21v3.18h-3.21zM43.37 182.53h3.21v3.18h-3.21zM60.83 182.53h3.21v3.18h-3.21zM63.74 182.53h3.21v3.18h-3.21zM66.66 182.53h3.21v3.18h-3.21zM119.04 182.53h3.21v3.18h-3.21zM121.96 182.53h3.21v3.18h-3.21zM124.87 182.53h3.21v3.18h-3.21zM127.78 182.53h3.21v3.18h-3.21zM52.1 185.42h3.21v3.18h-3.21zM63.74 185.42h3.21v3.18h-3.21zM69.57 185.42h3.21v3.18h-3.21zM119.04 185.42h3.21v3.18h-3.21zM121.96 185.42h3.21v3.18h-3.21zM127.78 185.42h3.21v3.18h-3.21zM130.69 185.42h3.21v3.18h-3.21zM136.51 185.42h3.21v3.18h-3.21zM40.46 188.3h3.21v3.18h-3.21zM55.01 188.3h3.21v3.18h-3.21zM57.92 188.3h3.21v3.18h-3.21zM60.83 188.3h3.21v3.18h-3.21zM63.74 188.3h3.21v3.18h-3.21zM66.66 188.3h3.21v3.18h-3.21zM121.96 188.3h3.21v3.18h-3.21zM127.78 188.3h3.21v3.18h-3.21zM130.69 188.3h3.21v3.18h-3.21zM46.28 191.19h3.21v3.18h-3.21zM52.1 191.19h3.21v3.18h-3.21zM55.01 191.19h3.21v3.18h-3.21zM60.83 191.19h3.21v3.18h-3.21zM63.74 191.19h3.21v3.18h-3.21zM66.66 191.19h3.21v3.18h-3.21zM69.57 191.19h3.21v3.18h-3.21zM116.13 191.19h3.21v3.18h-3.21zM119.04 191.19h3.21v3.18h-3.21zM121.96 191.19h3.21v3.18h-3.21zM124.87 191.19h3.21v3.18h-3.21zM127.78 191.19h3.21v3.18h-3.21zM130.69 191.19h3.21v3.18h-3.21zM136.51 191.19h3.21v3.18h-3.21zM145.24 191.19h3.21v3.18h-3.21zM37.55 194.07h3.21v3.18h-3.21zM46.28 194.07h3.21v3.18h-3.21zM60.83 194.07h3.21v3.18h-3.21zM63.74 194.07h3.21v3.18h-3.21zM66.66 194.07h3.21v3.18h-3.21zM69.57 194.07h3.21v3.18h-3.21zM72.48 194.07h3.21v3.18h-3.21zM116.13 194.07h3.21v3.18h-3.21zM119.04 194.07h3.21v3.18h-3.21zM121.96 194.07h3.21v3.18h-3.21zM136.51 194.07h3.21v3.18h-3.21zM142.33 194.07h3.21v3.18h-3.21zM43.37 196.96h3.21v3.18h-3.21zM57.92 196.96h3.21v3.18h-3.21zM66.66 196.96h3.21v3.18h-3.21zM69.57 196.96h3.21v3.18h-3.21zM72.48 196.96h3.21v3.18h-3.21zM75.39 196.96h3.21v3.18h-3.21zM113.22 196.96h3.21v3.18h-3.21zM116.13 196.96h3.21v3.18h-3.21zM119.04 196.96h3.21v3.18h-3.21zM121.96 196.96h3.21v3.18h-3.21zM127.78 196.96h3.21v3.18h-3.21zM145.24 196.96h3.21v3.18h-3.21zM52.1 199.84h3.21v3.18h-3.21zM63.74 199.84h3.21v3.18h-3.21zM72.48 199.84h3.21v3.18h-3.21zM78.3 199.84h3.21v3.18h-3.21zM107.4 199.84h3.21v3.18h-3.21zM110.31 199.84h3.21v3.18h-3.21zM113.22 199.84h3.21v3.18h-3.21zM57.92 202.72h3.21v3.18h-3.21zM60.83 202.72h3.21v3.18h-3.21zM72.48 202.72h3.21v3.18h-3.21zM78.3 202.72h3.21v3.18h-3.21zM81.21 202.72h3.21v3.18h-3.21zM84.12 202.72h3.21v3.18h-3.21zM89.94 202.72h3.21v3.18h-3.21zM92.85 202.72h3.21v3.18h-3.21zM95.76 202.72h3.21v3.18h-3.21zM98.67 202.72h3.21v3.18h-3.21zM101.58 202.72h3.21v3.18h-3.21zM104.49 202.72h3.21v3.18h-3.21zM107.4 202.72h3.21v3.18h-3.21zM110.31 202.72h3.21v3.18h-3.21zM119.04 202.72h3.21v3.18h-3.21zM60.83 205.61h3.21v3.18h-3.21zM89.94 205.61h3.21v3.18h-3.21zM92.85 205.61h3.21v3.18h-3.21zM95.76 205.61h3.21v3.18h-3.21zM98.67 205.61h3.21v3.18h-3.21zM101.58 205.61h3.21v3.18h-3.21zM104.49 205.61h3.21v3.18h-3.21zM113.22 205.61h3.21v3.18h-3.21zM121.96 205.61h3.21v3.18h-3.21zM127.78 205.61h3.21v3.18h-3.21zM142.33 205.61h3.21v3.18h-3.21zM145.24 205.61h3.21v3.18h-3.21zM63.74 208.49h3.21v3.18h-3.21zM84.12 208.49h3.21v3.18h-3.21zM92.85 208.49h3.21v3.18h-3.21zM116.13 208.49h3.21v3.18h-3.21zM49.19 211.38h3.21v3.18h-3.21zM55.01 211.38h3.21v3.18h-3.21zM57.92 211.38h3.21v3.18h-3.21zM136.51 211.38h3.21v3.18h-3.21zM139.42 211.38h3.21v3.18h-3.21zM95.76 214.26h3.21v3.18h-3.21zM104.49 214.26h3.21v3.18h-3.21zM130.69 214.26h3.21v3.18h-3.21zM136.51 214.26h3.21v3.18h-3.21zM139.42 214.26h3.21v3.18h-3.21zM49.19 217.14h3.21v3.18h-3.21zM63.74 217.14h3.21v3.18h-3.21zM37.55 220.03h3.21v3.18h-3.21zM52.1 220.03h3.21v3.18h-3.21zM63.74 220.03h3.21v3.18h-3.21zM66.66 220.03h3.21v3.18h-3.21zM72.48 220.03h3.21v3.18h-3.21zM81.21 220.03h3.21v3.18h-3.21zM104.49 220.03h3.21v3.18h-3.21zM113.22 220.03h3.21v3.18h-3.21zM124.87 220.03h3.21v3.18h-3.21zM133.6 220.03h3.21v3.18h-3.21zM139.42 220.03h3.21v3.18h-3.21zM60.83 222.91h3.21v3.18h-3.21zM78.3 222.91h3.21v3.18h-3.21zM92.85 222.91h3.21v3.18h-3.21zM98.67 222.91h3.21v3.18h-3.21zM124.87 222.91h3.21v3.18h-3.21zM139.42 222.91h3.21v3.18h-3.21zM142.33 222.91h3.21v3.18h-3.21zM145.24 222.91h3.21v3.18h-3.21zM63.74 225.8h3.21v3.18h-3.21zM104.49 225.8h3.21v3.18h-3.21zM113.22 225.8h3.21v3.18h-3.21zM133.6 225.8h3.21v3.18h-3.21zM142.33 225.8h3.21v3.18h-3.21zM43.37 228.68h3.21v3.18h-3.21zM46.28 228.68h3.21v3.18h-3.21zM72.48 228.68h3.21v3.18h-3.21zM95.76 228.68h3.21v3.18h-3.21zM110.31 228.68h3.21v3.18h-3.21zM46.28 231.57h3.21v3.18h-3.21zM75.39 231.57h3.21v3.18h-3.21zM87.03 231.57h3.21v3.18h-3.21zM98.67 231.57h3.21v3.18h-3.21zM107.4 231.57h3.21v3.18h-3.21zM127.78 231.57h3.21v3.18h-3.21z"/>
<path fill="#10092d" d="M89.94 165.23h3.21v3.18h-3.21zM92.85 165.23h3.21v3.18h-3.21zM98.67 165.23h3.21v3.18h-3.21zM78.3 168.11h3.21v3.18h-3.21zM81.21 168.11h3.21v3.18h-3.21zM104.49 168.11h3.21v3.18h-3.21zM107.4 168.11h3.21v3.18h-3.21zM110.31 168.11h3.21v3.18h-3.21zM110.31 171h3.21v3.18h-3.21zM72.48 173.88h3.21v3.18h-3.21zM72.48 176.77h3.21v3.18h-3.21zM116.13 176.77h3.21v3.18h-3.21zM119.04 176.77h3.21v3.18h-3.21zM69.57 179.65h3.21v3.18h-3.21zM116.13 179.65h3.21v3.18h-3.21zM69.57 182.53h3.21v3.18h-3.21zM66.66 185.42h3.21v3.18h-3.21zM69.57 188.3h3.21v3.18h-3.21zM116.13 188.3h3.21v3.18h-3.21zM119.04 188.3h3.21v3.18h-3.21zM72.48 191.19h3.21v3.18h-3.21zM113.22 191.19h3.21v3.18h-3.21zM75.39 194.07h3.21v3.18h-3.21zM113.22 194.07h3.21v3.18h-3.21zM78.3 196.96h3.21v3.18h-3.21zM81.21 196.96h3.21v3.18h-3.21zM107.4 196.96h3.21v3.18h-3.21zM81.21 199.84h3.21v3.18h-3.21zM84.12 199.84h3.21v3.18h-3.21zM87.03 199.84h3.21v3.18h-3.21zM98.67 199.84h3.21v3.18h-3.21zM101.58 199.84h3.21v3.18h-3.21zM104.49 199.84h3.21v3.18h-3.21zM87.03 202.72h3.21v3.18h-3.21z"/>
<path fill="#150b37" d="M95.76 165.23h3.21v3.18h-3.21zM84.12 168.11h3.21v3.18h-3.21zM87.03 168.11h3.21v3.18h-3.21zM101.58 168.11h3.21v3.18h-3.21zM78.3 171h3.21v3.18h-3.21zM75.39 173.88h3.21v3.18h-3.21zM113.22 173.88h3.21v3.18h-3.21zM113.22 176.77h3.21v3.18h-3.21zM72.48 179.65h3.21v3.18h-3.21zM116.13 182.53h3.21v3.18h-3.21zM72.48 185.42h3.21v3.18h-3.21zM116.13 185.42h3.21v3.18h-3.21zM72.48 188.3h3.21v3.18h-3.21zM113.22 188.3h3.21v3.18h-3.21zM75.39 191.19h3.21v3.18h-3.21zM78.3 194.07h3.21v3.18h-3.21zM107.4 194.07h3.21v3.18h-3.21zM110.31 194.07h3.21v3.18h-3.21zM104.49 196.96h3.21v3.18h-3.21zM110.31 196.96h3.21v3.18h-3.21zM89.94 199.84h3.21v3.18h-3.21zM92.85 199.84h3.21v3.18h-3.21zM95.76 199.84h3.21v3.18h-3.21z"/>
<path fill="#1b0c41" d="M95.76 168.11h3.21v3.18h-3.21zM98.67 168.11h3.21v3.18h-3.21zM81.21 171h3.21v3.18h-3.21zM107.4 171h3.21v3.18h-3.21zM78.3 173.88h3.21v3.18h-3.21zM110.31 173.88h3.21v3.18h-3.21zM75.39 176.77h3.21v3.18h-3.21zM75.39 179.65h3.21v3.18h-3.21zM113.22 179.65h3.21v3.18h-3.21zM72.48 182.53h3.21v3.18h-3.21zM113.22 182.53h3.21v3.18h-3.21zM113.22 185.42h3.21v3.18h-3.21zM75.39 188.3h3.21v3.18h-3.21zM110.31 191.19h3.21v3.18h-3.21zM84.12 196.96h3.21v3.18h-3.21zM87.03 196.96h3.21v3.18h-3.21zM101.58 196.96h3.21v3.18h-3.21z"/>
<path fill="#210c4a" d="M89.94 168.11h3.21v3.18h-3.21zM92.85 168.11h3.21v3.18h-3.21zM104.49 171h3.21v3.18h-3.21zM107.4 173.88h3.21v3.18h-3.21zM110.31 176.77h3.21v3.18h-3.21zM75.39 185.42h3.21v3.18h-3.21zM78.3 191.19h3.21v3.18h-3.21zM81.21 194.07h3.21v3.18h-3.21zM89.94 196.96h3.21v3.18h-3.21zM98.67 196.96h3.21v3.18h-3.21z"/>
<path fill="#280b53" d="M84.12 171h3.21v3.18h-3.21zM101.58 171h3.21v3.18h-3.21zM75.39 182.53h3.21v3.18h-3.21zM110.31 188.3h3.21v3.18h-3.21zM104.49 194.07h3.21v3.18h-3.21zM92.85 196.96h3.21v3.18h-3.21zM95.76 196.96h3.21v3.18h-3.21z"/>
<path fill="#2f0a5b" d="M81.21 173.88h3.21v3.18h-3.21zM78.3 176.77h3.21v3.18h-3.21zM107.4 191.19h3.21v3.18h-3.21zM84.12 194.07h3.21v3.18h-3.21z"/>
<path fill="#360961" d="M87.03 171h3.21v3.18h-3.21zM98.67 171h3.21v3.18h-3.21zM110.31 179.65h3.21v3.18h-3.21zM110.31 182.53h3.21v3.18h-3.21zM110.31 185.42h3.21v3.18h-3.21zM78.3 188.3h3.21v3.18h-3.21zM81.21 191.19h3.21v3.18h-3.21z"/>
<path fill="#3d0965" d="M89.94 171h3.21v3.18h-3.21zM92.85 171h3.21v3.18h-3.21zM104.49 173.88h3.21v3.18h-3.21zM107.4 176.77h3.21v3.18h-3.21zM78.3 179.65h3.21v3.18h-3.21zM78.3 185.42h3.21v3.18h-3.21zM87.03 194.07h3.21v3.18h-3.21zM101.58 194.07h3.21v3.18h-3.21z"/>
<path fill="#440a68" d="M95.76 171h3.21v3.18h-3.21zM78.3 182.53h3.21v3.18h-3.21zM107.4 188.3h3.21v3.18h-3.21zM104.49 191.19h3.21v3.18h-3.21zM98.67 194.07h3.21v3.18h-3.21z"/>
<path fill="#4a0c6b" d="M84.12 173.88h3.21v3.18h-3.21zM81.21 176.77h3.21v3.18h-3.21zM89.94 194.07h3.21v3.18h-3.21z"/>
<path fill="#510e6c" d="M101.58 173.88h3.21v3.18h-3.21zM107.4 179.65h3.21v3.18h-3.21zM81.21 188.3h3.21v3.18h-3.21zM84.12 191.19h3.21v3.18h-3.21zM92.85 194.07h3.21v3.18h-3.21zM95.76 194.07h3.21v3.18h-3.21z"/>
<path fill="#57106e" d="M107.4 182.53h3.21v3.18h-3.21zM107.4 185.42h3.21v3.18h-3.21z"/>
<path fill="#5d126e" d="M87.03 173.88h3.21v3.18h-3.21zM104.49 176.77h3.21v3.18h-3.21zM81.21 179.65h3.21v3.18h-3.21zM101.58 191.19h3.21v3.18h-3.21z"/>
<path fill="#64156e" d="M81.21 185.42h3.21v3.18h-3.21z"/>
<path fill="#6a176e" d="M98.67 173.88h3.21v3.18h-3.21zM84.12 176.77h3.21v3.18h-3.21zM81.21 182.53h3.21v3.18h-3.21zM104.49 188.3h3.21v3.18h-3.21z"/>
<path fill="#71196e" d="M89.94 173.88h3.21v3.18h-3.21zM87.03 191.19h3.21v3.18h-3.21z"/>
<path fill="#7d1e6d" d="M92.85 173.88h3.21v3.18h-3.21zM95.76 173.88h3.21v3.18h-3.21zM101.58 176.77h3.21v3.18h-3.21zM104.49 179.65h3.21v3.18h-3.21zM84.12 188.3h3.21v3.18h-3.21zM98.67 191.19h3.21v3.18h-3.21z"/>
<path fill="#84206b" d="M104.49 185.42h3.21v3.18h-3.21z"/>
<path fill="#8a226a" d="M89.94 191.19h3.21v3.18h-3.21z"/>
<path fill="#902568" d="M84.12 179.65h3.21v3.18h-3.21zM104.49 182.53h3.21v3.18h-3.21zM101.58 188.3h3.21v3.18h-3.21zM95.76 191.19h3.21v3.18h-3.21z"/>
<path fill="#972766" d="M87.03 176.77h3.21v3.18h-3.21zM92.85 191.19h3.21v3.18h-3.21z"/>
<path fill="#9d2964" d="M84.12 185.42h3.21v3.18h-3.21z"/>
<path fill="#a32c61" d="M84.12 182.53h3.21v3.18h-3.21zM87.03 188.3h3.21v3.18h-3.21z"/>
<path fill="#b0315b" d="M98.67 176.77h3.21v3.18h-3.21z"/>
<path fill="#b63458" d="M101.58 179.65h3.21v3.18h-3.21z"/>
<path fill="#c13a50" d="M89.94 176.77h3.21v3.18h-3.21zM101.58 185.42h3.21v3.18h-3.21z"/>
<path fill="#c73e4c" d="M98.67 188.3h3.21v3.18h-3.21z"/>
<path fill="#cc4248" d="M92.85 176.77h3.21v3.18h-3.21zM95.76 176.77h3.21v3.18h-3.21zM87.03 179.65h3.21v3.18h-3.21zM101.58 182.53h3.21v3.18h-3.21z"/>
<path fill="#d24644" d="M89.94 188.3h3.21v3.18h-3.21z"/>
<path fill="#d74b3f" d="M87.03 185.42h3.21v3.18h-3.21z"/>
<path fill="#e45a31" d="M87.03 182.53h3.21v3.18h-3.21zM95.76 188.3h3.21v3.18h-3.21z"/>
<path fill="#e8602d" d="M98.67 179.65h3.21v3.18h-3.21zM92.85 188.3h3.21v3.18h-3.21z"/>
<path fill="#f1731d" d="M98.67 185.42h3.21v3.18h-3.21z"/>
<path fill="#f47918" d="M89.94 179.65h3.21v3.18h-3.21z"/>
<path fill="#f98e09" d="M98.67 182.53h3.21v3.18h-3.21z"/>
<path fill="#fb9606" d="M89.94 185.42h3.21v3.18h-3.21z"/>
<path fill="#fca50a" d="M95.76 179.65h3.21v3.18h-3.21z"/>
<path fill="#fcac11" d="M92.85 179.65h3.21v3.18h-3.21z"/>
<path fill="#fcb418" d="M89.94 182.53h3.21v3.18h-3.21z"/>
<path fill="#fbbc21" d="M95.76 185.42h3.21v3.18h-3.21z"/>
<path fill="#f7d340" d="M92.85 185.42h3.21v3.18h-3.21z"/>
<path fill="#f2ea69" d="M95.76 182.53h3.21v3.18h-3.21z"/>
<path fill="#f3f68a" d="M92.85 182.53h3.21v3.18h-3.21z"/>
</g></g>
<line x1="35.7" y1="130" x2="37.7" y2="130" stroke="#222" stroke-width="0.5"/>
<text x="35" y="132.9" font-size="6.4" text-anchor="end" fill="#1a1a1a" stroke="#1a1a1a" stroke-width="0.12">300</text>
<line x1="35.7" y1="146.2" x2="37.7" y2="146.2" stroke="#222" stroke-width="0.5"/>
<text x="35" y="149.1" font-size="6.4" text-anchor="end" fill="#1a1a1a" stroke="#1a1a1a" stroke-width="0.12">200</text>
<line x1="35.7" y1="162.4" x2="37.7" y2="162.4" stroke="#222" stroke-width="0.5"/>
<text x="35" y="165.3" font-size="6.4" text-anchor="end" fill="#1a1a1a" stroke="#1a1a1a" stroke-width="0.12">100</text>
<line x1="35.7" y1="178.6" x2="37.7" y2="178.6" stroke="#222" stroke-width="0.5"/>
<text x="35" y="181.5" font-size="6.4" text-anchor="end" fill="#1a1a1a" stroke="#1a1a1a" stroke-width="0.12">0</text>
<line x1="35.7" y1="194.7" x2="37.7" y2="194.7" stroke="#222" stroke-width="0.5"/>
<text x="35" y="197.6" font-size="6.4" text-anchor="end" fill="#1a1a1a" stroke="#1a1a1a" stroke-width="0.12">−100</text>
<line x1="35.7" y1="210.8" x2="37.7" y2="210.8" stroke="#222" stroke-width="0.5"/>
<text x="35" y="213.7" font-size="6.4" text-anchor="end" fill="#1a1a1a" stroke="#1a1a1a" stroke-width="0.12">−200</text>
<line x1="35.7" y1="227" x2="37.7" y2="227" stroke="#222" stroke-width="0.5"/>
<text x="35" y="229.9" font-size="6.4" text-anchor="end" fill="#1a1a1a" stroke="#1a1a1a" stroke-width="0.12">−300</text>
<line x1="64.5" y1="234.6" x2="64.5" y2="236.6" stroke="#222" stroke-width="0.5"/>
<line x1="96.7" y1="234.6" x2="96.7" y2="236.6" stroke="#222" stroke-width="0.5"/>
<line x1="128.7" y1="234.6" x2="128.7" y2="236.6" stroke="#222" stroke-width="0.5"/>
<text transform="translate(14.4 179.8) rotate(-90)" font-size="8.1" text-anchor="middle" fill="#1a1a1a">Y [µm]</text>
<text x="145.3" y="136.42" font-size="11.7" text-anchor="end" fill="#fff">2.1 ms</text>
<clipPath id="h4"><rect x="38.1" y="246.3" width="109.7" height="109.3"/></clipPath>
<g clip-path="url(#h4)"><g filter="url(#bl)">
<rect x="35.1" y="243.3" width="115.7" height="115.3" fill="#1b0c41"/>
<path fill="#02010a" d="M133.22 269.16h3.19v3.18h-3.19zM141.88 303.68h3.19v3.18h-3.19z"/>
<path fill="#040312" d="M40.84 246.15h3.19v3.18h-3.19zM141.88 246.15h3.19v3.18h-3.19zM92.8 249.03h3.19v3.18h-3.19zM43.72 254.78h3.19v3.18h-3.19zM127.44 286.42h3.19v3.18h-3.19zM130.33 297.92h3.19v3.18h-3.19zM69.71 315.18h3.19v3.18h-3.19zM69.71 320.93h3.19v3.18h-3.19zM121.67 349.7h3.19v3.18h-3.19z"/>
<path fill="#07051b" d="M55.27 246.15h3.19v3.18h-3.19zM40.84 249.03h3.19v3.18h-3.19zM113.01 249.03h3.19v3.18h-3.19zM124.56 249.03h3.19v3.18h-3.19zM46.61 251.9h3.19v3.18h-3.19zM141.88 251.9h3.19v3.18h-3.19zM78.37 257.66h3.19v3.18h-3.19zM124.56 260.53h3.19v3.18h-3.19zM138.99 260.53h3.19v3.18h-3.19zM46.61 263.41h3.19v3.18h-3.19zM130.33 266.28h3.19v3.18h-3.19zM40.84 269.16h3.19v3.18h-3.19zM63.93 274.91h3.19v3.18h-3.19zM141.88 274.91h3.19v3.18h-3.19zM66.82 289.29h3.19v3.18h-3.19zM49.5 292.17h3.19v3.18h-3.19zM40.84 303.68h3.19v3.18h-3.19zM138.99 303.68h3.19v3.18h-3.19zM37.95 306.55h3.19v3.18h-3.19zM37.95 309.43h3.19v3.18h-3.19zM46.61 309.43h3.19v3.18h-3.19zM127.44 309.43h3.19v3.18h-3.19zM49.5 320.93h3.19v3.18h-3.19zM49.5 323.81h3.19v3.18h-3.19zM43.72 329.56h3.19v3.18h-3.19zM40.84 332.44h3.19v3.18h-3.19zM144.76 335.32h3.19v3.18h-3.19zM52.38 341.07h3.19v3.18h-3.19zM127.44 341.07h3.19v3.18h-3.19zM115.89 346.82h3.19v3.18h-3.19zM136.1 352.57h3.19v3.18h-3.19z"/>
<path fill="#0b0724" d="M78.37 246.15h3.19v3.18h-3.19zM52.38 249.03h3.19v3.18h-3.19zM101.46 249.03h3.19v3.18h-3.19zM138.99 249.03h3.19v3.18h-3.19zM144.76 249.03h3.19v3.18h-3.19zM75.48 251.9h3.19v3.18h-3.19zM92.8 251.9h3.19v3.18h-3.19zM52.38 254.78h3.19v3.18h-3.19zM127.44 254.78h3.19v3.18h-3.19zM130.33 254.78h3.19v3.18h-3.19zM40.84 257.66h3.19v3.18h-3.19zM52.38 260.53h3.19v3.18h-3.19zM78.37 260.53h3.19v3.18h-3.19zM84.14 260.53h3.19v3.18h-3.19zM130.33 260.53h3.19v3.18h-3.19zM37.95 263.41h3.19v3.18h-3.19zM58.16 263.41h3.19v3.18h-3.19zM66.82 263.41h3.19v3.18h-3.19zM138.99 266.28h3.19v3.18h-3.19zM141.88 266.28h3.19v3.18h-3.19zM61.04 269.16h3.19v3.18h-3.19zM63.93 269.16h3.19v3.18h-3.19zM37.95 272.04h3.19v3.18h-3.19zM43.72 272.04h3.19v3.18h-3.19zM49.5 283.54h3.19v3.18h-3.19zM46.61 286.42h3.19v3.18h-3.19zM66.82 286.42h3.19v3.18h-3.19zM124.56 286.42h3.19v3.18h-3.19zM40.84 292.17h3.19v3.18h-3.19zM136.1 292.17h3.19v3.18h-3.19zM46.61 295.05h3.19v3.18h-3.19zM49.5 295.05h3.19v3.18h-3.19zM37.95 297.92h3.19v3.18h-3.19zM52.38 297.92h3.19v3.18h-3.19zM144.76 297.92h3.19v3.18h-3.19zM40.84 300.8h3.19v3.18h-3.19zM49.5 300.8h3.19v3.18h-3.19zM55.27 300.8h3.19v3.18h-3.19zM133.22 306.55h3.19v3.18h-3.19zM138.99 306.55h3.19v3.18h-3.19zM40.84 309.43h3.19v3.18h-3.19zM144.76 309.43h3.19v3.18h-3.19zM46.61 312.31h3.19v3.18h-3.19zM138.99 312.31h3.19v3.18h-3.19zM37.95 315.18h3.19v3.18h-3.19zM66.82 315.18h3.19v3.18h-3.19zM55.27 318.06h3.19v3.18h-3.19zM58.16 318.06h3.19v3.18h-3.19zM144.76 318.06h3.19v3.18h-3.19zM141.88 320.93h3.19v3.18h-3.19zM49.5 326.69h3.19v3.18h-3.19zM63.93 326.69h3.19v3.18h-3.19zM75.48 326.69h3.19v3.18h-3.19zM141.88 326.69h3.19v3.18h-3.19zM144.76 326.69h3.19v3.18h-3.19zM46.61 329.56h3.19v3.18h-3.19zM63.93 329.56h3.19v3.18h-3.19zM121.67 329.56h3.19v3.18h-3.19zM127.44 329.56h3.19v3.18h-3.19zM37.95 332.44h3.19v3.18h-3.19zM61.04 332.44h3.19v3.18h-3.19zM75.48 332.44h3.19v3.18h-3.19zM136.1 332.44h3.19v3.18h-3.19zM52.38 335.32h3.19v3.18h-3.19zM78.37 335.32h3.19v3.18h-3.19zM72.59 338.19h3.19v3.18h-3.19zM87.03 338.19h3.19v3.18h-3.19zM75.48 341.07h3.19v3.18h-3.19zM78.37 341.07h3.19v3.18h-3.19zM133.22 341.07h3.19v3.18h-3.19zM136.1 341.07h3.19v3.18h-3.19zM55.27 343.94h3.19v3.18h-3.19zM40.84 346.82h3.19v3.18h-3.19zM78.37 346.82h3.19v3.18h-3.19zM127.44 346.82h3.19v3.18h-3.19zM138.99 346.82h3.19v3.18h-3.19zM81.25 349.7h3.19v3.18h-3.19zM127.44 349.7h3.19v3.18h-3.19zM130.33 349.7h3.19v3.18h-3.19zM138.99 349.7h3.19v3.18h-3.19zM144.76 349.7h3.19v3.18h-3.19zM40.84 352.57h3.19v3.18h-3.19zM115.89 352.57h3.19v3.18h-3.19zM127.44 352.57h3.19v3.18h-3.19zM130.33 352.57h3.19v3.18h-3.19zM141.88 352.57h3.19v3.18h-3.19zM144.76 352.57h3.19v3.18h-3.19z"/>
<path fill="#10092d" d="M46.61 246.15h3.19v3.18h-3.19zM49.5 246.15h3.19v3.18h-3.19zM61.04 246.15h3.19v3.18h-3.19zM75.48 246.15h3.19v3.18h-3.19zM104.35 246.15h3.19v3.18h-3.19zM124.56 246.15h3.19v3.18h-3.19zM37.95 249.03h3.19v3.18h-3.19zM49.5 249.03h3.19v3.18h-3.19zM75.48 249.03h3.19v3.18h-3.19zM87.03 249.03h3.19v3.18h-3.19zM107.23 249.03h3.19v3.18h-3.19zM115.89 249.03h3.19v3.18h-3.19zM127.44 249.03h3.19v3.18h-3.19zM133.22 249.03h3.19v3.18h-3.19zM43.72 251.9h3.19v3.18h-3.19zM63.93 251.9h3.19v3.18h-3.19zM66.82 251.9h3.19v3.18h-3.19zM69.71 251.9h3.19v3.18h-3.19zM78.37 251.9h3.19v3.18h-3.19zM89.91 251.9h3.19v3.18h-3.19zM118.78 251.9h3.19v3.18h-3.19zM37.95 254.78h3.19v3.18h-3.19zM55.27 254.78h3.19v3.18h-3.19zM58.16 254.78h3.19v3.18h-3.19zM87.03 254.78h3.19v3.18h-3.19zM110.12 254.78h3.19v3.18h-3.19zM113.01 254.78h3.19v3.18h-3.19zM124.56 254.78h3.19v3.18h-3.19zM43.72 257.66h3.19v3.18h-3.19zM49.5 257.66h3.19v3.18h-3.19zM52.38 257.66h3.19v3.18h-3.19zM55.27 257.66h3.19v3.18h-3.19zM63.93 257.66h3.19v3.18h-3.19zM136.1 257.66h3.19v3.18h-3.19zM37.95 260.53h3.19v3.18h-3.19zM43.72 260.53h3.19v3.18h-3.19zM46.61 260.53h3.19v3.18h-3.19zM49.5 260.53h3.19v3.18h-3.19zM118.78 260.53h3.19v3.18h-3.19zM43.72 263.41h3.19v3.18h-3.19zM69.71 263.41h3.19v3.18h-3.19zM121.67 263.41h3.19v3.18h-3.19zM133.22 263.41h3.19v3.18h-3.19zM136.1 263.41h3.19v3.18h-3.19zM84.14 266.28h3.19v3.18h-3.19zM133.22 266.28h3.19v3.18h-3.19zM37.95 269.16h3.19v3.18h-3.19zM43.72 269.16h3.19v3.18h-3.19zM49.5 269.16h3.19v3.18h-3.19zM124.56 269.16h3.19v3.18h-3.19zM130.33 269.16h3.19v3.18h-3.19zM138.99 269.16h3.19v3.18h-3.19zM144.76 269.16h3.19v3.18h-3.19zM63.93 272.04h3.19v3.18h-3.19zM124.56 272.04h3.19v3.18h-3.19zM136.1 272.04h3.19v3.18h-3.19zM37.95 274.91h3.19v3.18h-3.19zM130.33 274.91h3.19v3.18h-3.19zM52.38 277.79h3.19v3.18h-3.19zM136.1 277.79h3.19v3.18h-3.19zM138.99 277.79h3.19v3.18h-3.19zM141.88 277.79h3.19v3.18h-3.19zM52.38 280.67h3.19v3.18h-3.19zM61.04 280.67h3.19v3.18h-3.19zM124.56 280.67h3.19v3.18h-3.19zM141.88 283.54h3.19v3.18h-3.19zM130.33 286.42h3.19v3.18h-3.19zM136.1 286.42h3.19v3.18h-3.19zM144.76 286.42h3.19v3.18h-3.19zM49.5 289.29h3.19v3.18h-3.19zM55.27 289.29h3.19v3.18h-3.19zM63.93 289.29h3.19v3.18h-3.19zM130.33 289.29h3.19v3.18h-3.19zM138.99 289.29h3.19v3.18h-3.19zM138.99 292.17h3.19v3.18h-3.19zM40.84 295.05h3.19v3.18h-3.19zM55.27 295.05h3.19v3.18h-3.19zM58.16 295.05h3.19v3.18h-3.19zM141.88 295.05h3.19v3.18h-3.19zM49.5 297.92h3.19v3.18h-3.19zM66.82 297.92h3.19v3.18h-3.19zM124.56 297.92h3.19v3.18h-3.19zM58.16 300.8h3.19v3.18h-3.19zM37.95 303.68h3.19v3.18h-3.19zM52.38 303.68h3.19v3.18h-3.19zM61.04 303.68h3.19v3.18h-3.19zM63.93 303.68h3.19v3.18h-3.19zM66.82 303.68h3.19v3.18h-3.19zM144.76 303.68h3.19v3.18h-3.19zM58.16 306.55h3.19v3.18h-3.19zM127.44 306.55h3.19v3.18h-3.19zM43.72 309.43h3.19v3.18h-3.19zM55.27 309.43h3.19v3.18h-3.19zM58.16 309.43h3.19v3.18h-3.19zM124.56 309.43h3.19v3.18h-3.19zM141.88 309.43h3.19v3.18h-3.19zM52.38 312.31h3.19v3.18h-3.19zM58.16 312.31h3.19v3.18h-3.19zM61.04 312.31h3.19v3.18h-3.19zM124.56 312.31h3.19v3.18h-3.19zM127.44 312.31h3.19v3.18h-3.19zM133.22 312.31h3.19v3.18h-3.19zM46.61 315.18h3.19v3.18h-3.19zM61.04 315.18h3.19v3.18h-3.19zM144.76 315.18h3.19v3.18h-3.19zM130.33 318.06h3.19v3.18h-3.19zM40.84 320.93h3.19v3.18h-3.19zM55.27 320.93h3.19v3.18h-3.19zM127.44 320.93h3.19v3.18h-3.19zM46.61 323.81h3.19v3.18h-3.19zM55.27 323.81h3.19v3.18h-3.19zM63.93 323.81h3.19v3.18h-3.19zM124.56 323.81h3.19v3.18h-3.19zM144.76 323.81h3.19v3.18h-3.19zM40.84 326.69h3.19v3.18h-3.19zM46.61 326.69h3.19v3.18h-3.19zM66.82 326.69h3.19v3.18h-3.19zM52.38 329.56h3.19v3.18h-3.19zM72.59 329.56h3.19v3.18h-3.19zM133.22 329.56h3.19v3.18h-3.19zM63.93 332.44h3.19v3.18h-3.19zM133.22 332.44h3.19v3.18h-3.19zM55.27 335.32h3.19v3.18h-3.19zM61.04 335.32h3.19v3.18h-3.19zM69.71 335.32h3.19v3.18h-3.19zM81.25 335.32h3.19v3.18h-3.19zM52.38 338.19h3.19v3.18h-3.19zM55.27 338.19h3.19v3.18h-3.19zM66.82 338.19h3.19v3.18h-3.19zM75.48 338.19h3.19v3.18h-3.19zM110.12 338.19h3.19v3.18h-3.19zM138.99 338.19h3.19v3.18h-3.19zM37.95 341.07h3.19v3.18h-3.19zM55.27 341.07h3.19v3.18h-3.19zM69.71 341.07h3.19v3.18h-3.19zM84.14 341.07h3.19v3.18h-3.19zM141.88 341.07h3.19v3.18h-3.19zM40.84 343.94h3.19v3.18h-3.19zM43.72 343.94h3.19v3.18h-3.19zM58.16 343.94h3.19v3.18h-3.19zM84.14 343.94h3.19v3.18h-3.19zM92.8 343.94h3.19v3.18h-3.19zM115.89 343.94h3.19v3.18h-3.19zM138.99 343.94h3.19v3.18h-3.19zM141.88 343.94h3.19v3.18h-3.19zM43.72 346.82h3.19v3.18h-3.19zM52.38 346.82h3.19v3.18h-3.19zM58.16 346.82h3.19v3.18h-3.19zM69.71 346.82h3.19v3.18h-3.19zM98.57 346.82h3.19v3.18h-3.19zM110.12 346.82h3.19v3.18h-3.19zM121.67 346.82h3.19v3.18h-3.19zM37.95 349.7h3.19v3.18h-3.19zM49.5 349.7h3.19v3.18h-3.19zM61.04 349.7h3.19v3.18h-3.19zM63.93 349.7h3.19v3.18h-3.19zM87.03 349.7h3.19v3.18h-3.19zM37.95 352.57h3.19v3.18h-3.19zM43.72 352.57h3.19v3.18h-3.19zM61.04 352.57h3.19v3.18h-3.19zM89.91 352.57h3.19v3.18h-3.19zM92.8 352.57h3.19v3.18h-3.19zM107.23 352.57h3.19v3.18h-3.19zM138.99 352.57h3.19v3.18h-3.19z"/>
<path fill="#150b37" d="M52.38 246.15h3.19v3.18h-3.19zM58.16 246.15h3.19v3.18h-3.19zM66.82 246.15h3.19v3.18h-3.19zM69.71 246.15h3.19v3.18h-3.19zM72.59 246.15h3.19v3.18h-3.19zM81.25 246.15h3.19v3.18h-3.19zM87.03 246.15h3.19v3.18h-3.19zM92.8 246.15h3.19v3.18h-3.19zM95.69 246.15h3.19v3.18h-3.19zM107.23 246.15h3.19v3.18h-3.19zM115.89 246.15h3.19v3.18h-3.19zM118.78 246.15h3.19v3.18h-3.19zM127.44 246.15h3.19v3.18h-3.19zM136.1 246.15h3.19v3.18h-3.19zM55.27 249.03h3.19v3.18h-3.19zM58.16 249.03h3.19v3.18h-3.19zM66.82 249.03h3.19v3.18h-3.19zM72.59 249.03h3.19v3.18h-3.19zM84.14 249.03h3.19v3.18h-3.19zM104.35 249.03h3.19v3.18h-3.19zM40.84 251.9h3.19v3.18h-3.19zM81.25 251.9h3.19v3.18h-3.19zM107.23 251.9h3.19v3.18h-3.19zM113.01 251.9h3.19v3.18h-3.19zM121.67 251.9h3.19v3.18h-3.19zM124.56 251.9h3.19v3.18h-3.19zM130.33 251.9h3.19v3.18h-3.19zM144.76 251.9h3.19v3.18h-3.19zM61.04 254.78h3.19v3.18h-3.19zM69.71 254.78h3.19v3.18h-3.19zM89.91 254.78h3.19v3.18h-3.19zM92.8 254.78h3.19v3.18h-3.19zM101.46 254.78h3.19v3.18h-3.19zM104.35 254.78h3.19v3.18h-3.19zM121.67 254.78h3.19v3.18h-3.19zM138.99 254.78h3.19v3.18h-3.19zM144.76 254.78h3.19v3.18h-3.19zM37.95 257.66h3.19v3.18h-3.19zM46.61 257.66h3.19v3.18h-3.19zM58.16 257.66h3.19v3.18h-3.19zM66.82 257.66h3.19v3.18h-3.19zM84.14 257.66h3.19v3.18h-3.19zM113.01 257.66h3.19v3.18h-3.19zM124.56 257.66h3.19v3.18h-3.19zM127.44 257.66h3.19v3.18h-3.19zM130.33 257.66h3.19v3.18h-3.19zM141.88 257.66h3.19v3.18h-3.19zM55.27 260.53h3.19v3.18h-3.19zM61.04 260.53h3.19v3.18h-3.19zM75.48 260.53h3.19v3.18h-3.19zM98.57 260.53h3.19v3.18h-3.19zM115.89 260.53h3.19v3.18h-3.19zM121.67 260.53h3.19v3.18h-3.19zM127.44 260.53h3.19v3.18h-3.19zM141.88 260.53h3.19v3.18h-3.19zM144.76 260.53h3.19v3.18h-3.19zM49.5 263.41h3.19v3.18h-3.19zM52.38 263.41h3.19v3.18h-3.19zM55.27 263.41h3.19v3.18h-3.19zM72.59 263.41h3.19v3.18h-3.19zM75.48 263.41h3.19v3.18h-3.19zM84.14 263.41h3.19v3.18h-3.19zM127.44 263.41h3.19v3.18h-3.19zM130.33 263.41h3.19v3.18h-3.19zM43.72 266.28h3.19v3.18h-3.19zM52.38 266.28h3.19v3.18h-3.19zM63.93 266.28h3.19v3.18h-3.19zM72.59 266.28h3.19v3.18h-3.19zM107.23 266.28h3.19v3.18h-3.19zM115.89 266.28h3.19v3.18h-3.19zM121.67 266.28h3.19v3.18h-3.19zM127.44 266.28h3.19v3.18h-3.19zM136.1 266.28h3.19v3.18h-3.19zM58.16 269.16h3.19v3.18h-3.19zM66.82 269.16h3.19v3.18h-3.19zM46.61 272.04h3.19v3.18h-3.19zM52.38 272.04h3.19v3.18h-3.19zM55.27 272.04h3.19v3.18h-3.19zM58.16 272.04h3.19v3.18h-3.19zM78.37 272.04h3.19v3.18h-3.19zM115.89 272.04h3.19v3.18h-3.19zM144.76 272.04h3.19v3.18h-3.19zM40.84 274.91h3.19v3.18h-3.19zM46.61 274.91h3.19v3.18h-3.19zM61.04 274.91h3.19v3.18h-3.19zM40.84 277.79h3.19v3.18h-3.19zM55.27 277.79h3.19v3.18h-3.19zM75.48 277.79h3.19v3.18h-3.19zM130.33 277.79h3.19v3.18h-3.19zM43.72 280.67h3.19v3.18h-3.19zM46.61 280.67h3.19v3.18h-3.19zM63.93 280.67h3.19v3.18h-3.19zM66.82 280.67h3.19v3.18h-3.19zM127.44 280.67h3.19v3.18h-3.19zM130.33 280.67h3.19v3.18h-3.19zM133.22 280.67h3.19v3.18h-3.19zM55.27 283.54h3.19v3.18h-3.19zM61.04 283.54h3.19v3.18h-3.19zM124.56 283.54h3.19v3.18h-3.19zM136.1 283.54h3.19v3.18h-3.19zM144.76 283.54h3.19v3.18h-3.19zM37.95 286.42h3.19v3.18h-3.19zM43.72 286.42h3.19v3.18h-3.19zM55.27 286.42h3.19v3.18h-3.19zM138.99 286.42h3.19v3.18h-3.19zM37.95 289.29h3.19v3.18h-3.19zM127.44 289.29h3.19v3.18h-3.19zM133.22 289.29h3.19v3.18h-3.19zM37.95 292.17h3.19v3.18h-3.19zM43.72 292.17h3.19v3.18h-3.19zM69.71 292.17h3.19v3.18h-3.19zM124.56 292.17h3.19v3.18h-3.19zM130.33 292.17h3.19v3.18h-3.19zM144.76 292.17h3.19v3.18h-3.19zM37.95 295.05h3.19v3.18h-3.19zM52.38 295.05h3.19v3.18h-3.19zM61.04 295.05h3.19v3.18h-3.19zM63.93 295.05h3.19v3.18h-3.19zM133.22 295.05h3.19v3.18h-3.19zM144.76 295.05h3.19v3.18h-3.19zM40.84 297.92h3.19v3.18h-3.19zM46.61 297.92h3.19v3.18h-3.19zM133.22 297.92h3.19v3.18h-3.19zM138.99 297.92h3.19v3.18h-3.19zM141.88 297.92h3.19v3.18h-3.19zM43.72 300.8h3.19v3.18h-3.19zM46.61 300.8h3.19v3.18h-3.19zM61.04 300.8h3.19v3.18h-3.19zM63.93 300.8h3.19v3.18h-3.19zM121.67 300.8h3.19v3.18h-3.19zM127.44 300.8h3.19v3.18h-3.19zM141.88 300.8h3.19v3.18h-3.19zM144.76 300.8h3.19v3.18h-3.19zM43.72 303.68h3.19v3.18h-3.19zM58.16 303.68h3.19v3.18h-3.19zM127.44 303.68h3.19v3.18h-3.19zM136.1 303.68h3.19v3.18h-3.19zM40.84 306.55h3.19v3.18h-3.19zM49.5 306.55h3.19v3.18h-3.19zM52.38 306.55h3.19v3.18h-3.19zM130.33 306.55h3.19v3.18h-3.19zM136.1 306.55h3.19v3.18h-3.19zM49.5 309.43h3.19v3.18h-3.19zM52.38 309.43h3.19v3.18h-3.19zM40.84 312.31h3.19v3.18h-3.19zM49.5 312.31h3.19v3.18h-3.19zM63.93 312.31h3.19v3.18h-3.19zM144.76 312.31h3.19v3.18h-3.19zM40.84 315.18h3.19v3.18h-3.19zM58.16 315.18h3.19v3.18h-3.19zM127.44 315.18h3.19v3.18h-3.19zM136.1 315.18h3.19v3.18h-3.19zM37.95 318.06h3.19v3.18h-3.19zM46.61 318.06h3.19v3.18h-3.19zM49.5 318.06h3.19v3.18h-3.19zM52.38 318.06h3.19v3.18h-3.19zM63.93 318.06h3.19v3.18h-3.19zM69.71 318.06h3.19v3.18h-3.19zM127.44 318.06h3.19v3.18h-3.19zM37.95 320.93h3.19v3.18h-3.19zM43.72 320.93h3.19v3.18h-3.19zM72.59 320.93h3.19v3.18h-3.19zM124.56 320.93h3.19v3.18h-3.19zM133.22 320.93h3.19v3.18h-3.19zM136.1 320.93h3.19v3.18h-3.19zM40.84 323.81h3.19v3.18h-3.19zM52.38 323.81h3.19v3.18h-3.19zM115.89 323.81h3.19v3.18h-3.19zM37.95 326.69h3.19v3.18h-3.19zM69.71 326.69h3.19v3.18h-3.19zM121.67 326.69h3.19v3.18h-3.19zM130.33 326.69h3.19v3.18h-3.19zM133.22 326.69h3.19v3.18h-3.19zM49.5 329.56h3.19v3.18h-3.19zM58.16 329.56h3.19v3.18h-3.19zM124.56 329.56h3.19v3.18h-3.19zM136.1 329.56h3.19v3.18h-3.19zM141.88 329.56h3.19v3.18h-3.19zM58.16 332.44h3.19v3.18h-3.19zM69.71 332.44h3.19v3.18h-3.19zM78.37 332.44h3.19v3.18h-3.19zM113.01 332.44h3.19v3.18h-3.19zM124.56 332.44h3.19v3.18h-3.19zM144.76 332.44h3.19v3.18h-3.19zM40.84 335.32h3.19v3.18h-3.19zM46.61 335.32h3.19v3.18h-3.19zM58.16 335.32h3.19v3.18h-3.19zM66.82 335.32h3.19v3.18h-3.19zM75.48 335.32h3.19v3.18h-3.19zM84.14 335.32h3.19v3.18h-3.19zM133.22 335.32h3.19v3.18h-3.19zM138.99 335.32h3.19v3.18h-3.19zM46.61 338.19h3.19v3.18h-3.19zM58.16 338.19h3.19v3.18h-3.19zM61.04 338.19h3.19v3.18h-3.19zM84.14 338.19h3.19v3.18h-3.19zM95.69 338.19h3.19v3.18h-3.19zM98.57 338.19h3.19v3.18h-3.19zM118.78 338.19h3.19v3.18h-3.19zM133.22 338.19h3.19v3.18h-3.19zM136.1 338.19h3.19v3.18h-3.19zM141.88 338.19h3.19v3.18h-3.19zM43.72 341.07h3.19v3.18h-3.19zM46.61 341.07h3.19v3.18h-3.19zM61.04 341.07h3.19v3.18h-3.19zM63.93 341.07h3.19v3.18h-3.19zM72.59 341.07h3.19v3.18h-3.19zM87.03 341.07h3.19v3.18h-3.19zM104.35 341.07h3.19v3.18h-3.19zM144.76 341.07h3.19v3.18h-3.19zM61.04 343.94h3.19v3.18h-3.19zM75.48 343.94h3.19v3.18h-3.19zM104.35 343.94h3.19v3.18h-3.19zM124.56 343.94h3.19v3.18h-3.19zM133.22 343.94h3.19v3.18h-3.19zM136.1 343.94h3.19v3.18h-3.19zM37.95 346.82h3.19v3.18h-3.19zM46.61 346.82h3.19v3.18h-3.19zM72.59 346.82h3.19v3.18h-3.19zM92.8 346.82h3.19v3.18h-3.19zM101.46 346.82h3.19v3.18h-3.19zM113.01 346.82h3.19v3.18h-3.19zM130.33 346.82h3.19v3.18h-3.19zM144.76 346.82h3.19v3.18h-3.19zM43.72 349.7h3.19v3.18h-3.19zM46.61 349.7h3.19v3.18h-3.19zM52.38 349.7h3.19v3.18h-3.19zM55.27 349.7h3.19v3.18h-3.19zM58.16 349.7h3.19v3.18h-3.19zM72.59 349.7h3.19v3.18h-3.19zM78.37 349.7h3.19v3.18h-3.19zM95.69 349.7h3.19v3.18h-3.19zM98.57 349.7h3.19v3.18h-3.19zM113.01 349.7h3.19v3.18h-3.19zM115.89 349.7h3.19v3.18h-3.19zM136.1 349.7h3.19v3.18h-3.19zM141.88 349.7h3.19v3.18h-3.19zM49.5 352.57h3.19v3.18h-3.19zM58.16 352.57h3.19v3.18h-3.19zM63.93 352.57h3.19v3.18h-3.19zM69.71 352.57h3.19v3.18h-3.19zM75.48 352.57h3.19v3.18h-3.19zM84.14 352.57h3.19v3.18h-3.19zM87.03 352.57h3.19v3.18h-3.19zM104.35 352.57h3.19v3.18h-3.19z"/>
<path fill="#210c4a" d="M89.91 246.15h3.19v3.18h-3.19zM121.67 246.15h3.19v3.18h-3.19zM130.33 246.15h3.19v3.18h-3.19zM144.76 246.15h3.19v3.18h-3.19zM61.04 249.03h3.19v3.18h-3.19zM69.71 249.03h3.19v3.18h-3.19zM95.69 249.03h3.19v3.18h-3.19zM110.12 249.03h3.19v3.18h-3.19zM121.67 249.03h3.19v3.18h-3.19zM37.95 251.9h3.19v3.18h-3.19zM58.16 251.9h3.19v3.18h-3.19zM72.59 251.9h3.19v3.18h-3.19zM101.46 251.9h3.19v3.18h-3.19zM115.89 251.9h3.19v3.18h-3.19zM136.1 251.9h3.19v3.18h-3.19zM138.99 251.9h3.19v3.18h-3.19zM46.61 254.78h3.19v3.18h-3.19zM49.5 254.78h3.19v3.18h-3.19zM81.25 254.78h3.19v3.18h-3.19zM98.57 254.78h3.19v3.18h-3.19zM81.25 257.66h3.19v3.18h-3.19zM89.91 257.66h3.19v3.18h-3.19zM98.57 257.66h3.19v3.18h-3.19zM110.12 257.66h3.19v3.18h-3.19zM118.78 257.66h3.19v3.18h-3.19zM40.84 260.53h3.19v3.18h-3.19zM58.16 260.53h3.19v3.18h-3.19zM81.25 260.53h3.19v3.18h-3.19zM87.03 260.53h3.19v3.18h-3.19zM89.91 260.53h3.19v3.18h-3.19zM95.69 260.53h3.19v3.18h-3.19zM101.46 260.53h3.19v3.18h-3.19zM133.22 260.53h3.19v3.18h-3.19zM136.1 260.53h3.19v3.18h-3.19zM89.91 263.41h3.19v3.18h-3.19zM95.69 263.41h3.19v3.18h-3.19zM104.35 263.41h3.19v3.18h-3.19zM113.01 263.41h3.19v3.18h-3.19zM118.78 263.41h3.19v3.18h-3.19zM141.88 263.41h3.19v3.18h-3.19zM37.95 266.28h3.19v3.18h-3.19zM58.16 266.28h3.19v3.18h-3.19zM92.8 266.28h3.19v3.18h-3.19zM101.46 266.28h3.19v3.18h-3.19zM124.56 266.28h3.19v3.18h-3.19zM52.38 269.16h3.19v3.18h-3.19zM69.71 269.16h3.19v3.18h-3.19zM75.48 269.16h3.19v3.18h-3.19zM81.25 269.16h3.19v3.18h-3.19zM84.14 269.16h3.19v3.18h-3.19zM89.91 269.16h3.19v3.18h-3.19zM92.8 269.16h3.19v3.18h-3.19zM118.78 269.16h3.19v3.18h-3.19zM127.44 269.16h3.19v3.18h-3.19zM141.88 269.16h3.19v3.18h-3.19zM49.5 272.04h3.19v3.18h-3.19zM61.04 272.04h3.19v3.18h-3.19zM69.71 272.04h3.19v3.18h-3.19zM110.12 272.04h3.19v3.18h-3.19zM113.01 272.04h3.19v3.18h-3.19zM118.78 272.04h3.19v3.18h-3.19zM49.5 274.91h3.19v3.18h-3.19zM55.27 274.91h3.19v3.18h-3.19zM69.71 274.91h3.19v3.18h-3.19zM78.37 274.91h3.19v3.18h-3.19zM124.56 274.91h3.19v3.18h-3.19zM127.44 274.91h3.19v3.18h-3.19zM37.95 277.79h3.19v3.18h-3.19zM58.16 277.79h3.19v3.18h-3.19zM61.04 277.79h3.19v3.18h-3.19zM115.89 277.79h3.19v3.18h-3.19zM124.56 277.79h3.19v3.18h-3.19zM133.22 277.79h3.19v3.18h-3.19zM144.76 277.79h3.19v3.18h-3.19zM37.95 280.67h3.19v3.18h-3.19zM40.84 280.67h3.19v3.18h-3.19zM75.48 280.67h3.19v3.18h-3.19zM121.67 280.67h3.19v3.18h-3.19zM136.1 280.67h3.19v3.18h-3.19zM144.76 280.67h3.19v3.18h-3.19zM40.84 283.54h3.19v3.18h-3.19zM43.72 283.54h3.19v3.18h-3.19zM72.59 283.54h3.19v3.18h-3.19zM75.48 283.54h3.19v3.18h-3.19zM127.44 283.54h3.19v3.18h-3.19zM49.5 286.42h3.19v3.18h-3.19zM63.93 286.42h3.19v3.18h-3.19zM133.22 286.42h3.19v3.18h-3.19zM58.16 289.29h3.19v3.18h-3.19zM141.88 289.29h3.19v3.18h-3.19zM52.38 292.17h3.19v3.18h-3.19zM72.59 292.17h3.19v3.18h-3.19zM141.88 292.17h3.19v3.18h-3.19zM136.1 295.05h3.19v3.18h-3.19zM43.72 297.92h3.19v3.18h-3.19zM58.16 297.92h3.19v3.18h-3.19zM37.95 300.8h3.19v3.18h-3.19zM52.38 300.8h3.19v3.18h-3.19zM66.82 300.8h3.19v3.18h-3.19zM72.59 300.8h3.19v3.18h-3.19zM124.56 303.68h3.19v3.18h-3.19zM55.27 306.55h3.19v3.18h-3.19zM61.04 306.55h3.19v3.18h-3.19zM63.93 306.55h3.19v3.18h-3.19zM124.56 306.55h3.19v3.18h-3.19zM141.88 306.55h3.19v3.18h-3.19zM69.71 309.43h3.19v3.18h-3.19zM75.48 309.43h3.19v3.18h-3.19zM133.22 309.43h3.19v3.18h-3.19zM138.99 309.43h3.19v3.18h-3.19zM118.78 312.31h3.19v3.18h-3.19zM43.72 315.18h3.19v3.18h-3.19zM55.27 315.18h3.19v3.18h-3.19zM115.89 315.18h3.19v3.18h-3.19zM121.67 315.18h3.19v3.18h-3.19zM138.99 315.18h3.19v3.18h-3.19zM136.1 318.06h3.19v3.18h-3.19zM141.88 318.06h3.19v3.18h-3.19zM61.04 320.93h3.19v3.18h-3.19zM63.93 320.93h3.19v3.18h-3.19zM81.25 320.93h3.19v3.18h-3.19zM121.67 320.93h3.19v3.18h-3.19zM130.33 320.93h3.19v3.18h-3.19zM58.16 323.81h3.19v3.18h-3.19zM75.48 323.81h3.19v3.18h-3.19zM113.01 323.81h3.19v3.18h-3.19zM121.67 323.81h3.19v3.18h-3.19zM127.44 323.81h3.19v3.18h-3.19zM133.22 323.81h3.19v3.18h-3.19zM138.99 323.81h3.19v3.18h-3.19zM55.27 326.69h3.19v3.18h-3.19zM58.16 326.69h3.19v3.18h-3.19zM61.04 326.69h3.19v3.18h-3.19zM78.37 326.69h3.19v3.18h-3.19zM84.14 326.69h3.19v3.18h-3.19zM113.01 326.69h3.19v3.18h-3.19zM127.44 326.69h3.19v3.18h-3.19zM136.1 326.69h3.19v3.18h-3.19zM37.95 329.56h3.19v3.18h-3.19zM89.91 329.56h3.19v3.18h-3.19zM113.01 329.56h3.19v3.18h-3.19zM115.89 329.56h3.19v3.18h-3.19zM144.76 329.56h3.19v3.18h-3.19zM43.72 332.44h3.19v3.18h-3.19zM46.61 332.44h3.19v3.18h-3.19zM49.5 332.44h3.19v3.18h-3.19zM92.8 332.44h3.19v3.18h-3.19zM104.35 332.44h3.19v3.18h-3.19zM110.12 332.44h3.19v3.18h-3.19zM138.99 332.44h3.19v3.18h-3.19zM89.91 335.32h3.19v3.18h-3.19zM104.35 335.32h3.19v3.18h-3.19zM118.78 335.32h3.19v3.18h-3.19zM124.56 335.32h3.19v3.18h-3.19zM40.84 338.19h3.19v3.18h-3.19zM63.93 338.19h3.19v3.18h-3.19zM69.71 338.19h3.19v3.18h-3.19zM89.91 338.19h3.19v3.18h-3.19zM92.8 338.19h3.19v3.18h-3.19zM104.35 338.19h3.19v3.18h-3.19zM121.67 338.19h3.19v3.18h-3.19zM130.33 338.19h3.19v3.18h-3.19zM49.5 341.07h3.19v3.18h-3.19zM107.23 341.07h3.19v3.18h-3.19zM115.89 341.07h3.19v3.18h-3.19zM118.78 341.07h3.19v3.18h-3.19zM130.33 341.07h3.19v3.18h-3.19zM37.95 343.94h3.19v3.18h-3.19zM49.5 343.94h3.19v3.18h-3.19zM66.82 343.94h3.19v3.18h-3.19zM69.71 343.94h3.19v3.18h-3.19zM72.59 343.94h3.19v3.18h-3.19zM89.91 343.94h3.19v3.18h-3.19zM95.69 343.94h3.19v3.18h-3.19zM98.57 343.94h3.19v3.18h-3.19zM113.01 343.94h3.19v3.18h-3.19zM87.03 346.82h3.19v3.18h-3.19zM136.1 346.82h3.19v3.18h-3.19zM69.71 349.7h3.19v3.18h-3.19zM75.48 349.7h3.19v3.18h-3.19zM92.8 349.7h3.19v3.18h-3.19zM110.12 349.7h3.19v3.18h-3.19zM124.56 349.7h3.19v3.18h-3.19zM55.27 352.57h3.19v3.18h-3.19zM101.46 352.57h3.19v3.18h-3.19z"/>
<path fill="#280b53" d="M37.95 246.15h3.19v3.18h-3.19zM98.57 246.15h3.19v3.18h-3.19zM113.01 246.15h3.19v3.18h-3.19zM136.1 249.03h3.19v3.18h-3.19zM49.5 251.9h3.19v3.18h-3.19zM98.57 251.9h3.19v3.18h-3.19zM66.82 254.78h3.19v3.18h-3.19zM78.37 254.78h3.19v3.18h-3.19zM84.14 254.78h3.19v3.18h-3.19zM95.69 254.78h3.19v3.18h-3.19zM75.48 257.66h3.19v3.18h-3.19zM92.8 257.66h3.19v3.18h-3.19zM95.69 257.66h3.19v3.18h-3.19zM144.76 257.66h3.19v3.18h-3.19zM66.82 260.53h3.19v3.18h-3.19zM98.57 263.41h3.19v3.18h-3.19zM101.46 263.41h3.19v3.18h-3.19zM124.56 263.41h3.19v3.18h-3.19zM69.71 266.28h3.19v3.18h-3.19zM81.25 266.28h3.19v3.18h-3.19zM87.03 266.28h3.19v3.18h-3.19zM104.35 266.28h3.19v3.18h-3.19zM55.27 269.16h3.19v3.18h-3.19zM87.03 269.16h3.19v3.18h-3.19zM98.57 269.16h3.19v3.18h-3.19zM101.46 269.16h3.19v3.18h-3.19zM107.23 269.16h3.19v3.18h-3.19zM40.84 272.04h3.19v3.18h-3.19zM84.14 272.04h3.19v3.18h-3.19zM104.35 272.04h3.19v3.18h-3.19zM138.99 272.04h3.19v3.18h-3.19zM75.48 274.91h3.19v3.18h-3.19zM81.25 274.91h3.19v3.18h-3.19zM84.14 274.91h3.19v3.18h-3.19zM118.78 274.91h3.19v3.18h-3.19zM121.67 274.91h3.19v3.18h-3.19zM133.22 274.91h3.19v3.18h-3.19zM138.99 274.91h3.19v3.18h-3.19zM72.59 277.79h3.19v3.18h-3.19zM84.14 277.79h3.19v3.18h-3.19zM110.12 277.79h3.19v3.18h-3.19zM78.37 280.67h3.19v3.18h-3.19zM113.01 280.67h3.19v3.18h-3.19zM141.88 280.67h3.19v3.18h-3.19zM58.16 283.54h3.19v3.18h-3.19zM118.78 283.54h3.19v3.18h-3.19zM130.33 283.54h3.19v3.18h-3.19zM52.38 286.42h3.19v3.18h-3.19zM72.59 289.29h3.19v3.18h-3.19zM55.27 292.17h3.19v3.18h-3.19zM66.82 292.17h3.19v3.18h-3.19zM75.48 292.17h3.19v3.18h-3.19zM81.25 292.17h3.19v3.18h-3.19zM118.78 292.17h3.19v3.18h-3.19zM127.44 292.17h3.19v3.18h-3.19zM124.56 295.05h3.19v3.18h-3.19zM138.99 295.05h3.19v3.18h-3.19zM72.59 297.92h3.19v3.18h-3.19zM121.67 297.92h3.19v3.18h-3.19zM69.71 300.8h3.19v3.18h-3.19zM75.48 300.8h3.19v3.18h-3.19zM118.78 300.8h3.19v3.18h-3.19zM133.22 300.8h3.19v3.18h-3.19zM46.61 303.68h3.19v3.18h-3.19zM55.27 303.68h3.19v3.18h-3.19zM63.93 309.43h3.19v3.18h-3.19zM66.82 309.43h3.19v3.18h-3.19zM121.67 309.43h3.19v3.18h-3.19zM66.82 312.31h3.19v3.18h-3.19zM78.37 312.31h3.19v3.18h-3.19zM141.88 312.31h3.19v3.18h-3.19zM52.38 315.18h3.19v3.18h-3.19zM124.56 315.18h3.19v3.18h-3.19zM61.04 318.06h3.19v3.18h-3.19zM78.37 318.06h3.19v3.18h-3.19zM75.48 320.93h3.19v3.18h-3.19zM115.89 320.93h3.19v3.18h-3.19zM69.71 323.81h3.19v3.18h-3.19zM72.59 323.81h3.19v3.18h-3.19zM78.37 323.81h3.19v3.18h-3.19zM81.25 323.81h3.19v3.18h-3.19zM118.78 323.81h3.19v3.18h-3.19zM81.25 326.69h3.19v3.18h-3.19zM118.78 326.69h3.19v3.18h-3.19zM75.48 329.56h3.19v3.18h-3.19zM78.37 329.56h3.19v3.18h-3.19zM81.25 329.56h3.19v3.18h-3.19zM84.14 329.56h3.19v3.18h-3.19zM107.23 329.56h3.19v3.18h-3.19zM81.25 332.44h3.19v3.18h-3.19zM121.67 332.44h3.19v3.18h-3.19zM130.33 332.44h3.19v3.18h-3.19zM95.69 335.32h3.19v3.18h-3.19zM81.25 338.19h3.19v3.18h-3.19zM107.23 338.19h3.19v3.18h-3.19zM40.84 341.07h3.19v3.18h-3.19zM81.25 341.07h3.19v3.18h-3.19zM89.91 341.07h3.19v3.18h-3.19zM92.8 341.07h3.19v3.18h-3.19zM121.67 341.07h3.19v3.18h-3.19zM124.56 341.07h3.19v3.18h-3.19zM63.93 343.94h3.19v3.18h-3.19zM101.46 343.94h3.19v3.18h-3.19zM110.12 343.94h3.19v3.18h-3.19zM121.67 343.94h3.19v3.18h-3.19zM144.76 343.94h3.19v3.18h-3.19zM66.82 352.57h3.19v3.18h-3.19zM124.56 352.57h3.19v3.18h-3.19z"/>
<path fill="#2f0a5b" d="M133.22 251.9h3.19v3.18h-3.19zM118.78 254.78h3.19v3.18h-3.19zM101.46 257.66h3.19v3.18h-3.19zM115.89 257.66h3.19v3.18h-3.19zM121.67 257.66h3.19v3.18h-3.19zM92.8 260.53h3.19v3.18h-3.19zM78.37 263.41h3.19v3.18h-3.19zM98.57 266.28h3.19v3.18h-3.19zM118.78 266.28h3.19v3.18h-3.19zM95.69 269.16h3.19v3.18h-3.19zM113.01 269.16h3.19v3.18h-3.19zM81.25 272.04h3.19v3.18h-3.19zM107.23 274.91h3.19v3.18h-3.19zM115.89 274.91h3.19v3.18h-3.19zM81.25 277.79h3.19v3.18h-3.19zM107.23 277.79h3.19v3.18h-3.19zM69.71 280.67h3.19v3.18h-3.19zM118.78 280.67h3.19v3.18h-3.19zM69.71 283.54h3.19v3.18h-3.19zM78.37 283.54h3.19v3.18h-3.19zM69.71 286.42h3.19v3.18h-3.19zM121.67 286.42h3.19v3.18h-3.19zM61.04 289.29h3.19v3.18h-3.19zM118.78 289.29h3.19v3.18h-3.19zM121.67 289.29h3.19v3.18h-3.19zM63.93 292.17h3.19v3.18h-3.19zM69.71 295.05h3.19v3.18h-3.19zM72.59 295.05h3.19v3.18h-3.19zM69.71 297.92h3.19v3.18h-3.19zM75.48 297.92h3.19v3.18h-3.19zM81.25 297.92h3.19v3.18h-3.19zM127.44 297.92h3.19v3.18h-3.19zM136.1 297.92h3.19v3.18h-3.19zM115.89 300.8h3.19v3.18h-3.19zM75.48 303.68h3.19v3.18h-3.19zM78.37 303.68h3.19v3.18h-3.19zM118.78 303.68h3.19v3.18h-3.19zM121.67 303.68h3.19v3.18h-3.19zM69.71 306.55h3.19v3.18h-3.19zM78.37 306.55h3.19v3.18h-3.19zM72.59 309.43h3.19v3.18h-3.19zM121.67 312.31h3.19v3.18h-3.19zM72.59 318.06h3.19v3.18h-3.19zM115.89 318.06h3.19v3.18h-3.19zM84.14 323.81h3.19v3.18h-3.19zM98.57 323.81h3.19v3.18h-3.19zM101.46 323.81h3.19v3.18h-3.19zM87.03 326.69h3.19v3.18h-3.19zM107.23 326.69h3.19v3.18h-3.19zM69.71 329.56h3.19v3.18h-3.19zM72.59 332.44h3.19v3.18h-3.19zM98.57 332.44h3.19v3.18h-3.19zM101.46 332.44h3.19v3.18h-3.19zM107.23 332.44h3.19v3.18h-3.19zM92.8 335.32h3.19v3.18h-3.19zM101.46 335.32h3.19v3.18h-3.19zM110.12 335.32h3.19v3.18h-3.19zM127.44 338.19h3.19v3.18h-3.19zM130.33 343.94h3.19v3.18h-3.19zM101.46 349.7h3.19v3.18h-3.19z"/>
<path fill="#360961" d="M63.93 246.15h3.19v3.18h-3.19zM89.91 266.28h3.19v3.18h-3.19zM113.01 266.28h3.19v3.18h-3.19zM104.35 269.16h3.19v3.18h-3.19zM72.59 272.04h3.19v3.18h-3.19zM87.03 272.04h3.19v3.18h-3.19zM89.91 272.04h3.19v3.18h-3.19zM95.69 272.04h3.19v3.18h-3.19zM98.57 272.04h3.19v3.18h-3.19zM95.69 274.91h3.19v3.18h-3.19zM87.03 277.79h3.19v3.18h-3.19zM101.46 277.79h3.19v3.18h-3.19zM113.01 277.79h3.19v3.18h-3.19zM81.25 283.54h3.19v3.18h-3.19zM115.89 283.54h3.19v3.18h-3.19zM75.48 286.42h3.19v3.18h-3.19zM78.37 286.42h3.19v3.18h-3.19zM81.25 286.42h3.19v3.18h-3.19zM113.01 286.42h3.19v3.18h-3.19zM115.89 286.42h3.19v3.18h-3.19zM75.48 289.29h3.19v3.18h-3.19zM81.25 289.29h3.19v3.18h-3.19zM115.89 289.29h3.19v3.18h-3.19zM78.37 292.17h3.19v3.18h-3.19zM121.67 292.17h3.19v3.18h-3.19zM78.37 295.05h3.19v3.18h-3.19zM127.44 295.05h3.19v3.18h-3.19zM118.78 297.92h3.19v3.18h-3.19zM78.37 300.8h3.19v3.18h-3.19zM75.48 306.55h3.19v3.18h-3.19zM121.67 306.55h3.19v3.18h-3.19zM81.25 309.43h3.19v3.18h-3.19zM115.89 309.43h3.19v3.18h-3.19zM84.14 312.31h3.19v3.18h-3.19zM84.14 315.18h3.19v3.18h-3.19zM75.48 318.06h3.19v3.18h-3.19zM84.14 318.06h3.19v3.18h-3.19zM110.12 318.06h3.19v3.18h-3.19zM121.67 318.06h3.19v3.18h-3.19zM52.38 320.93h3.19v3.18h-3.19zM95.69 323.81h3.19v3.18h-3.19zM104.35 323.81h3.19v3.18h-3.19zM92.8 326.69h3.19v3.18h-3.19zM104.35 326.69h3.19v3.18h-3.19zM110.12 326.69h3.19v3.18h-3.19zM92.8 329.56h3.19v3.18h-3.19zM104.35 329.56h3.19v3.18h-3.19zM98.57 335.32h3.19v3.18h-3.19zM107.23 335.32h3.19v3.18h-3.19zM113.01 338.19h3.19v3.18h-3.19z"/>
<path fill="#3d0965" d="M92.8 263.41h3.19v3.18h-3.19zM107.23 263.41h3.19v3.18h-3.19zM95.69 266.28h3.19v3.18h-3.19zM89.91 274.91h3.19v3.18h-3.19zM92.8 274.91h3.19v3.18h-3.19zM113.01 274.91h3.19v3.18h-3.19zM72.59 280.67h3.19v3.18h-3.19zM84.14 280.67h3.19v3.18h-3.19zM110.12 283.54h3.19v3.18h-3.19zM113.01 283.54h3.19v3.18h-3.19zM118.78 286.42h3.19v3.18h-3.19zM115.89 292.17h3.19v3.18h-3.19zM75.48 295.05h3.19v3.18h-3.19zM115.89 295.05h3.19v3.18h-3.19zM118.78 295.05h3.19v3.18h-3.19zM113.01 297.92h3.19v3.18h-3.19zM72.59 303.68h3.19v3.18h-3.19zM113.01 303.68h3.19v3.18h-3.19zM115.89 303.68h3.19v3.18h-3.19zM81.25 306.55h3.19v3.18h-3.19zM115.89 306.55h3.19v3.18h-3.19zM78.37 309.43h3.19v3.18h-3.19zM118.78 309.43h3.19v3.18h-3.19zM81.25 315.18h3.19v3.18h-3.19zM81.25 318.06h3.19v3.18h-3.19zM113.01 318.06h3.19v3.18h-3.19zM101.46 320.93h3.19v3.18h-3.19zM110.12 320.93h3.19v3.18h-3.19zM113.01 320.93h3.19v3.18h-3.19zM87.03 323.81h3.19v3.18h-3.19zM89.91 323.81h3.19v3.18h-3.19zM110.12 323.81h3.19v3.18h-3.19zM101.46 326.69h3.19v3.18h-3.19zM95.69 329.56h3.19v3.18h-3.19zM98.57 329.56h3.19v3.18h-3.19zM101.46 329.56h3.19v3.18h-3.19zM95.69 332.44h3.19v3.18h-3.19z"/>
<path fill="#440a68" d="M110.12 269.16h3.19v3.18h-3.19zM92.8 272.04h3.19v3.18h-3.19zM107.23 272.04h3.19v3.18h-3.19zM87.03 274.91h3.19v3.18h-3.19zM98.57 274.91h3.19v3.18h-3.19zM104.35 274.91h3.19v3.18h-3.19zM110.12 274.91h3.19v3.18h-3.19zM89.91 277.79h3.19v3.18h-3.19zM95.69 277.79h3.19v3.18h-3.19zM87.03 280.67h3.19v3.18h-3.19zM89.91 280.67h3.19v3.18h-3.19zM104.35 280.67h3.19v3.18h-3.19zM84.14 283.54h3.19v3.18h-3.19zM107.23 283.54h3.19v3.18h-3.19zM78.37 289.29h3.19v3.18h-3.19zM84.14 289.29h3.19v3.18h-3.19zM110.12 289.29h3.19v3.18h-3.19zM81.25 295.05h3.19v3.18h-3.19zM84.14 295.05h3.19v3.18h-3.19zM121.67 295.05h3.19v3.18h-3.19zM78.37 297.92h3.19v3.18h-3.19zM115.89 297.92h3.19v3.18h-3.19zM81.25 300.8h3.19v3.18h-3.19zM81.25 303.68h3.19v3.18h-3.19zM113.01 309.43h3.19v3.18h-3.19zM113.01 312.31h3.19v3.18h-3.19zM115.89 312.31h3.19v3.18h-3.19zM78.37 315.18h3.19v3.18h-3.19zM87.03 315.18h3.19v3.18h-3.19zM118.78 315.18h3.19v3.18h-3.19zM107.23 318.06h3.19v3.18h-3.19zM92.8 320.93h3.19v3.18h-3.19zM104.35 320.93h3.19v3.18h-3.19zM107.23 320.93h3.19v3.18h-3.19zM92.8 323.81h3.19v3.18h-3.19zM107.23 323.81h3.19v3.18h-3.19zM89.91 326.69h3.19v3.18h-3.19zM95.69 326.69h3.19v3.18h-3.19zM98.57 326.69h3.19v3.18h-3.19z"/>
<path fill="#4a0c6b" d="M104.35 277.79h3.19v3.18h-3.19zM95.69 280.67h3.19v3.18h-3.19zM110.12 280.67h3.19v3.18h-3.19zM84.14 286.42h3.19v3.18h-3.19zM113.01 289.29h3.19v3.18h-3.19zM110.12 297.92h3.19v3.18h-3.19zM113.01 300.8h3.19v3.18h-3.19zM84.14 306.55h3.19v3.18h-3.19zM110.12 309.43h3.19v3.18h-3.19zM81.25 312.31h3.19v3.18h-3.19zM87.03 312.31h3.19v3.18h-3.19zM113.01 315.18h3.19v3.18h-3.19zM92.8 318.06h3.19v3.18h-3.19zM87.03 320.93h3.19v3.18h-3.19zM89.91 320.93h3.19v3.18h-3.19zM95.69 320.93h3.19v3.18h-3.19zM98.57 320.93h3.19v3.18h-3.19z"/>
<path fill="#510e6c" d="M101.46 274.91h3.19v3.18h-3.19zM92.8 277.79h3.19v3.18h-3.19zM107.23 280.67h3.19v3.18h-3.19zM87.03 283.54h3.19v3.18h-3.19zM110.12 292.17h3.19v3.18h-3.19zM110.12 295.05h3.19v3.18h-3.19zM113.01 295.05h3.19v3.18h-3.19zM110.12 300.8h3.19v3.18h-3.19zM84.14 303.68h3.19v3.18h-3.19zM87.03 303.68h3.19v3.18h-3.19zM87.03 309.43h3.19v3.18h-3.19zM107.23 315.18h3.19v3.18h-3.19zM110.12 315.18h3.19v3.18h-3.19z"/>
<path fill="#57106e" d="M98.57 277.79h3.19v3.18h-3.19zM98.57 280.67h3.19v3.18h-3.19zM101.46 280.67h3.19v3.18h-3.19zM89.91 283.54h3.19v3.18h-3.19zM89.91 286.42h3.19v3.18h-3.19zM107.23 286.42h3.19v3.18h-3.19zM110.12 286.42h3.19v3.18h-3.19zM87.03 292.17h3.19v3.18h-3.19zM113.01 292.17h3.19v3.18h-3.19zM84.14 297.92h3.19v3.18h-3.19zM84.14 309.43h3.19v3.18h-3.19zM107.23 312.31h3.19v3.18h-3.19zM92.8 315.18h3.19v3.18h-3.19zM87.03 318.06h3.19v3.18h-3.19zM89.91 318.06h3.19v3.18h-3.19zM104.35 318.06h3.19v3.18h-3.19z"/>
<path fill="#5d126e" d="M92.8 280.67h3.19v3.18h-3.19zM101.46 283.54h3.19v3.18h-3.19zM104.35 283.54h3.19v3.18h-3.19zM87.03 286.42h3.19v3.18h-3.19zM89.91 289.29h3.19v3.18h-3.19zM84.14 292.17h3.19v3.18h-3.19zM89.91 295.05h3.19v3.18h-3.19zM84.14 300.8h3.19v3.18h-3.19zM110.12 306.55h3.19v3.18h-3.19zM113.01 306.55h3.19v3.18h-3.19zM89.91 309.43h3.19v3.18h-3.19zM107.23 309.43h3.19v3.18h-3.19zM110.12 312.31h3.19v3.18h-3.19zM89.91 315.18h3.19v3.18h-3.19zM104.35 315.18h3.19v3.18h-3.19zM98.57 318.06h3.19v3.18h-3.19zM101.46 318.06h3.19v3.18h-3.19z"/>
<path fill="#64156e" d="M107.23 289.29h3.19v3.18h-3.19zM87.03 295.05h3.19v3.18h-3.19zM87.03 297.92h3.19v3.18h-3.19zM87.03 300.8h3.19v3.18h-3.19zM110.12 303.68h3.19v3.18h-3.19zM87.03 306.55h3.19v3.18h-3.19zM89.91 306.55h3.19v3.18h-3.19zM89.91 312.31h3.19v3.18h-3.19zM101.46 315.18h3.19v3.18h-3.19zM95.69 318.06h3.19v3.18h-3.19z"/>
<path fill="#6a176e" d="M104.35 286.42h3.19v3.18h-3.19zM87.03 289.29h3.19v3.18h-3.19zM107.23 295.05h3.19v3.18h-3.19zM107.23 297.92h3.19v3.18h-3.19zM104.35 309.43h3.19v3.18h-3.19zM104.35 312.31h3.19v3.18h-3.19z"/>
<path fill="#71196e" d="M92.8 283.54h3.19v3.18h-3.19zM104.35 289.29h3.19v3.18h-3.19zM89.91 292.17h3.19v3.18h-3.19zM107.23 292.17h3.19v3.18h-3.19z"/>
<path fill="#771c6d" d="M95.69 283.54h3.19v3.18h-3.19zM92.8 286.42h3.19v3.18h-3.19zM107.23 300.8h3.19v3.18h-3.19zM89.91 303.68h3.19v3.18h-3.19zM107.23 303.68h3.19v3.18h-3.19zM104.35 306.55h3.19v3.18h-3.19zM107.23 306.55h3.19v3.18h-3.19zM95.69 315.18h3.19v3.18h-3.19z"/>
<path fill="#7d1e6d" d="M98.57 283.54h3.19v3.18h-3.19zM104.35 292.17h3.19v3.18h-3.19zM104.35 303.68h3.19v3.18h-3.19zM98.57 315.18h3.19v3.18h-3.19z"/>
<path fill="#84206b" d="M89.91 297.92h3.19v3.18h-3.19zM89.91 300.8h3.19v3.18h-3.19zM92.8 312.31h3.19v3.18h-3.19z"/>
<path fill="#8a226a" d="M104.35 295.05h3.19v3.18h-3.19z"/>
<path fill="#902568" d="M101.46 312.31h3.19v3.18h-3.19z"/>
<path fill="#972766" d="M101.46 286.42h3.19v3.18h-3.19z"/>
<path fill="#9d2964" d="M104.35 297.92h3.19v3.18h-3.19zM104.35 300.8h3.19v3.18h-3.19z"/>
<path fill="#b0315b" d="M98.57 286.42h3.19v3.18h-3.19zM92.8 309.43h3.19v3.18h-3.19z"/>
<path fill="#b63458" d="M95.69 286.42h3.19v3.18h-3.19zM92.8 289.29h3.19v3.18h-3.19z"/>
<path fill="#bc3754" d="M101.46 309.43h3.19v3.18h-3.19zM95.69 312.31h3.19v3.18h-3.19z"/>
<path fill="#c73e4c" d="M101.46 289.29h3.19v3.18h-3.19zM98.57 312.31h3.19v3.18h-3.19z"/>
<path fill="#d24644" d="M92.8 292.17h3.19v3.18h-3.19zM92.8 306.55h3.19v3.18h-3.19z"/>
<path fill="#db503b" d="M101.46 292.17h3.19v3.18h-3.19z"/>
<path fill="#e45a31" d="M92.8 295.05h3.19v3.18h-3.19zM98.57 309.43h3.19v3.18h-3.19z"/>
<path fill="#e8602d" d="M95.69 289.29h3.19v3.18h-3.19z"/>
<path fill="#eb6628" d="M92.8 303.68h3.19v3.18h-3.19zM101.46 303.68h3.19v3.18h-3.19zM101.46 306.55h3.19v3.18h-3.19zM95.69 309.43h3.19v3.18h-3.19z"/>
<path fill="#ef6c23" d="M92.8 300.8h3.19v3.18h-3.19z"/>
<path fill="#f1731d" d="M98.57 289.29h3.19v3.18h-3.19z"/>
<path fill="#f47918" d="M92.8 297.92h3.19v3.18h-3.19zM101.46 300.8h3.19v3.18h-3.19z"/>
<path fill="#f68013" d="M101.46 295.05h3.19v3.18h-3.19zM101.46 297.92h3.19v3.18h-3.19z"/>
<path fill="#f98e09" d="M95.69 306.55h3.19v3.18h-3.19z"/>
<path fill="#fb9d07" d="M98.57 292.17h3.19v3.18h-3.19z"/>
<path fill="#fca50a" d="M95.69 292.17h3.19v3.18h-3.19z"/>
<path fill="#fcb418" d="M98.57 306.55h3.19v3.18h-3.19z"/>
<path fill="#f9cb35" d="M95.69 303.68h3.19v3.18h-3.19z"/>
<path fill="#f7d340" d="M95.69 295.05h3.19v3.18h-3.19z"/>
<path fill="#f5db4c" d="M95.69 300.8h3.19v3.18h-3.19z"/>
<path fill="#f3e35a" d="M98.57 297.92h3.19v3.18h-3.19zM98.57 303.68h3.19v3.18h-3.19z"/>
<path fill="#f2ea69" d="M98.57 295.05h3.19v3.18h-3.19zM95.69 297.92h3.19v3.18h-3.19z"/>
<path fill="#f8fb9a" d="M98.57 300.8h3.19v3.18h-3.19z"/>
</g></g>
<line x1="36.1" y1="252.8" x2="38.1" y2="252.8" stroke="#222" stroke-width="0.5"/>
<text x="35.4" y="255.7" font-size="6.4" text-anchor="end" fill="#1a1a1a" stroke="#1a1a1a" stroke-width="0.12">100</text>
<line x1="36.1" y1="268.95" x2="38.1" y2="268.95" stroke="#222" stroke-width="0.5"/>
<text x="35.4" y="271.85" font-size="6.4" text-anchor="end" fill="#1a1a1a" stroke="#1a1a1a" stroke-width="0.12">0</text>
<line x1="36.1" y1="285.1" x2="38.1" y2="285.1" stroke="#222" stroke-width="0.5"/>
<text x="35.4" y="288" font-size="6.4" text-anchor="end" fill="#1a1a1a" stroke="#1a1a1a" stroke-width="0.12">−100</text>
<line x1="36.1" y1="301.25" x2="38.1" y2="301.25" stroke="#222" stroke-width="0.5"/>
<text x="35.4" y="304.15" font-size="6.4" text-anchor="end" fill="#1a1a1a" stroke="#1a1a1a" stroke-width="0.12">−200</text>
<line x1="36.1" y1="317.4" x2="38.1" y2="317.4" stroke="#222" stroke-width="0.5"/>
<text x="35.4" y="320.3" font-size="6.4" text-anchor="end" fill="#1a1a1a" stroke="#1a1a1a" stroke-width="0.12">−300</text>
<line x1="36.1" y1="333.55" x2="38.1" y2="333.55" stroke="#222" stroke-width="0.5"/>
<text x="35.4" y="336.45" font-size="6.4" text-anchor="end" fill="#1a1a1a" stroke="#1a1a1a" stroke-width="0.12">−400</text>
<line x1="36.1" y1="349.7" x2="38.1" y2="349.7" stroke="#222" stroke-width="0.5"/>
<text x="35.4" y="352.6" font-size="6.4" text-anchor="end" fill="#1a1a1a" stroke="#1a1a1a" stroke-width="0.12">−500</text>
<line x1="64.5" y1="355.6" x2="64.5" y2="357.6" stroke="#222" stroke-width="0.5"/>
<text x="64.5" y="363.96" font-size="6.4" text-anchor="middle" fill="#1a1a1a" stroke="#1a1a1a" stroke-width="0.12">−200</text>
<line x1="96.7" y1="355.6" x2="96.7" y2="357.6" stroke="#222" stroke-width="0.5"/>
<text x="96.7" y="363.96" font-size="6.4" text-anchor="middle" fill="#1a1a1a" stroke="#1a1a1a" stroke-width="0.12">0</text>
<line x1="128.8" y1="355.6" x2="128.8" y2="357.6" stroke="#222" stroke-width="0.5"/>
<text x="128.8" y="363.96" font-size="6.4" text-anchor="middle" fill="#1a1a1a" stroke="#1a1a1a" stroke-width="0.12">200</text>
<text x="93.2" y="372.1" font-size="8.1" text-anchor="middle" fill="#1a1a1a">X [µm]</text>
<text transform="translate(14.4 300.95) rotate(-90)" font-size="8.1" text-anchor="middle" fill="#1a1a1a">Y [µm]</text>
<text x="144.8" y="257.72" font-size="11.7" text-anchor="end" fill="#fff">6.1 ms</text>
<text x="6" y="13.5" font-family="'Liberation Serif','DejaVu Serif',serif" font-size="15.5" fill="#111">a)</text>
<text x="6" y="135" font-family="'Liberation Serif','DejaVu Serif',serif" font-size="15.5" fill="#111">b)</text>
<text x="6" y="255" font-family="'Liberation Serif','DejaVu Serif',serif" font-size="15.5" fill="#111">c)</text>
<text x="172.4" y="14.7" font-family="'Liberation Serif','DejaVu Serif',serif" font-size="13.2" fill="#111">d)</text>
</svg>
</body></html>
